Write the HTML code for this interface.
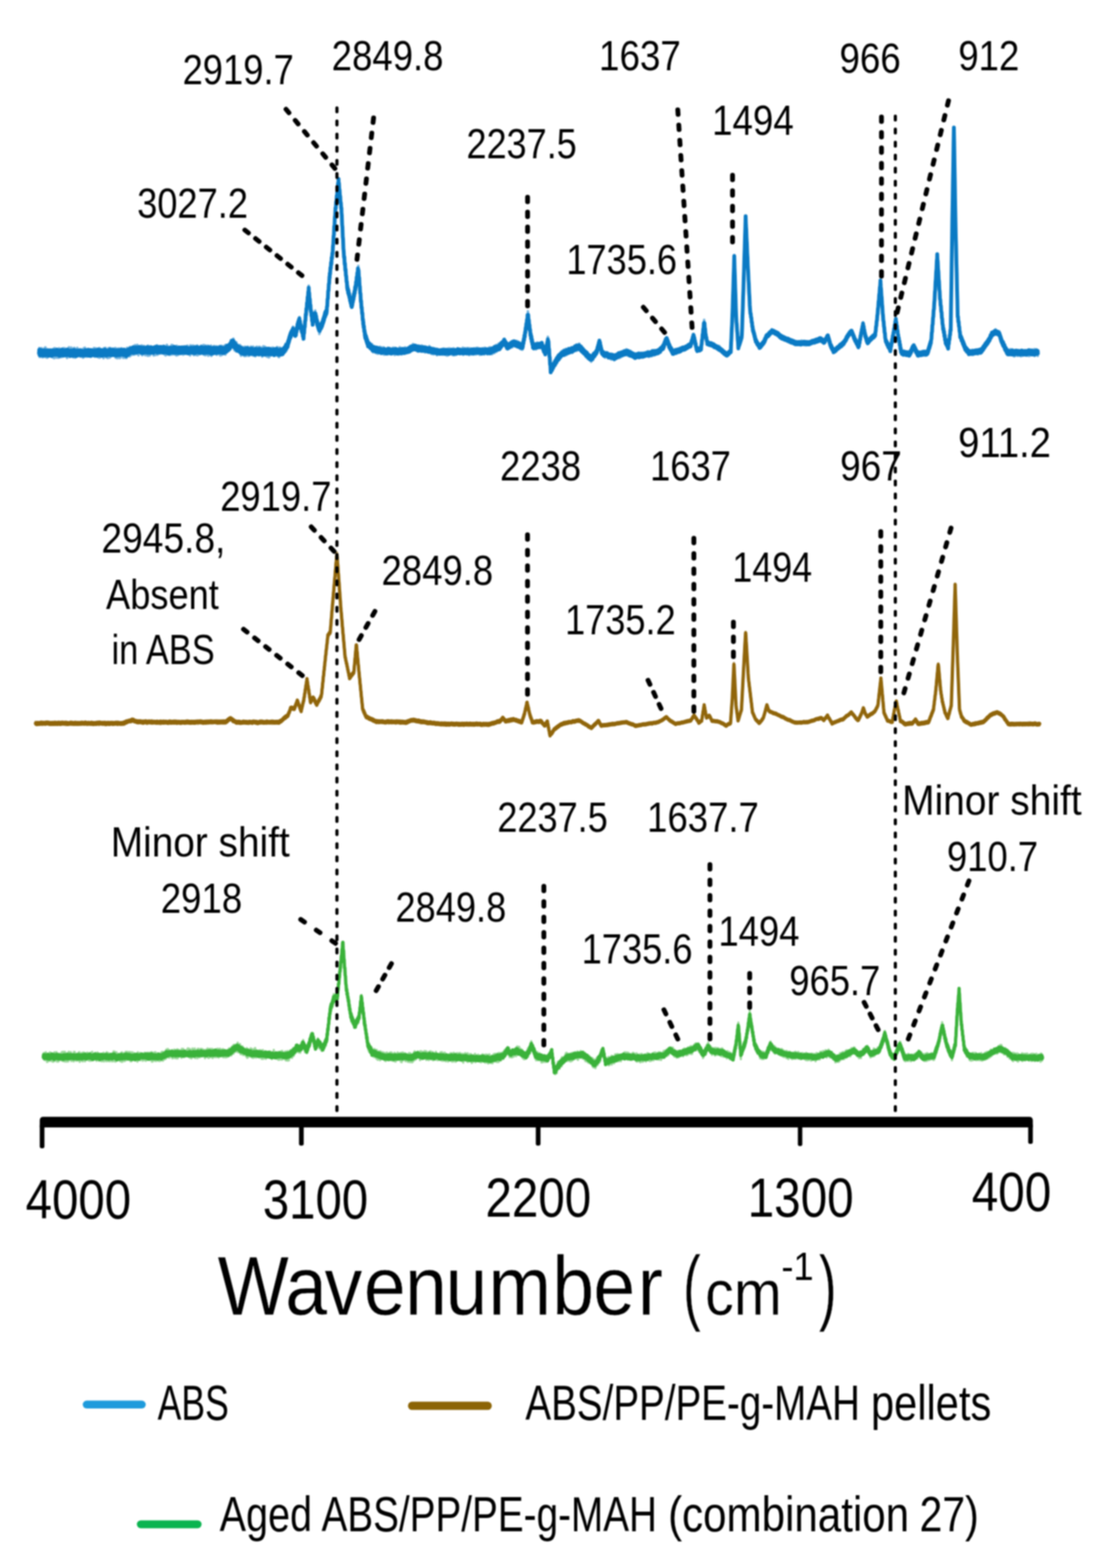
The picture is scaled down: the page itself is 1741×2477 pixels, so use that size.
<!DOCTYPE html>
<html lang="en"><head><meta charset="utf-8"><title>FTIR spectra</title>
<style>html,body{margin:0;padding:0;background:#fff}body{width:1741px;height:2477px;overflow:hidden}svg{display:block;filter:blur(0.8px)}text{white-space:pre}</style>
</head><body>
<svg width="1741" height="2477" viewBox="0 0 1741 2477" font-family="'Liberation Sans', sans-serif" fill="#000">
<rect width="1741" height="2477" fill="#fff"/>
<g fill="none" stroke="#0A7AC4" stroke-linejoin="round">
<path d="M61.5,560.6l.6-10.9.6 14.1.6-10.5.6 9.2.6-10.5.6 11.5.6-13.5.6 10.3.6-5.7.6 9.9.6-12.4.6 11.7.6-9.7.6 7.5.6-11.8.6 10.9.6-12 .6 15.6.6-10.3.6 5.8.6-8.3.6 13.6.6-12.9.6 8.6.6-8.5.6 7.8.6-6.7.6 9.1.6-10.2.6 9.3.6-7.9.6 7.4.6-8.8.6 9.3.6-7 .6 9.9.6-13 .6 12.2.6-9.2.6 11.3.6-15.7.6 11 .6-8 .6 11.1.6-13.5.6 14.3.6-12.5.6 12.5.6-13.7.6 10.8.6-10.4.6 13.5.6-15 .6 12.6.6-11.8.6 8.6.6-6.5.6 11.2.6-11.9.6 8.2.6-9.4.6 12.3.6-13.3.6 11 .6-9.8.6 10.7.6-12 .6 12.6.6-10.2.6 10 .6-7.8.6 5.7.6-9.7.6 14.7.6-14 .6 10.4.6-7.9.6 8.7.6-14 .6 15.2.6-12.8.6 13.1.6-11 .6 9 .6-13.2.6 13.8.6-11.1.6 9.1.6-9.9.6 13.7.6-10.5.6 9.6.6-14.1.6 15.2.6-13.9.6 13.9.6-12.9.6 11.1.6-10.9.6 7.7.6-10.2.6 12.9.6-8.9.6 9 .6-10.3.6 9.7.6-8.8.6 9.7.6-11.4.6 12 .6-10.6.6 7.7.6-6.5.6 7.4.6-9.2.6 12.8.6-14.6.6 13.9.6-14.3.6 11.1.6-11.8.6 13.8.6-9.1.6 5.3.6-5.2.6 9.5.6-10.4.6 7.2.6-9.3.6 10.5.6-7.3.6 6.2.6-9.1.6 8.6.6-7.3.6 10.8.6-11.6.6 9.3.6-9.4.6 7.8.6-7.3.6 9.7.6-8.4.6 6.6.6-10.4.6 13 .6-9.2.6 9.9.6-13.3.6 9.7.6-5.4.6 5.8.6-9.5.6 10.3.6-9.7.6 13 .6-12.2.6 9.5.6-11.9.6 15.3.6-12.8.6 9.2.6-10 .6 11.1.6-10.3.6 10.3.6-10.5.6 8.8.6-7 .6 11.9.6-15.7.6 12 .6-11.8.6 11.5.6-12.2.6 14.5.6-11.3.6 9 .6-6.4.6 10 .6-10 .6 10.1.6-15.4.6 13.6.6-9.4.6 10.7.6-15.5.6 14.4.6-12.3.6 10.3.6-9.2.6 8.1.6-10.3.6 11.3.6-8.5.6 6.8.6-9.4.6 10.6.6-9.6.6 10.2.6-12.1.6 15.2.6-9.9.6 6.2.6-7.8.6 12.5.6-15.2.6 11.5.6-7.9.6 9.8.6-13.7.6 15.2.6-12.3.6 12 .6-13.9.6 11.8.6-13.1.6 12 .6-10.9.6 9.7.6-6.4.6 10.8.6-11.7.6 10.5.6-12.7.6 13.7.6-12.2.6 9 .6-8.2.6 11.8.5-13.8.1 13.4.6-15.8.6 11 .6-9.1.6 8.2.6-6 .6 5.7.6-10.3.6 14.1.6-14.9.6 11.3.6-10.8.6 12.5.6-12.1.6 9.9.6-9.8.6 6.5.3-7.2.3 11.6.6-13.3.6 13.5.6-12.5.6 8.8.6-11.2.6 14.4.6-9.9.6 9.1.6-9.5.6 5.7.6-10.4.6 10.6.6-6.3.6 12.2.6-13.3.6 8.5.6-6.2.6 7.3.6-10.8.6 9.9.6-10.5.6 12.7.6-13.1.6 15.5.6-11.9.6 7.9.6-9.3.6 7.8.6-9.3.6 9.2.6-5.1.6 10.7.6-11.9.6 10 .6-10.5.6 9.3.6-7 .6 10.8.6-15.8.6 15.8.6-11 .6 6.6.6-10.1.6 14.2.6-14 .6 11.8.6-12.5.6 10.1.6-9.3.6 10 .6-8 .6 6.7.6-7 .6 12.1.6-13.1.6 11.2.6-12.3.6 13.6.6-12.6.6 8.9.6-8.7.6 8.8.6-11.9.6 15 .6-11.6.6 8.5.6-9.7.6 11.3.6-12.1.6 9.9.6-6.8.6 6.7.6-6.7.6 8.6.6-8.1.6 5.8.6-8.8.6 10.2.6-11.4.6 12.5.6-12.6.6 10.5.6-8.3.6 12.3.6-9.7.6 10.6.6-11.7.6 10.1.6-15.1.6 15 .6-11.4.6 7.3.6-8.2.6 13.1.6-12.1.6 12 .6-10.6.6 10.7.6-10.6.6 6.8.6-11.8.6 14.9.6-14.9.6 14.7.6-13.9.6 13.7.6-9.7.6 8.7.6-8.2.6 9.8.6-12.6.6 10 .6-6.7.6 10.7.6-15.3.6 12.8.6-11 .6 12.7.6-12.4.6 9.8.6-9.2.6 8.4.6-6.6.6 8.7.6-11.1.6 10.7.6-8.7.6 7.3.6-8.1.6 6.7.6-7.4.6 11.5.6-11.9.6 9.3.6-10.6.6 9.9.6-6.3.6 8.1.6-11.2.6 11.1.6-10.9.6 11.2.6-13.1.6 10.6.6-8.9.6 11 .6-8.8.6 8.6.6-10.6.6 13.7.6-15.9.6 11.9.6-10.4.6 9.1.6-6 .6 8.9.6-13.4.6 11 .6-10.5.6 14.8.6-11.9.6 11.3.6-13.9.6 12.2.6-11.4.6 13.1.6-12.8.6 13.5.6-15.3.6 15.4.6-13.7.6 9.5.6-7.3.6 7.6.6-9.9.6 12.3.6-9.8.6 9.1.6-13 .6 11.1.6-10.1.6 9.1.6-9.9.6 9.6.6-10.8.6 15.2.6-13.3.6 10.3.6-11.8.6 15.8.6-11.2.6 10.3.6-14 .6 13.9.6-12.9.6 11.6.6-12.8.6 15.8.6-13.1.6 11.5.6-12.2.6 8.6.6-7.8.6 7.9.6-10.8.6 16.2.6-11 .6 9.2.6-11 .6 7.7.6-7.4.6 7.9.6-11.1.6 9 .6-6.2.6 8.7.6-7.4.6 8.3.6-12 .6 13.5.6-10.9.6 7.9.6-9.6.6 9.4.6-9.9.6 9.8.6-10.2.6 13.8.6-14.2.6 15.1.6-13.7.6 11 .6-12.6.6 14.3.6-13 .6 10.6.6-9 .6 7.5.6-10 .6 10.4.6-10.2.1 12.6.5-13.9.6 14.5.6-15.4.6 10.6.6-9.4.6 11 .6-10.6.6 8.7.6-10.2.6 9.5.6-8.3.5 6.9.1-10.2.6 8.3.6-9.5.6 10.7.6-14.1.6 11 .6-12.3.6 10.1.6-8.6.6 5.6.5-6.8.1 10.5.6-12.7.6 15.8.6-11.7.6 14.4.6-12.5.6 13 .6-11.4.6 12.4.6-14.1.5 12.8.1-7.8.6 9.8.6-11.1.6 10.1.6-6.9.6 7.9.6-9.3.6 10.3.6-11.6.6 13.6.6-12 .6 15.3.6-14.3.6 12.5.1-12.4.5 12.6.6-12.3.6 12.6.6-11.3.6 11 .6-12.1.6 14.3.6-14.7.6 14.4.6-14.4.6 14.4.6-13.1.6 10.4.6-8.4.6 10.6.6-14.2.6 13.2.6-9 .6 10.5.6-12.7.6 10.2.6-7.9.6 8 .6-12.2.6 11.7.6-9.2.6 11 .6-8.4.6 8 .6-13.2.1 14.2.5-11.3.6 11.2.6-12.4.6 9.5.6-7.2.6 11.3.6-11.6.6 6.7.6-10.2.6 12.8.6-10.3.6 10.3.6-12.3.6 10.2.6-9.6.6 12.8.6-13.8.6 11.6.6-10.2.6 10.2.6-9.3.6 9.3.6-10.4.6 14.3.6-12.2.6 7.9.6-12 .6 14.5.6-14 .6 10.2.6-9.9.6 13.8.6-9.9.6 9 .6-11.5.6 14.1.6-10.7.6 9.6.6-9.3.6 11.3.6-12.6.6 12.8.6-14.8.6 12.5.6-9.8.6 9.5.6-8.6.6 6.2.6-9.9.6 11.1.6-11.4.6 10.3.6-10.3.6 13 .6-10.8.6 7.1.6-7.9.6 10.2.6-8.2.6 6.3.6-6.2.6 8.7.6-13.2.6 11.8.6-6.3.6 9 .6-13.6.6 15.1.6-13.7.6 10 .6-11.5.6 10.3.6-8.8.6 8.7.6-7.3.6 9.4.5-9.2.1 7.4.6-7.9.6 8.9.6-11.6.6 8.7.6-9.4.6 8.3.6-10.6.6 8.5.6-12 .6 12.6.6-9.8.6 7.3.6-12.6.1 9.6.5-8.8.6 6.4.6-12.8.6 8.2.6-11.4.6 8.9.6-9.9.6 6.2.3-8.8.3 3.7.6-8.3.6 5.6.6-6.5.6 4.6.6-7.4.6 7.8.1-11.1.5 8.6.6-2.9.6 8.7.6-6.1.6 6 .6-4.2.5 5.4.1-4.7.6 3.6.6-12.5.6 7 .6-12.9.5 7.7.1-8.1.6 6 .6-12.4.6 8.7.6-9.2.5 3.6.1-7.4.6 12.2.6-5.2.6 10.4.6-6.3.5 10.3.1-5.9.6 8.2.6-4.4.6 8.5.6-5.5.6 11.7.4-6.6.2 7.8.6-15.4.6 4.4.6-15.3.6 2.1.6-14.3.3 5.6.3-11.2.6 5.5.6-16.2.6 1.6.6-9.9.6 1.8.6-14.6.6 2.1.2-10.9.4 11.9.6 .2.6 13.9.6 .1.6 11.8.5-3.6.1 10.9.6-3.7.6 9.8.6-2.3.6 11.4.5-4.2.1 3.8.6-7.5.6 6.3.6-10.1.6 3.4.6-9.7.6 8.5.3-11.6.3 10.1.6-3.8.6 9.4.6-4.3.6 10 .3-5.2.3 9.4.6-9.2.6 11.9.6-4.7.6 9.1.6-6.2.2 10.5.4-11.7.6 9.1.6-11.2.6 7.5.6-11.1.6 9.4.6-9.7.5 4.4.1-6.1.6 5.2.6-8.2.6 3.4.6-9.4.6 4.1.6-9.2.6 7.7.1-7.7.5 5.2.6-7.6.6 5.4.6-9.1.5 7.7.1-9.5.6-.9.6-15.3.6 1.7.6-13.6.6-2 .6-15.3.6 2.6.3-13.3.3 9 .6-16.5.6 6.5.6-15.8.6 6.8.6-15.6.6 3.1.6-11.4.2 6.8.4-16.2.6 2.1.6-19.1.6 .6.6-17.5.6 .3.6-19.5.5 .6.1-8.1.6 4.2.6-15.4.6 1 .6-10.8.6 1.5.6-14.9.6 3.9.5-12.8.1 6.9.6-2.4.6 12.9.6 1.8.6 12.4.6-.9.6 10.9.6 .7.3 10.2.3-2.9.6 17.2.6 7.3.6 18.5.6 1.4.6 18.3.3-2.1.3 10.6.6 .7.6 14.2.6-4.2.6 13.8.6-2.5.6 15.5.6-4.2.6 17 .6-3.2.6 10.7.6-6.4.6 12.1.6-8.4.6 12.8.6-7.6.6 13.6.6-6.6.6 7.8.6-5.2.6 12.6.5-7.3.1 7 .6-9.9.6 6.2.6-13.5.6 6.4.6-9.4.6 4.5.6-11.8.6 3.2.6-8.5.4 5.8.2-7.9.6 0 .6-9.8.6 4.1.6-14.9.6 6.4.6-14.2.5 4.6.1-7.2.6 15.7.6-.6.6 16.7.6-3.5.6 16.6.6-.4.3 11.2.3-3.2.6 12.9.6-2.3.6 14.1.6-4 .6 14.3.5-1.9.1 10.9.6-7.1.6 13.2.6-3.4.6 10.8.3-7.3.3 11.9.6-8 .6 12.2.6-9.3.6 13.2.6-6.8.6 9.3.6-6.8.1 8.6.5-7.8.6 9.2.6-6.5.6 7.2.6-5.5.6 6.1.6-6.2.6 5.8.6-3.9.6 5.7.6-7.4.6 9.9.6-6.4.6 9.4.1-8.4.5 6.9.6-8.4.6 9.5.6-8 .6 8.7.6-8.6.6 8.6.6-8.5.6 9.8.6-10.4.6 7.2.6-4.3.6 8.1.6-8.4.6 4.9.6-4.8.6 6.5.6-9.3.6 9.4.6-8.2.6 10.4.6-7.3.6 6.8.6-10.1.6 9.9.6-8.2.6 7.5.6-9.1.6 11.5.6-7.9.6 6.3.6-7.4.6 8.1.6-7 .6 5 .6-5.7.6 6.5.6-8.9.6 10.6.6-10.6.6 9.6.6-6.8.6 5.5.6-7.9.6 7.8.6-7 .6 9.5.6-7.5.6 7.6.6-7.5.6 5.6.6-9 .6 8 .6-6.4.6 7.3.6-8.9.6 11.6.6-8.9.6 6.8.6-9 .6 9.3.6-6.7.6 7.6.6-8.1.6 6.8.6-5.7.6 7.4.6-10.2.6 10 .6-11.7.6 8.6.6-6.9.6 7.9.6-8.3.6 10.3.6-7.9.6 5.8.6-7.8.6 8.3.6-5.9.6 4.7.6-6.8.6 8.5.6-10.1.6 9.9.6-8.3.5 6.9.1-6.1.6 6.2.6-7.9.6 7.3.6-5.9.6 5.6.6-7.4.6 6.6.6-7.5.6 6.3.6-8.1.6 9.7.6-9 .6 5.5.6-5.3.6 7.3.6-9.5.6 9 .6-10.6.3 8.4.3-6.9.6 6.9.6-5.4.6 4.6.6-4.9.6 4.9.6-6.1.6 8.9.6-8.5.6 8.9.6-7.2.6 5.3.6-6.6.6 9.8.6-8.7.6 5.2.6-3.5.6 5.2.6-7.1.6 6.5.6-4.9.6 7.4.6-10 .6 9.2.6-7.4.6 8.1.6-5.5.6 5 .6-5.4.6 5.2.6-7.8.6 9.7.6-6.4.6 4 .6-6.7.6 7.1.6-5.5.6 5.9.6-5 .6 3.9.6-4.5.6 6.1.6-8.9.5 10.4.1-7.2.6 7.7.6-7.4.6 7.1.6-7.1.6 8.9.6-8.9.6 8.5.6-9.4.6 9.9.6-9.4.6 9.9.6-8.7.6 8.1.6-8.8.6 8.5.6-7.8.6 8.1.6-7 .6 9 .6-9.7.6 8.6.3-5.9.3 6 .6-6.1.6 4.9.6-6.5.6 7.6.6-6.6.6 5.6.6-7.1.6 7.6.6-7.1.6 5.7.6-5.5.6 7.6.6-8.5.6 8.2.6-9.6.6 9.8.6-9.2.6 6.5.6-4.8.6 7.6.6-7 .6 8.1.6-7.5.6 7.6.6-8.1.6 8 .6-10.8.6 8.4.6-8.4.6 7.5.6-7.7.6 8.3.6-6.9.6 5.7.6-6.4.6 7 .6-7 .6 9.7.6-9.2.6 6.1.6-7.4.6 11 .6-10.2.6 7.8.6-7.5.6 9.4.6-9 .6 8.7.6-9.1.6 8 .6-9.2.6 9 .6-7.8.6 6.3.6-5.5.6 5.4.6-6.9.6 6.3.6-4 .6 4.3.6-4.6.6 5.9.6-6.9.6 6.2.6-8.6.6 11.3.6-9.9.6 9.5.6-10 .6 7.6.6-7.9.6 7.7.6-6.8.6 7.4.6-5.5.6 7.3.6-10.2.6 8.5.6-8.4.6 8.6.6-7.6.6 10.1.6-10.9.6 6.8.6-5.4.6 6.9.6-6.3.6 8.1.6-8.5.6 8.2.6-8.8.6 8.4.6-6 .6 6.7.6-10.1.6 7.8.6-6.8.6 8.1.6-7.1.6 7.8.6-10.5.6 7.4.6-7.2.6 8.6.6-8.7.6 7.8.6-6.9.6 6.7.6-5.3.6 8.8.6-10 .6 9.4.6-8.8.6 7.3.6-7.5.6 8.9.6-9.8.6 7.1.6-6.1.6 7.5.6-8.1.6 9.6.6-10.9.6 7.5.6-5.4.6 5.3.6-3.8.6 3.7.6-4.4.6 7.7.6-9.4.6 9.1.6-7.8.6 5.3.6-8.2.6 10.7.6-10.7.6 7.7.6-4.8.6 7.4.6-9.4.6 9.9.6-9.5.6 6.9.6-5.5.6 6.3.6-10.9.6 10.9.6-10.3.6 7.3.6-6.4.6 7.4.6-10.8.6 10.7.6-8.7.6 6.5.6-8.5.6 7.1.6-9.1.6 10.4.6-10.3.6 9 .1-9.2.5 8.6.6-8.9.6 6.4.6-8.5.6 6.5.6-7 .6 6.8.6-8.1.6 7.5.6-8.8.6 8.7.5-9.1.1 4.7.6-6.5.6 9.5.6-4.7.6 6.9.6-6.5.6 10.7.6-9.7.6 8.3.6-6.2.1 7.5.5-7.5.6 6.5.6-5.9.6 5.3.6-6.8.6 5.6.6-7.8.6 7.8.6-5.6.6 5.7.6-9.2.6 9.6.6-9.4.6 8.4.6-8.1.6 4.8.2-5.2.4 6.1.6-5.6.6 6.5.6-5.8.6 4.7.6-4.8.6 5.5.6-7.2.6 8.9.6-6 .6 6.4.6-8.3.6 9.7.6-7.8.6 7.5.6-5.5.6 7.3.6-6.1.6 7 .6-6.7.6 7 .6-7.5.6 7.9.3-8.5.3 4.5.6-9.1.6 2.8.6-8.1.6 2.6.6-9.4.1 6.7.5-13.1.6 4.9.6-12.2.6 3.9.6-11 .6 3.5.6-10.7.6 1.7.3-9.1.3 9.6.6-1.6.6 10.9.6-3.2.6 13.3.6-3.5.6 13.4.6-2.6.6 7.3.6-4.3.6 10.5.6-5.3.6 13.2.6-7.1.3 7.7.3-7.4.6 9.2.6-6.7.6 5.3.6-6.6.6 5.9.6-7.8.6 9.9.6-9.4.6 7.7.6-8.9.6 7.4.6-7.1.6 7.1.6-4.8.6 3.6.6-4.7.6 7.2.6-8 .6 6.6.6-7.6.6 6.6.6-7 .1 8.5.5-8.3.6 10.4.6-7 .6 11.6.6-8.7.6 9.2.6-4.6.6 6 .6-5.8.4 7.9.2-6.8.6 4 .6-8.5.6 1 .6-10.5.6 5.4.6-12.4.5 7.9.1-6 .6 13.8.6 1.8.6 12.7.6 1.1.6 16.6.6-1.7.3 10.5.3-6.3.6 6.3.6-7.3.6 4.1.6-9.4.6 9 .6-11.2.6 5.4.6-8.4.6 7.4.6-9.4.6 6.2.6-5.3.6 6 .5-8.9.1 4.6.6-6.1.6 8.2.6-10.9.6 7.1.6-9.3.6 9.6.6-10.5.6 8.5.6-7.9.6 7.3.6-9.5.6 7.8.6-10 .5 8.4.1-8.9.6 6.4.6-7.5.6 6.4.6-5 .6 6 .6-9.1.6 7.6.6-7.8.6 9.4.6-9.2.6 7.3.6-8.8.6 10 .6-9 .6 5.5.6-6.1.6 5.2.6-6.9.6 7.6.6-6.2.6 6.7.6-8 .6 7.5.6-7.5.6 7.5.6-8.9.6 7.8.6-7 .6 8.2.6-6.4.6 3.4.6-5.4.6 4.7.6-7.6.6 6.8.6-4.7.6 4.5.6-6.4.6 8 .6-10.4.6 10 .6-8.7.6 5.3.6-3.9.6 5.6.6-9.1.3 7.5.3-7.7.6 9.4.6-6.6.6 8.3.6-5.2.6 4.7.6-7 .6 8.5.6-4.2.6 5.2.6-6.4.6 7.4.6-4.1.6 5.8.6-5.4.6 8.6.6-6.5.6 8.3.6-9.3.6 10.5.6-6.2.6 5.3.6-7.2.6 10.5.6-6.3.6 5.7.6-5.8.6 8 .6-5.5.6 4.8.6-6.8.6 10 .1-6.4.5 5 .6-8.5.6 8 .6-8.6.6 7.9.6-8.6.6 3.6.6-4.8.6 5.1.6-6.5.6 3.6.6-5.8.6 3.4.6-7.5.6 6.8.1-8.4.5 7.4.6-8.7.6 5.1.6-8.9.6 4.5.6-8.8.5 2.3.1-5.5.6 7.5.6-3.8.6 8.6.6-4.2.6 8.5.6-2.8.3 6.9.3-4.5.6 6.8.6-5.7.6 6.7.6-6.4.3 6.8.3-4.1.6 6.5.6-6.8.6 8 .6-8.1.6 6.4.6-4.8.6 3.2.6-3.3.6 6.1.6-7.8.6 9.4.6-7.8.6 7.2.6-6.5.6 4.7.6-4.6.6 7.6.6-8.3.6 9.5.6-9.1.6 8.2.6-6.9.6 7.1.6-6.4.6 7.2.6-7.3.6 8.5.1-7.9.5 6.3.6-7.9.6 8.1.6-7.4.6 6.6.6-8.4.6 7.9.6-6.8.6 4.8.6-6.6.6 4.9.6-4.9.6 7.7.6-7.6.6 5.3.6-7.5.6 8.6.6-9 .6 7.4.6-6.8.6 5.8.6-7 .6 6.4.6-7.5.6 5.6.6-6.1.6 8.1.6-6.8.6 3.7.6-4.6.6 6.3.6-8.2.3 9 .3-6.9.6 4.2.6-3.6.6 7.5.6-8.5.6 6.3.6-5.8.6 9.1.6-8.1.6 6.4.6-7.1.6 9.1.6-6 .6 6.7.6-7.2.6 7 .6-6.1.6 5.6.6-5.5.6 6.9.6-6.3.6 8.1.6-6 .5 4.4.1-7.1.6 8.3.6-7.6.6 7.2.6-6.1.6 5.2.6-5.4.6 4.3.6-7.1.6 9 .6-8.7.6 5.9.6-5.4.6 6.5.6-5.9.6 7 .6-5.5.6 4.4.6-6.4.6 7.6.6-7.9.6 5.8.6-6.3.6 7.1.6-6.2.6 5.8.6-5.7.6 3.8.6-4.2.6 4.4.6-5.2.6 6.1.6-7.9.6 8.3.6-8.3.6 9 .6-7.4.6 4.9.6-4.9.6 4 .6-5.3.6 6.5.6-5.3.6 6.4.6-9.7.6 6.4.6-3.2.6 3 .6-5.9.6 8.2.6-6.3.6 3.1.6-5.1.6 5.9.6-4.3.6 3 .6-3.8.6 4.3.6-4.6.6 5.6.5-6 .1 4.6.6-5.1.6 5.9.6-7.5.6 5 .6-6.8.6 5.2.6-6 .6 3.9.6-4.3.6 5.3.6-8.3.6 5.5.6-5.1.1 6.7.5-7.5.6 4.3.6-10.2.6 4.9.6-7.8.6 4.9.6-5.3.6 2.4.3-5.5.3 6.9.6-4.6.6 8.7.6-6.4.6 7.2.6-2.3.6 7.3.6-3.9.5 7.3.1-8.3.6 7.4.6-3.2.6 5.5.6-3.7.6 5.9.6-2.4.6 4.5.6-3.2.1 4.3.5-5.7.6 6.6.6-7.6.6 6.3.6-7.5.6 6.3.6-5.1.6 4.7.6-6 .6 7.4.6-8 .6 7 .6-5 .6 2.8.6-5.5.6 7.2.6-6.9.6 6.6.6-8 .6 7.1.6-6.1.6 4.7.6-4.9.6 4.5.6-5.3.6 3.5.6-3.1.6 3.1.6-4.7.6 6.2.6-7 .6 4.5.6-4.3.6 5.2.6-4.6.6 2.9.5-4.5.1 4.4.6-4.9.6 4.3.6-5.6.6 4.9.6-4.6.6 4.3.6-6.4.6 6.5.6-7.4.5 6 .1-4.4.6 .8.6-6 .6 4.1.6-8.6.6 2.6.6-5.5.6 3.6.4-7.2.2 6.7.6-3.9.6 9 .6-3.2.6 7.9.6-2 .6 5.9.6-2.3.6 7.3.3-1.5.3 4.1.6-6 .6 4.7.6-3.4.6 4.6.6-5.2.6 3.7.6-4.2.6 2.9.6-4.6.6 5.9.2-3.8.4-1.1.6-7.5.6-1.6.6-10.3.3 2.1.3-5.7.6-1.8.6-9.5.6 .2.4-9.4.2 7.6.6-.7.6 10.1.6 0 .5 10.3.1-4.1.6 7.6.6-1.5.6 7.1.6-.6.6 2.9.6-4.5.6 4.4.6-2.8.6 3.2.6-3.4.6 3.3.6-3 .6 4.8.6-5.1.5 5.9.1-4.1.6 4.6.6-3.9.6 3.9.6-4.2.6 6.1.6-5.4.6 6.4.6-4.4.6 3.2.6-3.8.6 3.8.6-2.1.6 3.5.6-4.3.6 4.2.6-2.2.6 3.3.6-4.6.6 5.6.6-5.7.6 6.6.3-5.6.3 5.8.6-4.1.6 4.8.6-2.7.6 3.2.6-3.3.6 6.2.6-3.6.6 3.1.6-2.6.6 4.3.6-4.6.6 5.1.6-2.8.6 4.6.6-5.1.6 5.6.6-3.8.5 4.2.1-3.5.6 4.8.6-5.5.6 3.2.6-5.1.6 4.6.6-5.3.6 4.7.6-5.7.6 3.9.6-4.3.4 3.4.2-9 .6-8.5.6-19 .6-8 .5-15.3.1 2 .6-25.4.6-13.6.6-23.2.6-14.1.5-20.2.1 7.2.6 15.4.6 23.5.6 13.8.6 24.9.5 9.2.1 6.9.6 3.6.6 11.6.6 4.9.6 13 .6 2.8.4 9.9.2-4.4.6 1.9.6-5.7.6 4 .6-7 .6 3.2.6-7.4.6 2.5.6-5.2.5 2.5.1-7.8.6-14.8.6-22.1.6-13 .6-24.8.5-9.2.1-9.3.6-14.4.6-23.3.6-15.9.6-21.9.5-11.4.1-2.1.6 17.3.6 8.1.6 19.1.6 6.1.6 17.9.4 5.8.2 9.1.6 6.6.6 15.3.6 7.3.6 17.9.6 7.7.3 10.2.3-2.4.6 8.3.6-.4.6 7.9.6 .1.6 9.9.6-1.7.5 8.8.1-4.3.6 5.5.6-.3.6 6.8.6-2.4.6 5.7.6-2.3.6 7.9.3-4.2.3 5.5.6-4.1.6 6 .6-4.2.6 5.6.6-3.2.6 5.1.6-2.5.6 5.5.6-2.5.3 4.2.3-5.8.6 3.8.6-3.2.6 4.4.6-6.5.6 3.4.6-6 .6 5.6.6-5.3.6 3.2.6-4.9.6 3.8.1-5.3.5 4.1.6-5.8.6 3.1.6-6.1.6 3.4.6-6.7.5 4 .1-4.6.6 2.3.6-3.8.6 4.8.6-5.8.6 4 .6-4.1.6 3.3.6-5.2.6 4.9.6-6.5.6 4.4.6-4.1.6 2.2.6-5.3.5 5.7.1-4.3.6 4.9.6-4.2.6 4 .6-5.1.6 4.8.6-2.4.6 2.7.6-2.3.6 3.5.6-3.6.6 3.9.6-2.7.6 3.7.1-4.4.5 5.4.6-4.1.6 4.9.6-3.8.6 5.1.6-4 .6 4.4.6-4 .6 4.8.6-4.2.6 5.3.5-3.6.1 5.3.6-6.3.6 6.3.6-4.6.6 5.7.6-4.2.6 4.5.6-4.7.6 4.7.6-4.2.6 4.7.6-3.7.6 3.2.6-2.7.6 4.5.6-4 .6 5 .6-6.1.6 6.4.6-4.5.6 5.5.6-5 .6 4 .6-4.2.6 5.5.6-4.5.6 5.2.6-6.1.6 5.2.6-3.1.6 3.9.6-4.4.6 5.8.6-3.9.6 3.7.6-5.1.6 6.7.3-5.8.3 5.6.6-6.3.6 4.7.6-2.7.6 3.9.6-4.4.6 4.8.6-4.8.6 4 .6-5.2.6 4.2.6-3.6.6 3.5.6-4 .6 5.4.6-6.5.6 6.6.6-4.3.6 3.7.6-4.5.6 4.9.6-5.5.6 6.4.6-6.9.6 5 .6-3 .6 5 .6-4.6.6 4.8.6-4.8.6 3.8.6-3.8.6 2.6.6-3.3.6 4.6.6-5.7.4 4.5.2-3.3.6 3.3.6-3.7.6 2.9.6-4 .6 4.4.6-5.7.6 4.5.6-3.9.6 4.6.6-4.1.6 3.2.6-3.4.6 4.4.6-5.4.6 2.7.6-3.6.6 4.4.6-6 .6 5.8.6-4.7.6 4.7.6-4.4.6 3.6.6-4 .6 4.2.6-4.8.6 4.6.6-6.5.3 6 .3-4.1.6 3.5.6-3 .6 4.4.6-6.1.6 6.4.6-4.8.6 5.9.6-3.6.6 3.9.3-3.5.3 4.3.6-6 .6 3 .6-5.3.6 3 .6-3.6.6 1.9.6-3.7.6 2.9.6-5.8.3 4.3.3-4 .6 5.8.6-2.3.6 8.2.6-1.8.6 5.3.6-2.8.1 5.6.5-4.3.6 7.2.6-4.2.6 7.1.6-4.9.6 6.6.6-2.4.6 4.6.1-4.6.5 4.9.6-5.1.6 3.9.6-5.6.6 4.2.6-4.7.6 4.2.6-4.2.6 1.8.6-3 .6 2.4.6-4.3.6 2.7.6-2.8.6 3.7.6-6.8.6 5.3.6-4.6.6 4.2.6-4.4.6 3.4.6-5.4.6 5.6.6-6.6.6 4.5.6-5 .6 5.1.1-5.9.5 3.4.6-6.4.6 4 .6-4.2.6 2.6.6-6.8.6 4.3.6-4.1.6 1.6.6-5.6.6 3.6.5-4.9.1 3.9.6-4.6.6 4.8.6-5.7.6 2.5.6-5.4.6 4.4.6-5.6.6 3.6.1-3.2.5 5 .6-2.8.6 5.9.6-3.2.6 5.1.6-3.7.6 6.6.6-4.1.3 6.5.3-4.2.6 5.1.6-1.9.6 5.5.6-3.9.6 6 .6-3 .6 5.1.6-3.7.6 7 .6-4.6.2 5.3.4-6.7.6 2.2.6-7.7.6 1.8.6-7.7.6 0 .1-3.1.5 2.3.6-9.7.6 3 .6-8.1.6 1.7.6-9.2.6 8.4.6-1.3.6 6.2.6-1.8.6 10.1.5-4 .1 5.6.6-2.9.6 8.1.6-3.8.6 5.7.6-2.7.4 7.2.2-5.4.6 4.8.6-4.7.6 2.7.6-3.7.6 2.1.6-5.9.6 5.4.6-6 .5 3.5.1-4.3.6 4.7.6-5.9.6 4.7.6-6.6.6 4.8.6-5.4.6 4.4.6-5.3.6 4.9.6-4.7.6 2.3.6-7.7.6-2.7.6-8.8.6-1 .6-10.1.3 2 .3-6.1.6-1.9.6-11.3.6-3.2.6-11.3.6-1.5.6-10.8.6-3.6.5-9.3.1 5.6.6 3.2.6 12.9.6 3.2.6 12.6.6 4.6.6 12.6.3 .1.3 7.3.6 .5.6 10.1.6 1.4.6 9.8.6 1.7.6 11.4.1-4.3.5 6.4.6-3.7.6 4.8.6-4.1.6 8.3.6-5.4.6 5.7.6-3.9.6 6.7.6-4.1.6 6.3.6-2.4.5 4.6.1-5.1.6 3.4.6-9.3.6 .8.6-7.5.6 3.2.6-10 .6 1.4.1-3.6.5 2.4.6-10 .6 3.5.6-10.8.6 3.7.6-10.2.6 1.9.2-4.8.4 7.6.6-1.7.6 10.1.6-1.4.6 9.4.6-2.5.3 8.7.3-5.6.6 9 .6-1.8.6 7.4.6-.1.6 8.1.6-1.2.6 7.4.5-2.8.1 6 .6-6.7.6 6.4.6-5.5.6 5.3.6-5.7.6 6.7.6-7.2.6 5.9.6-3.3.6 4.1.6-5.1.6 6.5.6-5.2.6 4.1.6-5.1.6 5.5.6-5.9.6 5.6.6-5.3.6 5.6.6-5 .3 7.2.3-8.5.6 7.1.6-6.8.6 3.8.6-8.6.6 6.7.6-7.5.6 5.3.6-6.9.6 5 .6-7.4.3 6.2.3-5.2.6 5.8.6-3.9.6 6.5.6-7 .6 8.2.6-5.4.6 7 .6-2.4.6 6.5.6-5 .1 4.3.5-5.1.6 7.5.6-5.6.6 4.6.6-5.6.6 3.8.6-3 .6 2.9.6-4 .6 4.5.6-5.3.6 6 .6-7.5.6 7.7.6-5.7.6 5.1.6-7.4.6 5.8.6-5.3.6 7.6.6-7.8.6 6.5.6-5.9.6 6.4.6-8.3.5 6.1.1-4.8.6 2 .6-6.1.6 5.1.6-9.4.6 3.8.6-5.6.6 1.9.6-5.7.6 2.4.1-4.2.5-1.3.6-14.2.6 1 .6-14.5.6-1.7.6-13.7.6-.9.6-10.5.3-.3.3-10.7.6-2.6.6-15.7.6-5.4.6-15.3.6-3.8.6-16.4.6-3.2.2-7.6.4 9.5.6 5.7.6 14.4.6 2.8.6 15.9.6 5 .6 15 .3-2.4.3 8.7.6 1.1.6 10.1.6 1.9.6 10.9.6-1.2.6 12.2.6 1.4.6 8 .6-.4.6 6 .6-1.5.6 11.4.6-2.5.6 6.4.3-2.8.3 5.6.6-3.2.6 7.2.6-4.5.6 5.4.6-4.6.6 8.7.1-6.5.5 3.4.6-9 .6 1.5.6-10.4.6-.8.6-9 .5 3.4.1-15.2.6-35.1.6-44.2.6-37.5.6-44.1.6-30.5.6-42 .6-31.4.6-41.5.1-2.5.5 26.7.6 40.5.6 31.2.6 43.2.2 5.1.4 22.9.6 20.2.6 29.5.6 20.8.6 30.6.6 18.6.1 10.2.5 .6.6 7.8.6 .9.6 9.1.6 .5.6 11.6.5-3.6.1 7 .6-5.6.6 9.4.6-4 .6 6.5.5-3.8.1 4.6.6-3.5.6 6.2.6-2 .6 4.6.6-3.9.6 9 .6-6.9.6 6.9.1-4.1.5 5.6.6-3.9.6 6.7.6-3.9.6 4.1.6-3.8.6 4.9.6-4.8.6 8.5.5-5.1.1 5 .6-7.7.6 5.3.6-4.7.6 5.9.6-4.5.6 5.7.6-6.8.6 6.9.6-8.1.6 8.2.6-7.6.6 7.3.6-5.5.6 3.6.6-5.5.6 5.6.6-5.3.6 6.1.6-7.2.6 6.8.6-6.6.6 7.1.6-6.6.6 6.9.6-7.5.6 5.7.6-5.6.6 4.9.6-5.1.6 6.5.6-7 .5 5.3.1-4.4.6 5 .6-5.7.6 4.2.6-8.6.6 6.3.6-7.7.6 7.2.6-7.9.6 5 .6-7.7.6 6.7.6-6.4.6 4.3.6-7.7.6 6.8.6-6.5.6 2.5.6-6.3.6 6.2.5-7.7.1 6.2.6-6.5.6 5.3.6-7.6.6 3.2.6-5 .6 1.8.6-6 .6 5.3.1-5.4.5 5.3.6-5.9.6 4.1.6-6.3.6 6.5.6-6.7.6 5.9.6-6.7.6 5.9.6-7.8.1 6.9.5-5.9.6 7.4.6-5.2.6 3 .6-2.5.6 4.1.6-4.9.6 6.6.6-6.1.6 5.3.1-5.4.5 7.7.6-4.6.6 8.7.6-4.4.6 9.3.6-3.1.5 6.1.1-5.6.6 8.5.6-5.4.6 6 .6-3.7.6 4.7.6-3.5.6 7.9.6-4.4.6 7.2.6-5.5.6 8.2.6-7.5.6 9.9.6-6.9.3 8 .3-8.2.6 8 .6-7 .6 6.3.6-6 .6 5.3.6-7.7.6 6.9.6-6.9.6 8.9.6-6.6.6 5.5.6-7.9.6 8.6.6-7 .6 7.6.6-5.8.6 8 .6-9.7.6 7.2.6-5.8.6 7.3.6-9.4.6 8.8.6-6.8.6 5.5.6-6.8.6 8.8.6-9.5.6 6.9.6-4.2.6 6 .6-7 .6 7.7.6-7.3.6 8 .6-10.2.6 7.1.6-4.4.6 6.8.6-7.1.6 4.1.6-5.4.6 5.5.6-4.3.6 6 .6-8 .6 8.9.6-6.3.6 3.5.6-5.3.6 8.1.6-7.1.6 6.3.6-5.8.6 7 .6-10.1.6 10.3.6-8.5.6 4.9.6-6.6.6 8 .6-6.3.6 6.4.6-8 .6 9 .6-7.8.6 6 .6-4.7.6 4 .6-7.4.6 11 .6-7.4.6 5.9.6-9.1.6 9.3.6-9.3.6 7.8.6-6.8.6 9.4.2-6.9" stroke-width="4" stroke-opacity="0.55"/>
<path d="M61.5,559.7l.5-6.9.5 8 .5-8.6.5 7.9.5-6.3.5 7.8.5-8 .5 7.2.5-7.2.5 7.5.5-7.7.5 7.2.5-6.6.5 7.8.5-8.1.5 6.8.5-7.2.5 7.9.5-6.7.5 7 .5-7.8.5 7.3.5-7.2.5 6.6.5-6.6.5 6 .5-5.9.5 7.7.5-8.2.5 8.5.5-8.1.5 8.1.5-8.3.5 8.1.5-6.9.5 6.7.5-7.9.5 7.1.5-6.1.5 7.7.5-7.9.5 6.4.5-6.8.5 6.6.5-7.3.5 7.5.5-7 .5 6.9.5-7.1.5 6.3.5-6.3.5 6.9.5-7.1.5 7 .5-6.8.5 6.6.5-7.6.5 7.9.5-7.3.5 7.4.5-7.3.5 8 .5-7 .5 7 .5-6.8.5 7.7.5-8.8.5 7.3.5-6.5.5 7.2.5-8.4.5 6.5.5-7.3.5 8.4.5-8 .5 7.4.5-6.9.5 8.7.5-7.8.5 7 .5-6.5.5 6.8.5-7.9.5 6.8.5-7.2.5 6.4.5-6.4.5 8.3.5-8.3.5 7.3.5-8 .5 8 .5-6.3.5 6.4.5-6 .5 6.2.5-6.3.5 7.6.5-7.4.5 6.4.5-7.5.5 8.5.5-7.7.5 7.4.5-7.4.5 7.4.5-8 .5 8.4.5-8.8.5 7.6.5-8 .5 7.9.5-7.2.5 8.3.5-8.1.5 8.1.5-7.2.5 7.9.5-8.4.5 7.2.5-7.6.5 7.9.5-7.2.5 6.6.5-6.4.5 6 .5-7 .5 7.2.5-6.2.5 6.8.5-7.6.5 7.6.5-7.9.5 7.6.5-6.9.5 7.2.5-6.8.5 6.4.5-6.6.5 7.3.5-7.2.5 7.1.5-7.3.5 7.3.5-7.9.5 7.5.5-8.1.5 8.2.5-7.9.5 6.2.5-6.4.5 6.7.5-6.7.5 8.1.5-8.6.5 7.3.5-6.9.5 8.9.5-8.3.5 6.6.5-7.2.5 7.9.5-8.1.5 9.4.5-8.8.5 8.6.5-7.7.5 6.9.5-7.8.5 6.4.5-6.4.5 7.2.5-6.6.5 6.7.5-7.4.5 8.1.5-7.6.5 7 .5-7.6.5 8.1.5-7.4.5 7.6.5-6.9.5 7.4.5-8.3.5 7.6.5-9.1.5 9.1.5-8.7.5 8.2.5-7.1.5 7.1.5-8.1.5 7.3.5-5.8.5 7.6.5-9 .5 8.9.5-8.6.5 8.7.5-7.9.5 7.7.5-8.2.5 7 .5-7 .5 7.5.5-8.6.5 7.5.5-7.6.5 8.7.5-7.8.5 6.9.5-5.9.5 7.6.5-8 .5 7.2.5-7.4.5 6.7.5-6.5.5 6.1.5-6.6.5 7.4.5-7.4.5 6.2.5-7.4.5 8.6.5-6.5.5 7.1.5-8.1.5 7.7.5-8.2.5 7.8.5-6.9.5 7.3.5-8.3.5 8.4.5-6.9.5 6.9.5-7.7.5 7.6.5-7.1.5 7.7.5-8.2.5 7.4.5-7.2.5 8.3.5-7.9.5 6.5.5-7.1.5 7.2.5-7 .5 7.6.5-7.9.5 8.1.5-7.1.5 6.8.5-8.1.5 7.4.5-7.9.5 7.5.5-7.5.5 7.9.5-7.7.5 7.2.5-6.3.5 6.6.5-5.7.5 6.5.5-8.6.5 8.3.5-6.6.5 6.9.5-7.2.5 7.4.5-6.6.5 8.1.5-8.5.5 6.8.5-8 .5 8.5.5-8.8.5 5.8.5-6.3.5 7.9.5-7.5.5 6.2.5-7.8.5 7.1.5-7.6.5 7 .5-7.1.5 6.9.5-7.1.5 7.2.5-7.8.5 7.5.5-8.3.5 7.1.5-7.1.5 8.8.5-7.7.5 7.1.5-6.9.5 6.8.5-8.1.5 7.9.5-7.5.5 7.1.5-7.4.5 8.3.5-8.1.5 7.1.5-7.4.5 7.3.5-6.8.5 6.5.5-7.6.5 7.5.5-6.6.5 7.2.5-6.9.5 6.3.5-6.7.5 8.8.5-8.6.5 8.2.5-7.7.5 6.6.5-6.5.5 8 .5-8.8.5 8.4.5-7.1.5 6.7.5-6.9.5 5.5.5-6.3.5 6.7.5-6.3.5 7.1.5-8.2.5 8.8.5-8.9.5 8.1.5-6.6.5 7.7.5-8.2.5 6.9.5-7.5.5 8.1.5-8.2.5 8.8.5-8.5.5 7.3.5-7.5.5 8.4.5-8.1.5 7.5.5-7.1.5 6.5.5-6.2.5 7.6.5-7.9.5 6.5.5-7.5.5 7.1.5-6.4.5 6.1.5-6.7.5 6.1.5-7.2.5 8.6.5-7.2.5 8.1.5-8.2.5 7.4.5-7.9.5 7.9.5-8 .5 8.6.5-7.3.5 7.3.5-7.8.5 7.2.5-8.3.5 8.4.5-6.5.5 6.2.5-7.4.5 7.7.5-7.5.5 8.2.5-8.5.5 8.7.5-9.2.5 8.2.5-8 .5 8 .5-6.6.5 6.6.5-6.8.5 7.6.5-7.7.5 7.1.5-7.1.5 6.9.5-6.7.5 8.5.5-6.8.5 6 .5-6.9.5 8.1.5-8.3.5 6.9.5-8.1.5 7.7.5-7 .5 6.7.5-6.7.5 7.5.5-7.4.5 6.8.5-7.5.5 7.9.5-8 .5 7.4.5-8.4.5 9.4.5-9.2.5 8.9.5-7.3.5 7.1.5-7.7.5 8.4.5-8.1.5 8.1.5-7 .5 6 .5-6.8.5 7.3.5-7.4.5 8.1.5-9 .5 9 .5-8.6.5 7.1.5-7.3.5 7.3.5-6.9.5 8.4.5-9 .5 8.4.5-8.4.5 7.4.5-5.6.5 6.5.5-8.2.5 7.5.5-6.6.5 7.4.5-6.9.5 7.3.5-7.5.5 6.4.5-7.8.5 7.8.5-6 .5 6.6.5-7.4.5 8 .5-7.7.5 8.4.5-8.3.5 8.1.5-7.5.5 6.2.5-6.7.5 7.2.5-7.1.5 5.5.5-6.6.5 7.5.5-6.5.5 7 .5-7 .5 6.1.5-5.9.5 7.2.5-8.4.5 8.7.5-7.6.5 6.6.5-7.8.5 8.7.5-8.9.5 8.3.5-8.5.5 8.3.5-8.4.5 8 .5-7.9.5 7.9.5-7.2.5 7.2.5-6.3.5 7.2.5-7.6.5 6.7.5-7.5.5 8.4.5-7.5.5 7.5.5-9.1.5 8 .5-7.7.5 6.9.5-6.3.5 8.3.5-8.4.5 8.6.5-7.2.5 5.7.5-6 .5 5.8.5-7.2.5 8.8.5-9.2.5 8.2.5-7.4.5 6.9.5-6.9.5 6.9.5-6.5.5 7.6.5-8.3.5 7.3.5-8 .5 7.8.5-7.6.5 9 .5-7.9.5 8.1.5-7.6.5 8.8.5-9 .5 8.4.5-8.4.5 7.7.5-8 .5 8.9.5-8.3.5 7 .5-7.9.5 7.8.5-7.1.5 7.8.5-7.9.5 6.7.5-6.9.5 7.9.5-7.5.5 6.1.5-6.6.5 7.9.5-7.7.5 7.3.5-6.8.5 6.6.5-7 .5 6.7.5-7.3.5 7.9.5-8.8.5 7.4.5-6.8.5 6.7.5-6.5.5 8.2.5-6.6.5 6.9.5-8.2.5 7.8.5-6.8.5 7.3.5-7.1.5 6.4.5-7.2.5 7 .5-7.7.5 5.8.5-6.9.5 7.5.5-8 .5 6.9.5-8.3.5 6.9.5-6.7.5 7.2.5-7.3.5 6.2.5-7.6.5 6.5.5-7.2.5 5.9.5-7.3.5 5.5.5-7.3.5 7.2.5-9.5.5 8.2.5-8.2.5 7.1.5-8 .5 8 .5-6.9.5 8.6.5-7.1.5 8.7.5-7.2.5 8.2.5-6.4.5 7.6.5-6.8.5 7.8.5-6.3.5 7.8.5-7.4.5 7.4.5-7 .5 7.6.5-6.3.5 6.9.5-5.8.5 6.6.5-7.5.5 7.6.5-6.4.5 8.2.5-8.2.5 8.6.5-7.2.5 7.7.5-7.7.5 6.3.5-6 .5 7.7.5-7.6.5 8 .5-7.4.5 7.1.5-7.1.5 7.5.5-8.9.5 7.7.5-7.7.5 6.5.5-6.1.5 6.2.5-6.9.5 7.5.5-6.6.5 7.5.5-6.3.5 6.4.5-7.4.5 8.3.5-8.6.5 7.8.5-7.1.5 6.6.5-6.6.5 7.2.5-8.3.5 7.5.5-5.9.5 7 .5-7.1.5 6.8.5-5.9.5 6.3.5-6.3.5 7.3.5-8.8.5 7.7.5-8 .5 8.7.5-8.3.5 7.5.5-6.4.5 6.5.5-7.6.5 7.6.5-7 .5 7.4.5-7.7.5 7.9.5-8.7.5 8.4.5-6.8.5 5.6.5-5.6.5 6.5.5-6.2.5 6 .5-6 .5 7.3.5-8.3.5 6.6.5-5.9.5 6.2.5-6.6.5 7.6.5-8.5.5 8.9.5-7 .5 6.5.5-8.3.5 7.9.5-8 .5 6.8.5-6.8.5 8.2.5-7.9.5 6.6.5-7.4.5 9.3.5-7.7.5 7.4.5-7.4.5 7 .5-7.9.5 7.9.5-7.5.5 8 .5-7.7.5 6.6.5-5.6.5 6.4.5-7.2.5 7.1.5-7.5.5 8.3.5-6.7.5 7.4.5-9.6.5 7.9.5-7.1.5 6.9.5-6.2.5 5.7.5-7.6.5 7.9.5-6.4.5 6.3.5-6.2.5 7.9.5-7.5.5 6.4.5-5.8.5 7.1.5-7 .5 6.9.5-8.6.5 7.3.5-6.4.5 7.1.5-7.9.5 6.5.5-6.9.5 7.5.5-7.5.5 6 .5-7.1.5 6.1.5-7.2.5 6.1.5-7 .5 4.2.5-6.1.5 5.6.5-7.6.5 5.2.5-5.2.5 4.6.5-5.5.5 4.1.5-8.5.5 4.1.5-6.7.5 3.4.5-7.3.5 3.7.5-6.9.5 4.1.5-7.1.5 5.5.5-7.6.5 4.1.5-6 .5 4.6.5-6.4.5 4.6.5-6.7.5 5.4.5-2.9.5 6.5.5-4.3.5 5.7.5-4.7.5 6.3.5-4.9.5 3.7.5-7.5.5 2.4.5-7.2.5 3 .5-8 .5 3.7.5-7.2.5 3.7.5-6.7.5 3.7.5-6.5.5 8.2.5-4 .5 8.7.5-3.4.5 7.1.5-3.9.5 7.8.5-4.4.5 7 .5-3 .5 8 .5-3.2.5 7.3.5-9.9.5 1 .5-10.6.5 1.1.5-10 .5-.3.5-9.7.5 .7.5-9.8.5 1.4.5-10.4.5 .7.5-9.8.5 .2.5-8.9.5 .4.2-6.8.3 8.2.5-.2.5 10.9.5-1.2.5 9.7.5-.1.5 10.4.5-1.5.5 8.1.5-2.2.5 9.9.5-2.5.5 9.1.5-7.9.5 3.5.5-7.1.5 4.2.5-8.2.5 3.8.5-6.8.5 3.3.5-2.6.5 6.8.5-3 .5 8.6.5-3.3.5 8.3.5-4.5.5 7.4.5-3.3.5 6.6.5-3.8.5 6.7.5-3.4.5 4.5.5-6.7.5 4.1.5-5.5.5 4.3.5-7.3.5 5.5.5-7.2.5 5 .5-7.2.5 3.8.5-7.2.5 4.5.5-7.2.5 3.9.5-7.1.5 2.9.4-6.6.1 6 .5-7.8.5 5.3.5-7.2.5 5 .5-6.6.2 3.9.3-8.8.5-.9.5-11.4.5-.4.5-12.6.5-.1.5-11.2.5-.1.5-10.8.3 2.2.2-7.5.5 1.3.5-10.1.5 1.3.5-9.5.5 2.6.5-10.5.5 1.6.5-8.5.5 .8.5-12.2.5-2.6.5-12.6.5-2.6.5-13.5.5-1.4.5-12.8.5-2.8.5-11.7.5 .7.5-10.4.5 .3.5-9.9.5 .4.5-9.6.5-.2.5-10.2.5 .7.3-7.8.2 7.4.5-1 .5 10.3.5 .5.5 9.7.5 .2.5 10.8.5-.4.5 9 .4-.7.1 7.4.5 4.4.5 14.8.5 3.9.5 15 .5 3.9.5 14.6.5 4.5.5 9.3.5-.7.5 11.6.5-1.1.5 10.5.5-1.1.5 10 .5 .3.5 9.4.5 0 .5 9.6.2-3.2.3 6.3.5-2.7.5 7.6.5-4.3.5 7.4.5-3 .5 6.9.5-2.7.5 7.7.5-3.3.5 7.4.5-3.8.5 8.2.5-4 .3 5.6.2-6.2.5 3.8.5-7.6.5 2.7.5-7.3.5 2.7.5-8.4.5 3.1.5-7.4.5 3.1.5-9.3.5 3.8.2-6.4.3 3.2.5-9.3.5 2.5.5-10 .5 2.7.5-9.3.5 2.1.5-9.5.5 2.7.5 .8.5 11.4.5-.2.5 12.1.5 1.8.5 10.7.5 .3.5 12.6.5-.9.5 10.8.5-.6.5 9.8.5-.9.5 10.9.5-.9.3 7.9.2-3.7.5 8.5.5-1.8.5 8.3.5-1.2.5 8.1.1-4.2.4 7.3.5-4 .5 6.5.5-4.6.5 8 .5-4.4.5 7.3.5-4.6.5 7.4.2-4.6.3 6.6.5-5.5.5 5.4.5-5.1.5 6.3.5-5.4.5 6.1.5-4.6.5 6.1.5-5.5.5 6.2.5-4.5.5 5 .5-4.3.5 6.4.5-6.2.5 6.8.1-5.7.4 5.7.5-6.4.5 5.6.5-5.2.5 5.4.5-4.7.5 5 .5-4.5.5 5.9.5-6.5.5 5.8.5-4.3.5 4.9.5-5.4.5 5.6.5-5.7.5 6.4.5-5.6.5 5.8.5-5.4.5 4.7.5-4.7.5 5.7.5-4.6.5 5.3.5-5.9.5 5.7.5-5.5.5 5.9.5-5.2.5 4.7.5-4.9.5 4.4.5-4.5.5 4.6.5-5.5.5 5.5.5-4.5.5 4.8.5-3.8.5 5.2.5-5.8.5 5.9.5-6.4.5 5.5.5-6 .5 5 .5-4.5.5 5.2.5-6.3.5 5.8.5-4.5.5 5.6.5-5.7.5 6 .5-5.1.5 4.5.5-5.2.5 5.7.5-6 .5 6 .5-6.1.5 4.9.5-4.5.5 4.3.5-4.3.5 5 .5-5.6.5 5.6.5-5 .5 4.7.5-5.8.5 6 .5-5.1.5 6 .5-6.1.5 5.6.5-5 .5 5.6.5-5.7.5 5 .5-5.5.5 5.5.5-5.4.5 5.5.5-5.3.5 5.5.5-6.2.5 6.2.5-5.8.5 5.2.5-5.9.5 5.9.5-6 .5 5.4.5-4.3.5 5.4.5-6.2.5 5.1.5-4.6.5 4.7.5-4.8.5 4.7.5-5.2.1 5.3.4-4.9.5 4.7.5-4.8.5 4.8.5-5.3.5 4.8.5-4.9.5 4.5.5-6.2.5 6.3.5-6.2.5 5 .5-5.4.5 4.2.5-5.7.5 5.8.5-6.3.5 5.6.5-5.5.5 4.5.5-5.1.5 5.4.3-5.6.2 4.6.5-4.5.5 5.5.5-5.3.5 5 .5-6 .5 6.3.5-5.4.5 5.4.5-4.8.5 5 .5-5.2.5 5.4.5-4.6.5 5.8.5-5 .5 4.1.5-5.3.5 6.3.5-6.3.5 5.4.5-5.2.5 6 .5-5.5.5 5.4.5-4.7.5 4.6.5-4.5.5 5.1.5-5 .5 4.4.5-5.2.5 6 .5-5.2.5 5 .5-4.6.5 4.8.5-5.2.5 4.9.5-4.5.5 5.3.5-5.5.5 5.1.5-4.2.5 5 .5-4.9.5 4.7.5-4.4.5 5.4.5-6.2.5 5.2.5-4.9.3 5.5.2-4.5.5 4.2.5-5.2.5 5.7.5-4.9.5 5.5.5-5.5.5 5.7.5-4.9.5 4.6.5-4.6.5 5.5.5-5.8.5 5.3.5-5 .5 5.3.5-4.7.5 4.9.5-4.5.5 4.6.5-4 .5 4.7.5-5.6.5 6 .5-5.8.5 5.3.3-4.7.2 4.3.5-4.5.5 5.2.5-5 .5 5.3.5-4.9.5 5.3.5-5 .5 4.5.5-4.9.5 5 .5-5.7.5 5.9.5-5.6.5 5 .5-5.7.5 5.9.5-5.4.5 5.3.5-4.9.5 5.3.5-5.7.5 6.2.5-6.4.5 5.3.5-4.2.5 3.9.5-5.2.5 5.7.5-5.2.5 5.5.5-5.5.5 5.7.5-5.4.5 5.2.5-4.9.5 5.5.5-5.8.5 5.3.5-5.1.5 4.6.5-5.1.5 4.6.5-4.9.5 4.8.5-4.4.5 4.6.5-5 .5 5.7.5-4.9.5 5.5.5-6 .5 5.3.5-5.3.5 5.3.5-4.9.5 4.6.5-5 .5 5.5.5-5.2.5 4.7.5-5.1.5 5.1.5-6.4.5 6.3.5-6 .5 6.2.5-5.6.5 5 .5-5.3.5 6.4.5-6.1.5 4.9.5-4.5.5 5 .5-5.1.5 5.1.5-5.2.5 4.8.5-4.3.5 5 .5-5.4.5 4.6.5-4.8.5 4.5.5-4.3.5 5.3.5-5.6.5 5.2.5-4.7.5 5.1.5-5.1.5 4.8.5-5.3.5 5.4.5-5.5.5 5.8.5-4.9.5 5.1.5-5.2.5 4.1.5-4.3.5 4.8.5-4.9.5 4.6.5-4.6.5 4.1.5-5.3.5 6.3.5-5.8.5 5.4.5-5.5.5 6.1.5-6.2.5 6 .5-4.9.5 4.7.5-5.3.5 4.4.5-4.5.5 4.6.5-5 .5 4.9.5-4.4.5 4.4.5-4.8.5 5.7.5-5.6.5 4.8.5-4.4.5 4.6.5-5.2.5 5.5.5-5.5.5 5.7.5-5.8.5 6.4.5-5.7.5 5.9.5-5.5.5 4.6.5-5.5.5 5.8.5-5 .5 4.4.5-5.1.5 5.6.5-5.4.5 4.4.5-4.7.5 4.5.5-4.6.5 5.1.5-5.5.5 5.4.5-4.9.5 6 .5-6.2.5 4.8.5-5 .5 5.5.5-5.4.5 5 .5-4.8.5 6.2.5-6.5.5 5.9.5-6.4.5 5.7.5-6.1.5 4.9.5-5.4.5 5.6.5-4.7.5 4.2.5-5.6.5 4.9.5-4.8.5 4.9.5-6.5.5 5.1.5-5.9.5 6.1.5-5.5.5 5.2.5-5.4.5 5 .5-5.2.5 4.8.5-5.8.5 4.8.5-4.8.5 4.3.5-5 .5 5.7.4-5.3.1 4.9.5-6.8.5 4.9.5-6.6.5 5.7.5-6.4.5 4.9.5-5.9.5 4.3.5-5 .5 4.4.5-5.4.5 3.7.5-5 .4 4.9.1-6.6.5 6 .5-4.4.5 6.1.5-4.2.5 6.1.5-5 .5 6.9.5-4.2.5 5.5.5-4.4.5 5.9.5-4.9.5 4.1.5-5.9.5 5.2.5-5.9.5 5.8.5-5.8.5 4.5.5-5 .5 4.4.5-5.4.5 5 .5-5.7.5 4.4.5-4.9.5 4.7.5-5.9.5 5.2.5-5 .2 4.8.3-5.4.5 5.5.5-5.3.5 5.5.5-5 .5 6.6.5-5.9.5 5.5.5-4.4.5 4.9.5-4.8.5 5.8.5-5.7.5 5.9.5-4.8.5 5.1.5-6 .5 6.2.5-4.9.5 5.7.5-5.6.5 5.9.5-5.4.5 6 .5-5.8.5 5.3.5-3.8.5 4.3.1-4.2.4 2.3.5-7.8.5 2.8.5-7.3.5 2 .5-7.6.5 2.6.5-7.6.5 .8.5-7.7.5 2.2.5-8.8.5 2.3.5-8.6.5 1.8.5-9.6.5 2.2.5-2.3.5 9.3.5-1.1.5 8.8.5-1.2.5 8.8.5-1.4.5 9 .5-2.3.5 7.7.5-3.6.5 8.2.5-3.2.5 7.3.5-2.6.5 8 .4-3.5.1 4.3.5-4.5.5 4.8.5-5.8.5 5.6.5-4.9.5 4.5.5-5 .5 4.7.5-5.1.5 5.2.5-5.2.5 5.1.5-5.8.5 5.7.5-5.6.5 4.6.5-4.5.5 4.3.5-4.9.5 5.1.5-4.5.5 4.6.5-5.8.5 5.1.5-4.9.5 4.6.5-5.7.5 6.8.5-3.5.5 5.8.5-3.3.5 5.9.5-3.7.5 6.2.5-3.6.5 5.4.5-3.2.5 5.8.2-4.3.3 2.6.5-7.9.5 2.5.5-7.7.5 3.1.5-7.4.5 2.1.5-7.2.5 2.4.5 1.2.5 11 .5 .8.5 11.8.5 1.3.5 11.5.5 .5.5 11.8.5-5.9.5 4 .5-5.6.5 4.2.5-6.2.5 3.7.5-5 .5 3.9.5-6.6.5 4.1.5-5.3.5 4.1.5-5.7.5 4.4.5-6.4.5 4.4.5-5.9.1 4.6.4-5.9.5 4.9.5-6.8.5 4.4.5-5.2.5 3.9.5-5.8.5 5.5.5-6.4.5 4 .5-5.2.5 4.2.5-5.2.5 3.9.5-4.8.5 4.2.5-5.2.5 3.6.5-4.2.5 4 .5-4.6.5 3.9.5-4.7.5 5.4.5-6.1.5 5.3.5-5.8.5 5.4.5-5.8.5 4.9.5-5 .5 4.1.5-4.9.5 5.3.5-5.4.5 5.4.5-5.2.5 4.7.5-5.3.5 4.9.5-6.1.5 4.8.5-4.2.5 4.5.5-5.2.5 5.1.5-5.5.5 5.3.5-5.2.5 3.8.5-4.9.5 5.4.5-5.2.5 3.9.5-4.1.5 4.3.5-5.3.5 3.9.5-5 .5 5.2.5-5.3.5 4.2.5-5.6.5 5.3.5-5.5.5 5.5.5-4.7.5 4.8.5-5.1.5 4.5.5-5.2.5 5.7.5-6.1.5 5.4.5-4.3.5 4.9.5-4.1.5 5.9.5-4.9.5 6.2.5-5.1.5 6.1.5-5.1.5 6 .5-4.6.5 5.2.5-4.4.5 5.8.5-4.6.5 4.9.5-3.8.5 4.9.5-3.9.5 5.3.5-4.7.5 5.8.5-5.4.5 6 .5-4 .5 4.7.5-3.6.5 5.4.5-5 .5 5.1.5-4.3.5 5.8.5-4.9.5 6 .5-4.9.5 5.1.5-3 .5 3.1.5-5.2.5 3.9.5-5.3.5 4.6.5-5.6.5 3.7.5-5.8.5 4.4.5-5 .5 4.4.5-5.3.5 3.4.5-4.7.5 3.7.5-5.1.5 3.4.5-4.9.5 2.5.5-6.8.5 2.6.5-6.1.5 2.5.5-6.5.5 2.5.5-5.8.5 5.9.5-2.8.5 7.3.5-2.2.5 6.4.5-2.4.5 7.3.5-3.3.5 5.1.5-3.7.5 4.4.5-3.3.5 4.8.5-4.5.5 5.3.5-4.5.5 4.3.5-4.1.5 4.1.5-4 .5 4 .5-4.5.5 4.2.5-3.6.5 4.5.5-3.5.5 4.2.5-3.9.5 5.2.5-4.9.5 5.1.5-4.6.5 3.7.5-3.9.5 5 .5-4.4.5 3.9.5-3.4.5 4.2.5-4.8.5 4.4.5-4.4.5 5.5.5-4.6.5 5.3.5-5.2.5 5.6.1-4.6.4 3.9.5-4 .5 3.7.5-5.2.5 4.8.5-4.6.5 4.3.5-4.5.5 3.9.5-5.4.5 4.1.5-4.1.5 4.3.5-5.9.5 5.5.5-5.4.5 4.7.5-5.1.5 4.8.5-4.6.5 3.9.5-4.7.5 4.7.5-5.2.5 5.2.5-5 .5 4.4.5-5 .5 4.1.5-4.3.5 4 .5-4.9.5 4.8.5-4.1.5 4.5.5-5.8.5 5.3.5-5.1.5 3.8.5-3.7.5 3.9.5-4.6.5 5.3.5-4.3.5 5.3.5-5.1.5 4.8.5-3.3.5 4.7.5-4.9.5 5.7.5-4.7.5 4.6.5-4.9.5 5.2.5-4.5.5 4.3.5-3.3.5 4.6.5-4.9.5 4.8.5-3.3.5 4.7.5-4.1.5 4.8.5-5 .5 5.1.5-4.5.5 3.6.5-3.8.5 3.5.5-4.7.5 4 .5-4.5.5 4.6.5-4.6.5 5.1.5-5.2.5 5.5.5-5.6.5 5.2.5-5.2.5 4.8.5-4.5.5 4.3.5-4.9.5 4.7.5-4.6.5 4.2.5-3.9.5 4.2.5-4.2.5 4.2.5-4.5.5 4.1.5-4.2.5 3.5.5-3.8.5 4 .5-4.7.5 4 .5-4.4.5 4.4.5-4.3.5 4.2.5-4.4.5 4.3.5-4.5.5 4.8.5-4.7.5 4.1.5-4.3.5 4.8.5-5.1.5 3.4.5-3.7.5 3.9.5-4.7.5 5.1.5-5.5.5 4.6.5-3.9.5 3.9.5-4.8.5 4.6.5-4.9.5 4.5.5-4 .5 4.5.5-4.9.5 4.3.5-3.8.5 3.7.5-4.9.5 4.7.5-4.5.5 4.2.5-5 .5 4.3.5-4.8.5 4 .5-4.9.5 4.2.5-4.5.5 4.3.5-5.6.5 3.5.5-4.6.5 3.7.5-4.2.5 3 .5-4.3.5 4.1.5-5.6.5 4.7.5-6.2.5 3.5.5-6 .5 2.6.5-4.9.5 3.3.5-6.4.5 2.8.5-4.6.5 2.7.5-3.3.5 5.3.5-2.6.5 5.2.5-2.8.5 5.4.5-2.4.5 5.7.5-3.5.5 5.2.5-2.6.5 4.5.5-2.5.5 4.4.5-3.4.5 5.2.5-2.8.5 4.9.5-3.6.5 5.4.5-4 .5 3.9.5-4.5.5 4.1.5-4.6.5 3.9.5-4 .5 3.4.5-4.2.5 4.4.5-4.7.5 3.5.5-3.6.5 3.5.5-3.7.5 3.6.5-4.2.5 3.8.5-3.7.5 3.6.5-3.6.5 3.3.5-4.1.5 3.9.5-4.2.5 3.5.5-4.1.5 3 .5-3.8.5 3.2.5-3.9.5 3.9.5-3.8.5 3.1.5-2.9.5 2.9.5-3.6.5 3.7.5-4.2.5 3.7.5-4.1.5 3.3.5-4 .5 3.4.5-3.4.5 3.1.5-3.6.5 2.5.5-4.1.5 3 .5-3.3.5 2.9.5-3.1.5 3.4.5-3.7.5 3.2.5-5.1.5 1.9.5-5.1.5 1.4.5-4.2.5 1.4.5-5 .5 1.7.5-5 .2 2.9.3-2.2.5 5.2.5-1.7.5 6.3.5-1.4.5 5.5.5-1.2.5 5.3.5-.1.5 4.8.5-1.2.5 3.4.5-3.5.5 2.8.5-3.2.5 3.2.5-3.8.5 3 .5-2.7.5 3.4.5-3.8.5 2.7.5-3.1.5 2.9.5-7.3.5-1.2.5-7 .5-.7.5-8.1.5-1 .5-7.4.5-1.3.5-8 .5-.7.5 .8.5 7.8.5 .9.5 7.5.5 1.5.5 5.2.5-.5.5 5.4.5-.5.5 5.7.5-3.4.5 3.6.5-3.2.5 3.7.5-2.9.5 3.5.5-3.3.5 3.5.5-2.8.5 2.8.5-3.2.5 3.8.5-3.4.5 3.7.5-3.5.5 3.5.5-2.4.5 3.1.5-3.4.5 3.8.5-2.9.5 3.9.5-3 .5 3.1.5-2.7.5 3.1.5-2.3.5 3.2.5-2.8.5 3.2.5-2.7.5 3.5.5-2.7.5 3.4.5-3.1.5 3.7.5-2.8.5 3.8.5-3.1.5 3 .5-2.6.5 3.5.5-2.4.5 3.1.5-2.4.5 3.4.5-3 .5 4.1.5-2.7.5 3.1.5-2.1.5 3.3.5-2.8.5 3.9.5-2.9.5 3.3.5-2.8.5 3.7.5-2.6.5 3.4.5-2.8.5 2.7.5-3.2.5 2.9.5-3.8.5 2.7.5-3.3.5 2.5.5-3.7.5 2.4.5-3.2.5 2.3.5-3.1.5 2.6.5-13.7.5-8.2.5-14.2.5-7.3.5-14.3.5-12.2.5-18.7.5-12.5.5-19.1.5-12.6.5-19.3.5 19 .5 12.5.5 18.4.5 12.7.5 18.9.5 12.8.5 10 .5 3.9.5 9.7.5 4.4.5 9.6.5 4.6.5 9.5.5-4.9.5 1.4.5-4.5.5 1.7.5-4.9.5 2 .5-5.1.5 1.8.5-4.7.5 1.2.5-5.1.5-11.8.5-18.2.5-12.2.5-18.1.5-11.7.5-18.5.5-12.9.5-19.7.5-13.4.5-18.8.5-13.3.5-19.2.5 14.3.5 7.1.5 14.6.5 7.5.5 14.6.5 7.5.5 14.7.5 6.4.5 13.4.5 6.8.5 13.7.5 6.9.5 12.9.5 6.5.5 6.9.5 0 .5 6.3.5 .2.5 7.2.5-.1.5 7.1.5-.1.4 6.2.1-2.9.5 5 .5-1.2.5 4.6.5-1.2.5 5.4.5-1.2.5 5.3.5-1.3.5 5 .5-2.5.5 4.1.5-2 .5 4.2.5-2.2.5 3.6.5-2.2.5 3.5.5-2.3.5 4 .5-2.2.5 4.2.5-3.6.5 3 .5-3.7.5 2.3.5-3.7.5 2.7.5-3.9.5 2.3.5-3.5.5 2.8.5-4 .5 2.5.5-3.9.5 2.6.5-4 .5 2.3.5-4.9.5 2.4.5-4.3.5 1.8.5-4.4.5 2.1.5-3.6.5 2.9.5-3 .5 2.5.5-3.4.5 2.7.5-4.2.5 2.7.5-3.7.5 2.7.5-3.9.5 2.7.5-3.3.5 2.5.5-3.4.5 2.5.5-3.8.5 2.7.5-2.3.5 3.5.5-2.8.5 3 .5-2.7.5 3 .5-2.8.5 3.4.5-2.4.5 3.4.5-3.4.5 3.2.5-2.6.5 3.5.5-3 .5 3.4.5-2.9.5 4 .5-3.4.5 3.8.5-2.5.5 3.6.5-2.3.5 3.5.5-3.2.5 4.1.5-3.1.5 3.8.5-3.1.5 3.7.5-2.8.5 3.2.5-3.5.5 3.4.5-3 .5 3.7.5-3.1.5 3.6.5-3.2.5 3.8.5-2.9.5 2.8.5-2.8.5 3.7.5-3.2.5 3.1.5-2.6.5 3.5.5-3.6.5 3.4.5-3 .5 3.3.5-2.5.5 3.6.5-3.4.5 3.5.5-2.8.5 3.1.5-2.6.5 3.9.5-3.9.5 3.7.5-2.7.5 3.2.5-3.4.5 3.9.5-3.7.5 3.9.5-3.1.5 4 .5-3.1.5 3.5.5-3.1.5 3.2.5-2.9.5 3.1.5-3.6.5 3.5.5-3 .5 3.2.5-3.6.5 3.5.5-3.6.5 3.2.5-3 .5 3.4.5-3.2.5 3 .5-3.3.5 4.1.5-3.8.5 3.4.5-3.1.5 2.5.5-2.9.5 3 .5-3.4.5 2.9.5-3.3.5 3.3.5-2.6.5 3 .5-3.5.5 3.7.5-3.8.5 3.6.5-3.3.5 3.3.5-3.4.5 3.7.5-3.6.5 3.8.5-3.6.5 3.5.5-3.1.5 2.9.5-3.3.2 3.5.3-3.6.5 3.1.5-3.2.5 2.6.5-3 .5 2.9.5-3.7.5 3 .5-3.4.5 3.3.5-3.6.5 2.6.5-2.6.5 2.5.5-2.7.5 2.7.5-3.6.5 3.8.5-3.5.5 2.8.5-3.6.5 3.6.5-3.3.5 3 .5-3.2.5 2.7.5-3.7.5 3.5.5-3.5.5 2.9.5-4.1.5 3.6.5-3.6.5 3.2.5-3.8.5 4.1.5-3.4.5 3.8.5-2.8.5 3.2.5-2.7.5 3.8.5-3.1.5 3.4.5-2.8.5 4.3.5-2.7.5 1.9.5-3.9.5 2.4.5-3.9.5 1.8.5-3.2.5 2.2.5-3.9.5 2.6.5-4.5.5 2.7.5-3.7.5 5.2.5-2 .5 5 .5-1.6.5 4.9.5-1.4.5 4.9.5-1.1.5 4.2.5-2.6.5 4.7.5-2.4.5 4.3.5-2.2.5 3.9.5-2.1.5 4.2.3-2.6.2 3.7.5-3.5.5 3 .5-3.4.5 2.5.5-3.7.5 3.2.5-3.6.5 2.6.5-4 .5 2.7.5-3.7.5 2.7.5-3.3.5 3 .5-3.7.5 2.3.5-3.1.5 2.7.5-3.7.5 2.5.5-3.4.5 3.1.5-4.2.5 3.5.5-3.7.5 2.2.5-3.2.5 2.6.5-4.1.5 3 .5-3.4.5 2.8.5-4.2.5 2.6.5-3.5.5 1.5.5-3.4.5 2.2.5-3.9.5 2.2.5-4.5.5 2.2.5-4 .5 2.5.5-4.1.5 2 .5-3.5.5 2.3.5-3.6.5 2.2.5-3.7.5 2.8.5-3.5.5 2.4.5-3.9.5 2.3.5-2.3.5 4 .5-1.8.5 4.2.5-1.7.5 3.9.5-1.4.5 4.5.5-2.1.5 4.5.5-1.9.5 4.4.5-2.7.5 4 .5-2.2.5 4.5.5-2.5.5 3.9.5-2.3.5 4.6.5-2.2.5 4.3.5-2 .5 .6.5-5.6.5 .6.5-6.3.5 .9.5-6.2.5 .7.5-5.5.5 .6.5-5.6.5 .4.5-5.2.5 .4.5-5.1.5 5.4.5-.9.5 6.5.5-1 .5 5.6.5-.5.5 5.4.5-1.8.5 4.7.5-1.8.5 5.4.5-1.9.5 4.8.5-2 .5 3.3.5-3.6.5 2.7.5-4.2.5 2.6.5-3.5.5 2.4.5-3.6.5 2.2.5-3.2.5 2.7.5-4.1.5 3.1.5-3.6.5 2.1.5-3.3.5 2.9.5-3.1.5 2.7.5-3.7.5 2.2.5-3.4.5 2.6.5-3.4.2 2.4.3-5.4.5-1.5.5-7.3.5-1.2.5-7.4.5-1.3.5-7.5.5-2.7.5-8.3.5-2.2.5-9.2.5-1.8.5-9.1.5-2.2.5-9 .5-2.2.5-8.8.5 9.9.5 4.1.5 9.6.5 3.8.5 10.2.5 4 .5 10 .5 3.5.5 8.3.5 1.2.5 8 .5 1.6.5 8 .5 .7.5 7.9.5 1.8.5 4.2.5-2 .5 4.1.5-2.3.5 4.8.5-2.8.5 4.5.5-2.5.5 4.9.5-2.9.5 4.3.5-1.8.5 3.9.5-2.5.5 5.2.1-3.8.4 1.4.5-6.1.5 .7.5-5.4.5 .7.5-6.1.5 .8.5-6.4.5 .8.5-6 .5 .3.5-6.2.5 .9.5-6.6.5 1 .5-7 .5 .9.3-4.9.2 4.8.5-.1.5 6.7.5-.6.5 7.2.5 .1.5 6.6.5 .2.5 6.1.5-1.1.5 6.1.5-1.1.5 6.4.5-1 .5 6.9.5-1.2.5 6.5.5-1.2.5 3.2.5-3.5.5 4.4.5-3.5.5 3.9.5-3.8.5 4.8.5-3.8.5 3.5.5-4.2.5 4.1.5-4.2.5 3.9.5-3.1.5 3.8.5-4.3.5 4.8.5-4 .5 4 .5-4.1.5 3.8.5-3.2.5 4.1.5-4.5.5 4.6.5-4.7.5 3.4.5-4.9.5 3 .5-4.8.5 2.8.5-4.4.5 2.3.5-5.1.5 3.1.5-5.2.5 3.5.5-4.3.5 2.4.1-3.6.4 4.7.5-2.6.5 4.5.5-2.7.5 4.4.5-2.5.5 5.3.5-2.9.5 4 .5-2.9.5 5 .5-2.7.5 4.8.5-4.2.5 3.2.5-3.7.5 3.9.5-4.5.5 4.8.5-4.4.5 3.7.5-3.1.5 3.8.5-3.9.5 3.6.5-4.7.5 3.9.5-3.9.5 3.8.5-3.4.5 3.4.5-3.9.5 3.7.5-4.2.5 4.3.5-3.7.5 3.4.5-3.4.5 3.4.5-3.9.5 4.5.5-4.7.5 3.6.4-3.6.1 3.2.5-5.2.5 2.6.5-5.9.5 2.1.5-5.2.5 2.6.5-6.2.5 2.8.5-6.1.5 2.5.5-5.5.5-1.8.5-9.5.5-1.8.5-10.2.5-1.6.5-9.9.5-2.1.5-10.4.5-1.5.5-10 .5-4.8.5-11.7.5-4.3.5-12.1.5-4.9.5-11.2.5-4.3.5-12.8.5-3.8.2-7 .3 8.2.5 3.5.5 12 .5 3.8.5 11.8.5 3.9.5 12 .5 3.6.5 12.3.5 .5.5 9.2.5 .9.5 9.2.5 .5.5 9.4.5 1 .5 8.7.5 1.3.5 6.9.5-1.4.5 6.2.5-1.5.5 7.6.5-1.8.5 7.4.5-1.4.5 7.1.5-3.5.5 5.2.5-3.2.5 4.8.5-2.9.5 5.3.5-3.3.5 5.9.5-8.2.5 .7.5-7.3.5 .7.5-7.2.5-.3.5-7.5.5 .3.5-38.4.5-29.6.5-37.8.5-30.2.5-38.2.5-26 .5-33.5.5-26.4.5-34.7.5-25.6.5 25.8.5 34 .5 26.2.5 34.3.5 25.8.5 25.2.5 17 .5 25.5.5 17.2.5 25.3.5 17.3.5 25.2.5-.2.5 8.2.5-.5.5 7.7.5 .5.5 7.8.5 .4.5 8.6.5-2.9.5 4.4.5-2.5.5 5.9.5-3.4.5 5 .5-2.4.5 5.5.5-3.3.5 5.7.5-3 .5 5.3.5-2.8.5 5.2.5-2.5.5 5.5.5-3.9.5 4.7.5-3.5.5 5.1.5-4.1.5 5.1.5-3.5.5 3.8.5-3.1.5 5.2.5-3.8.3 5.1.2-4.5.5 4 .5-3.8.5 4 .5-3.9.5 3.6.5-4.2.5 3.8.5-4.2.5 3.8.5-3 .5 3.8.5-4.2.5 3.4.5-3.3.5 3.4.5-4.2.5 4.3.5-4.7.5 4.4.5-4.4.5 4.3.5-4.4.5 4.1.5-4.2.5 4.1.5-3.6.5 4.1.5-4.1.5 3.5.5-4.7.5 4.1.5-4.4.5 4.3.5-4.5.5 4.6.5-4.3.5 4.6.5-4.7.5 3.6.5-5 .5 3.6.5-4.7.5 3.3.5-4.3.5 3.3.5-5.3.5 3.2.5-3.9.5 2.9.5-5 .5 3.1.5-4.5.5 3.1.5-4.4.5 3.1.5-4.3.5 3.4.5-4.8.5 3.6.5-5 .5 2.9.5-4.7.5 3.5.5-4.6.5 3.1.5-5.1.5 2 .5-5.1.5 4.1.5-5.1.5 2.9.5-5.9.5 4.4.5-4.8.5 4.3.5-4.7.5 3.7.5-4.1.5 3.7.5-4.6.5 3.9.5-4.8.5 4.2.5-4 .5 4.3.5-3.9.5 4.4.5-4.1.5 4 .5-3.4.5 3.8.5-3.3.5 4.5.5-3.3.5 3.8.5-3 .5 4.7.5-1.9.5 5.4.5-2.5.5 6 .5-2.9.5 5.5.5-2.7.5 4.6.5-3.3.5 5.6.5-4.1.5 6.1.5-3.1.5 4.6.5-3.2.5 6.2.5-3.1.5 5.1.5-4.1.5 5 .5-2.6.5 5.3.5-4.5.5 6.2.3-4.4.2 4.8.5-4.2.5 4.7.5-5.2.5 5.4.5-5.2.5 4.6.5-4.3.5 4.8.5-4.5.5 3.9.5-5 .5 5.9.5-6.1.5 5.8.5-5.7.5 6.1.5-5.9.5 5.7.5-5.7.5 5.4.5-4.9.5 5.2.5-5.6.5 4.7.5-5 .5 4.6.5-5 .5 5.1.5-4.3.5 4.1.5-4.1.5 5.3.5-5.4.5 4.7.5-4 .5 4.4.5-4 .5 4.1.5-4.4.5 5 .5-5.9.5 5.3.5-5.7.5 5 .5-5 .5 5.3.5-5.3.5 5.2.5-4.6.5 5.7.5-5 .5 4.7.5-4.5.5 4.6.5-5.4.5 5.4.5-4.6.5 4.6.5-4.9.5 5.1.5-5.1.5 4.7.5-5.7.5 5.2.5-5.7.5 5.4.5-5.7.5 5.5.5-5.4.5 5.4.5-3.9.5 4.5.5-4.4.5 4.8.5-5.5.5 5.8.5-6.1.5 5.9.5-5.3.5 4.9.5-4.8.5 4.8.5-4.5.5 5.2.5-5.6.5 5.3.5-5.7.5 5 .5-5.1.5 4.6.5-4.1.5 4.4.5-5.1.5 5.2.5-4.6.2 5.7" stroke-width="6"/>
</g>
<g fill="none" stroke="#90650A" stroke-linejoin="round">
<path d="M55.8,1145.4l.7-5.3.7 3.5.7-1.8.7 3.4.7-4.6.7 4.6.7-3.6.7 3.3.7-3.9.7 3.9.7-3.3.7 2.7.7-3.4.7 4.1.7-5 .7 5.5.7-4.5.7 3.7.7-3.1.7 2.2.7-2 .7 2.5.7-3.2.7 2.9.7-4.2.7 4.8.7-3.9.7 3.3.7-1.9.7 2.5.7-2.6.7 3.1.7-5 .7 4.9.7-3.5.7 3.9.7-5.2.7 4.9.7-5.2.7 5.2.7-4.6.7 4 .7-4.7.7 5.4.7-4 .7 3.7.7-4.6.7 3.9.7-3.6.7 3.8.7-4.3.7 4.5.7-4.5.7 4 .7-4.1.7 5.2.7-4.1.7 3.5.7-4.6.7 4.9.7-3.9.7 3.1.7-2.8.7 3.5.7-3.3.7 3.8.7-3.8.7 4 .7-4.1.7 4.1.7-5 .7 4.2.7-3.5.7 3.8.7-4.3.7 3.4.7-2.5.7 3.1.7-4.8.7 4.8.7-3 .7 3.5.7-4.7.7 4.8.7-3.7.7 3.6.7-3.5.7 3 .7-3.6.7 2.6.7-3.9.7 3.5.7-2.8.7 4.6.7-3.7.7 2.6.7-3.8.7 4.4.7-3.8.7 3.3.7-2.7.7 2.8.7-3.4.7 3.1.7-3.9.7 3.4.7-3.4.7 3.5.7-2.3.7 4 .7-3.6.7 2.4.7-3.4.7 3.9.7-2.6.7 3.7.7-4.2.7 1.9.7-2.3.7 3.8.7-4.6.7 3.4.7-2.5.7 2.5.7-2.4.7 3.9.7-4.9.7 5 .7-5 .7 4.9.7-4.7.7 4 .7-3 .7 3.7.7-3.8.7 2.6.7-2.9.7 4.3.7-3.7.7 3.2.7-3.7.7 3.7.7-3 .7 3.9.7-4.2.7 3.3.7-3.8.7 2.5.7-2.9.7 3 .7-2.1.7 2 .7-2 .7 2.1.7-2.9.7 4.1.7-4.6.7 5.6.7-5.7.7 4 .7-3.1.7 3.1.7-3.6.7 4.1.7-4.4.7 4.9.7-3.6.7 3.1.7-3.8.7 2.9.7-1.8.7 2.6.7-2.8.7 3.6.7-3.7.7 2.3.7-2.2.7 2.3.7-2.7.7 3.1.7-3.6.7 3.2.7-3.4.7 3.3.7-3.8.7 5.4.7-5 .7 3.9.7-3.5.7 3.7.7-2.8.7 2.8.7-3.6.7 3.2.7-2.4.7 3.4.7-3.8.7 3.2.6-4.6.1 4.9.7-3.9.7 4 .7-4.8.7 2 .7-3.3.7 2.9.7-3 .7 3.7.7-5 .7 2.9.7-2.8.2 3.2.5-3.5.7 2.9.7-3.6.7 3 .7-2.6.7 2.8.7-4.4.7 3.2.6-3.3.1 3.5.7-3 .7 3.9.7-3.1.7 4.4.7-3.5.7 2.8.7-2 .7 2.4.7-3.2.6 4.7.1-4.7.7 4.9.7-3.1.7 3.2.7-4.5.7 4.4.7-3.8.7 3.2.7-3.5.7 4.4.7-3.6.7 3.2.7-3.4.7 4.4.7-5 .7 5.2.7-5.1.7 3.8.7-2.7.7 3 .7-3.1.7 3.2.7-3.7.7 4.8.7-4.7.7 4.4.7-3.3.7 2.5.7-4.3.7 3.7.7-2.9.7 2.6.7-1.9.7 3.4.7-5.2.1 4.7.6-3.1.7 2.7.7-2.7.7 3.3.7-4.3.7 3.8.7-3.5.7 2.8.7-2.9.7 4.8.7-5.1.7 3.4.7-2.8.7 4.3.7-3.4.7 3.8.7-4.4.7 4.2.7-3.8.7 4.4.7-5.2.7 4.1.7-3 .7 2.7.7-2.8.7 2.8.7-4.6.7 3.7.7-2.8.7 3.4.7-3.3.7 3.9.7-4.7.7 4.8.7-4.1.7 4.5.7-4 .7 3.9.7-4.4.7 4.3.7-5 .7 4.1.7-3.5.7 3.5.7-3.9.7 4.7.7-4.8.7 3.1.7-2.6.7 3.9.7-4.8.7 4.6.7-4.3.7 3.2.7-3.7.7 4.8.7-4.1.7 4.8.7-4.9.7 3.3.7-3.3.7 4.7.7-3.4.7 3.4.7-4.4.7 3.1.7-3.4.7 3.5.7-3 .7 3.6.7-3.1.7 3.4.7-3.5.7 3 .7-3.8.7 3.7.7-1.7.7 2.4.7-4.3.7 4.3.7-4.4.7 4.1.7-4 .7 3.7.7-2.6.7 3.1.7-2.7.7 1.7.7-3.5.7 3.6.7-3.6.7 4.5.7-4 .7 3.9.7-4.4.7 5 .7-3.8.7 2.5.7-2.7.7 3.3.7-3 .7 2.2.7-2.9.7 4.8.7-4.3.7 3.3.7-3.6.7 3.1.7-4.4.7 4.1.7-3.7.7 3.6.7-3.5.7 4.6.7-3.6.7 3.6.7-3.9.7 3.7.7-4.2.7 4.6.7-3.8.7 4 .7-3.6.7 2.9.7-3.6.7 3.2.7-4.4.7 5 .7-4.3.7 3.6.7-2.5.7 2.9.7-3.1.7 2.6.7-4.1.7 3.7.7-3.6.7 4.1.7-3.1.7 3.2.7-2.4.7 2.5.7-2.9.7 2.9.7-3.3.7 3.8.7-5.4.7 4.5.7-3.7.7 4.6.7-4.3.7 2.5.7-2.2.7 2.7.7-3.5.7 3.8.7-3 .7 4 .7-3.5.7 3.7.7-4.6.7 3.8.7-4 .7 4.1.7-4.2.7 5.1.7-4.4.2 4 .5-5.3.7 4.3.7-5.1.7 4.2.7-5.6.7 4.3.7-5.6.7 3.7.7-4 .7 3.6.6-4 .1 3.1.7-2.2.7 4.5.7-3.7.7 3.8.7-3.7.7 4.1.7-3.6.7 4 .7-1.5.7 2.8.7-2.4.7 4.4.7-4.8.4 5.1.3-3.8.7 3.4.7-3 .7 3.5.7-4.1.7 3.2.7-3.7.7 3.2.7-2.7.7 3.9.7-3.5.7 2.4.7-2.4.7 2.6.7-3.1.7 3.1.7-2.6.7 2.9.7-2.8.7 3.2.7-3.4.7 3.3.7-3.8.7 3.2.7-2 .7 3.5.7-4 .7 4 .7-3.4.7 2.7.7-4.4.7 3.9.7-3.5.7 4.2.7-3.5.7 4.1.7-4.4.7 3.3.7-3.8.7 3.4.7-3.9.7 4.4.7-3.8.7 3.8.7-4.3.7 5.3.7-5 .7 4.2.7-3.4.7 3.5.7-2.7.7 1.6.7-3.9.7 3.8.7-3.9.7 4.8.7-4.8.7 3.6.7-2.3.7 3.9.7-3.4.7 2.1.7-2.7.7 2.6.7-2 .7 3.2.7-3.2.7 3.7.7-5 .7 3.2.7-3.4.7 3.7.7-3 .7 3.8.7-3.2.7 3.1.7-2.8.7 2.1.7-3.7.7 5.2.7-4.3.7 4.1.7-4.9.7 3.7.7-3.1.7 3 .7-2.3.7 1.9.7-2.4.7 2.2.7-2.3.7 2.8.7-3.6.7 4.6.7-4.8.7 4.8.1-3.8.6 4 .7-4.2.7 1.6.7-4 .7 3.8.7-3.7.7 2 .7-3.5.7 2.5.7-3.8.5 2.7.2-4 .7 4 .7-4.7.7 3.2.7-3.5.7 3 .7-5.3.7 3.4.7-3.6.7 3.7.7-6 .7 1.1.7-4.3.7 1.3.7-4 .7 1.1.5-5.2.2 4 .7-4.1.7 4.4.7-3.9.7 2.5.7-2.9.7 4.8.7-4.6.4 4.5.3-3.6.7 .3.7-3.9.7 1.1.7-5.7.7 1.2.7-5.8.2 4.8.5-4.1.7 6.1.7-1.3.7 4.4.7-1.6.7 6.6.7-2 .7 6 .7-2.8.7 .5.7-6.1.7 .8.7-7 .7 1 .5-5.4.2 2 .7-7.7.7-.9.7-8.4.7-1.8.7-7.9.7-.9.7-8 .1 3.6.6 .4.7 8 .7 .3.7 9.2.7 .7.7 8.1.7 1.4.7 7.5.7-4.1.7 1.2.7-4.3.7 1.5.7-4.2.7 2.4.1-3.2.6 3.7.7-1.5.7 5.8.7-2.4.7 4.6.7-2.3.7 5.9.7-3.2.1 3.8.6-3.5.7 2.5.7-5 .7 .6.7-4.6.7 2.3.7-4.1.7 1.3.7-4 .7 2.1.5-4.3.2 1.2.7-9.9.7-2.4.7-9.8.7-4 .7-9.7.7-4.6.3-5.9.4-.1.7-8.9.7-3.7.7-10.8.7-1.9.7-10.2.7-2.3.7-11.3.2 1.6.5-3.3.7 2.9.7-6.1.7 3 .7-4.5.4 4.1.3-7.8.7-4.3.7-12.3.7-5.3.7-10.8.7-6.1.7-11.2.2 .9.5-8.8.7-4.4.7-11.5.7-4.1.7-12.4.7-5 .7-11.4.7-5.6.5-8.6.2 6 .7 6 .7 13.2.7 6.4.7 14.4.7 6.9.7 13.1.7 6.2.7 13 .4 2.9.3 6.2.7 4.4.7 12.3.7 3.8.7 12 .7 3.8.7 11.3.7 5.8.7 10.7.6 3.9.1 2.8.7 .7.7 6.4.7-.5.7 7.5.7-1.3.7 7 .7 .3.7 6.1.7 .3.7 7.1.3-1.5.4 1.8.7-4.2.7 3 .7-5.3.7 3.3.7-3.9.7 3.1.7-5.3.7 1.8.6-4.3.1 2.8.7-11.9.7-3.1.7-12 .7-2.9.7-12 .4 .1.3-.2.7 9.6.7 3.7.7 10.6.7 4.6.7 12.2.5 .5.2 6.5.7 3.9.7 9.8.7 3.3.7 10.5.7 3.8.7 10.8.7 3.6.5 6.9.2-2.3.7 6.2.7-3.2.7 6.2.7-1.8.7 5.4.7-1.8.7 3.7.4-2.7.3 4.8.7-4 .7 4.5.7-3.1.7 3.2.7-2.4.7 2.4.7-2 .7 2.3.7-2.2.7 3.5.7-2.7.7 3.7.7-2.7.7 3 .7-3.1.7 3.7.7-3.8.7 4 .7-2.3.7 3.8.7-2.8.7 4.5.7-4.2.4 4 .3-3.4.7 3.2.7-4.2.7 4.6.7-4.4.7 3.3.7-3.2.7 2.8.7-2.4.7 2 .7-2.9.7 4.8.7-4.6.7 4 .7-3.1.7 2.8.7-3 .7 3.3.7-3 .7 2.4.7-3.2.7 4.7.7-4.8.7 4.4.7-2.7.7 2.1.7-3.6.7 4.9.7-4.4.7 3.6.7-4.2.7 3.2.7-3.2.7 3.6.7-3.8.7 4 .7-3.5.7 4.1.7-3.6.7 3.4.7-4.3.7 4.5.7-3.8.7 3.4.7-4.4.7 4.6.7-4 .7 4.5.7-3.5.7 2.9.7-4 .7 3.6.7-4.1.7 5 .7-3.9.7 3.5.7-4 .7 4.3.7-3.4.7 3.6.7-3.6.7 2.5.7-3.1.7 3.9.7-3.4.7 3.2.6-4.1.1 4.9.7-4.3.7 4 .7-4.4.7 3 .7-3.9.7 4 .7-4.9.7 4.3.7-4.5.7 3.2.7-2.6.6 2.5.1-2.6.7 3.4.7-4 .7 3.5.6-4.3.1 3.4.7-3.5.7 3.7.7-2.2.7 2.7.7-3.4.7 4.4.7-3.9.7 3 .7-1.5.7 1.8.7-2.1.7 3.8.7-2.8.7 2.4.7-2.9.7 4.2.7-4.9.2 5 .5-4.4.7 3.8.7-3.3.7 3.3.7-3 .7 2.6.7-3.8.7 4.3.7-3.7.7 4 .7-3 .7 3.2.7-3.5.7 3.2.7-3.2.7 4.9.7-3.7.7 2.6.7-3.4.7 4.4.7-3 .7 3 .7-3.1.7 3.6.7-4.4.7 3.6.7-2.8.7 2.7.7-3 .7 3.2.7-2.4.7 2.4.7-3.3.7 4.9.7-5 .7 4.3.7-4.1.7 3.3.4-2.1.3 3.5.7-3 .7 1.9.7-3.2.7 3.3.7-2.2.7 2.7.7-3.8.7 3.3.7-3.2.7 3.8.7-3.1.7 3.5.7-2.6.7 3.6.7-3.8.7 3.4.7-4.5.7 4.1.7-4 .7 3.4.7-2 .7 2.9.7-2.4.7 3 .7-4 .7 4 .7-3.5.7 2.2.7-3.3.7 3.6.7-2.5.7 2.5.7-2.8.7 3.3.7-2.9.7 1.9.7-2.2.7 3.6.7-3.5.7 2.4.7-3.1.7 3.8.7-4.1.7 4.2.7-4.3.7 3.5.7-3.6.7 3.3.7-1.9.7 1.9.7-3.3.7 3.9.7-4.1.7 5.1.7-5 .7 4.4.7-3.3.7 4.2.7-4.7.7 3.2.7-3.1.7 2.7.7-1.6.7 2.7.7-4.1.7 4.5.7-4.5.7 3.1.7-3.2.7 4.9.7-4.6.7 3.5.7-2.9.7 2.2.7-2.7.7 4.3.7-3.5.7 3.3.7-4.7.7 4 .7-3.7.7 3.4.7-2.4.7 3 .7-4.3.7 4.1.7-3 .7 3.3.7-4.2.7 4 .7-3.4.7 2.7.7-2.1.7 2.4.7-2.7.7 3.1.7-3.3.7 4.5.7-3.7.7 3.8.7-4.6.7 3.5.7-2.7.7 3.6.7-4.6.7 2.9.7-3.1.7 3.6.7-3.2.7 3.8.7-3.6.7 2.5.7-3.3.7 4.2.7-3.2.1 3.4.6-4.4.7 3.1.7-3.3.7 3.8.7-4.1.7 3.5.7-3.5.7 2.8.7-3.2.7 2.6.7-3.4.7 2.4.7-2.3.7 2.4.7-3.3.7 3.1.7-4 .7 3.4.7-3.3.7 3.1.7-2.8.7 2.1.7-3.7.7 4.7.7-5.6.7 2.7.7-2.8.7 1.4.7-2.9.7 2.3.7-2.9.1 2.1.6-3.1.7 5.3.7-2.6.7 2.4.7-2.3.7 4.6.7-2.8.7 2.4.7-2.4.7 2.5.7-2.5.7 2.5.7-3.2.7 3.9.7-3.9.7 2.4.7-3.3.7 3.8.7-4.6.7 4.5.7-3.9.7 3.1.7-3.5.7 2.7.6-3.8.1 3.3.7-2.8.7 2.6.7-1.5.7 3.5.7-4.4.7 4.3.7-2.3.7 3.5.7-3.7.7 3.5.7-3.3.7 3 .7-1.9.7 3.5.7-4 .7 4.7.7-3.7.6 4 .1-5 .7 2 .7-5.9.7 1 .7-3.9.7 .9.6-4.9.1 2.1.7-6.9.7 .8.7-6.1.7-.1.7-5.9.5 .4.2-2.9.7 6.9.7-.1.7 6.6.7-1.4.7 7.1.5-2.4.2 5 .7-1.9.7 6.1.7-1.6.7 5.1.7-.1.5 4.1.2-1.9.7 2.5.7-3.3.7 3.8.7-3.4.7 2.6.7-3.3.7 2.2.7-2.5.7 3.6.7-4.2.7 3.4.7-2.6.7 1.8.7-2.1.7 3.9.7-3.9.7 3 .7-4.2.7 2.9.5-1.9.2 2.7.7-1.8.7 3.5.7-2.4.7 3.8.7-2 .7 3.8.7-2 .4 3.2.3-3.6.7 2.2.7-4.7.7 3.5.7-5 .7 1.2.4-2.7.3 5.3.7-.2.7 7.6.7 .2.7 7.3.7-.7.4 6.1.3-3.9.7 1.3.7-2.7.7 .7.7-3.8.7 3 .7-5.1.7 3 .7-3.9.7 .4.3-2.3.4 1.6.7-2.8.7 3.2.7-4.7.7 2.7.7-3 .7 2.9.7-3.8.7 2.5.7-2.7.7 2.8.7-4.9.7 3.4.7-3.9.7 1.7.7-2.5.3 1.9.4-2.2.7 2.1.7-2.8.7 3.3.7-3 .7 2.9.7-3 .7 2.7.7-4.1.7 3.2.7-2.9.7 2.6.7-3.7.7 3.1.7-2.2.7 2.8.7-3.2.7 1.7.7-2.3.7 2 .7-2.3.7 2.2.7-2.1.7 2.6.7-3.7.7 3.1.7-2.7.7 2.9.7-4.1.7 4.2.7-3 .7 1.9.7-2.2.7 1.9.7-3 .7 2.9.7-2.9.7 3.2.7-4 .7 3.7.2-3.4.5 3 .7-2 .7 2.5.7-2.6.7 3.1.7-2.1.7 3 .7-1.8.7 3.5.7-2.4.7 2.7.7-1.2.7 2.3.7-2.4.7 3.2.7-1.8.7 2.4.7-2 .7 2.3.7-1.7.7 3.3.7-2 .7 2.1.7-2.2.7 3.3.7-1.2.7 2.2.7-2.5.1 3.7.6-4.2.7 2 .7-3.4.7 1.8.7-2.2.7 1 .7-2.7.7 2.2.1-3 .6 2.6.7-4.2.7 2.7.7-3.5.7 1.8.7-4.4.7 2.9.7-2.9.7 3.7.7-1.5.7 4 .7-.8.7 3.9.7-2.1.7 3.1.7-2.9.7 2.3.7-2.2.7 2.1.7-2.3.7 1 .7-1.3.7 2.1.7-3.5.7 2.8.7-3 .7 2.9.7-3.2.7 3.5.7-3.6.7 2.8.7-1.8.7 2.6.7-2.8.7 2.4.7-3.4.7 2.4.7-1.6.7 1.9.7-3.2.7 3.4.7-3.9.7 2.7.7-2.3.7 2.9.7-3.1.7 2.3.7-2.4.7 2.6.7-2.8.7 2.2.7-2.7.7 2.6.7-2.6.7 2.6.7-2.4.7 2.3.7-3.2.7 2.9.7-3.5.7 3.1.7-2.7.7 2.5.7-2.9.7 2.3.7-2.1.7 2.8.7-2.2.7 1.6.7-1.8.7 2.2.4-3.3.3 3.4.7-3 .7 3.5.7-2.9.7 2.6.7-1.9.7 3.2.7-2.8.7 2.4.7-2.3.7 2.6.7-1.9.7 3 .7-2.5.7 2.3.7-1.5.7 2.4.7-1.1.7 2.6.7-3.2.4 2.6.3-2.5.7 2 .7-2.1.7 2.2.7-1.5.7 1.7.7-2.3.7 2.6.7-2.3.7 1.4.7-1.4.7 1.1.7-1.8.7 2.5.7-3.3.7 2.2.7-1.9.7 2.1.7-2.4.7 2.6.7-3.6.7 2.2.7-1.5.7 1.8.7-2.8.7 2.5.7-2.5.7 1.9.7-1.6.7 2.4.7-2.3.7 1.3.7-2.2.7 1.6.7-1.9.7 1.5.7-1.4.7 1.6.7-2.3.7 2.5.7-2.6.7 2.4.7-2.3.7 2.5.7-2.7.7 2.3.7-1.7.7 1.4.7-2.1.7 2.6.7-2.9.7 1.7.3-1.8.4 1.7.7-2.3.7 1.4.7-1.6.7 1.3.7-2.7.7 1.6.7-2.9.7 1.8.7-2.3.7 1.4.7-2.5.7 1 .7-1.7.7 1.7.7-2.5.7 1.4.7-3.1.3 2 .4-1.7.7 2.6.7-.5.7 2.3.7-1.8.7 3.3.7-2 .5 2.9.2-1.7.7 2.4.7-1.8.7 2.6.7-1.7.7 3.1.7-1.7.7 1.9.7-.7.7 2.1.7-1.4.7 2.6.7-1.6.7 2.3.7-2.5.7 2.2.7-2.4.7 1.3.7-2 .7 2 .7-2.2.7 2.5.7-2.4.7 1.5.7-2.4.7 2.2.7-2.4.7 1.4.7-2.1.7 2.2.7-2.2.7 1.9.7-1.8.7 1.7.7-2.3.7 2.5.7-2 .7 1.3.7-2.4.7 2.5.7-1.8.7 1.1.7-2.3.7 2.4.7-2.3.7 2.2.7-3.2.7 1.5.1-1.5.6 1.2.7-3.3.7 1.6.7-3.2.7 1.3.7-2.9.7 .9.6-3.1.1 1.3.7-.7.7 3.6.7-1.8.7 3.6.7-1.1.7 2.9.7-.9.7 3.6.7-1.1.7 2.4.5-1 .2 1.5.7-2.7.7 1.6.7-1.5.7 .8.7-2.3.6 2 .1-3.1.7-1.8.7-7 .7-1.8.7-5.9.7-3.2.4-3.9.3 3.1.7 2.4.7 5.2.7 1.5.7 7.1.5-.1.2 2 .7-2.4.7 .9.7-1.9.7 1.3.7-2.3.7 1.9.7-1.2.7 3.6.7-1.3.7 4.2.7-1.1.7 2.8.1-2 .6 2.9.7-1.7.7 2.1.7-2.8.7 2.9.7-2.2.7 1.8.7-1.4.7 1.4.7-1.1.7 2.4.7-2.5.7 1.6.7-.7.7 1.2.7-2.1.7 2.5.1-2.1.6 2.3.7-1.1.7 2.5.7-1.6.7 2.2.7-1.7.7 2 .7-1.7.7 3.2.7-1.8.7 1.8.7-1.6.7 2.3.7-1.7.7 2.8.5-1.8.2 2.2.7-2.9.7 1.2.7-2 .7 1.7.7-2.2.7 1.7.7-2.7.7 1.6.7-2 .7-8.1.7-11.2.7-7.8.7-12.2.7-12.7.7-16.5.7-13.2.5-13.2.2 6.4.7 11.9.7 16.3.7 11.4.7 16.7.3 4.1.4 5 .7 2.8.7 7.7.7 2.8.7 7.1.7-4.1.7-.5.7-4.1.7-.6.7-3.6.7 .1.7-5 .5 .6.2-6.2.7-11.2.7-14.4.7-11.6.7-15 .7-11.4.7-14.9.7-10.2.7-15.1.7-10.3.1-3.8.6 12.4.7 9.4.7 13.8.7 9.8.7 13.9.7 10 .2 5 .5 2.1.7 7.3.7 4.2.7 8 .7 4 .7 7.3.7 4.8.7 7.2.7 4.4.4 5 .3-1.1.7 3.2.7-.4.7 3.7.7-1.3.7 4.1.7-.3.7 2.7.7-1 .7 2.9.7-1.5.7 2.7.7-1 .7 2.7.7-.7.7 2 .7-3.2.7 1.5.7-3 .7 1.5.7-2.6.7 .3.7-2.5.7 .8.7-3.1.1 2.1.6-3.9.7-.8.7-3.8.7-1.1.7-3.9.7-.9.7-4.7.7 .4.1-3.5.6 4 .7-.6.7 4 .7 .8.5 2.9.2-2.3.7 2.6.7-1.2.7 1.7.7-1.4.7 2.1.7-1.8.7 2.9.7-1.4.7 1.7.7-1.8.7 2.6.7-2.1.7 3.1.7-2.5.7 2.4.7-2 .7 3 .7-1.8.7 2.5.7-2.1.7 2.7.3-2 .4 2.3.7-2.2.7 2.6.7-2.3.7 3 .7-1.2.7 2.6.7-1.9.7 1.9.7-1 .7 1.6.7-1.6.7 2.4.7-1.8.7 2 .7-1.9.7 2.1.7-1 .7 1.7.7-1.4.7 2.3.7-1.3.7 1.4.7-.8.7 2.1.7-1.2.7 1.4.7-.8.7 1.7.7-1.5.7 2.7.7-2.1.7 2.3.7-1.2.7 2 .7-1.6.7 2.1.4-2.3.3 2.3.7-2 .7 2 .7-1.9.7 2 .7-2 .7 2.1.7-1.7.7 1.7.7-2.2.7 1.5.7-2 .7 2 .7-2.3.7 2 .7-1.6.7 2.3.7-2.1.7 1.7.7-2 .7 2.8.7-2.8.7 2.2.7-1.9.7 1.6.7-2.4.7 2 .7-1.9.7 1.8.7-1.6.7 1.9.4-2.2.3 2.3.7-2.9.7 2 .7-1.4.7 .6.7-1.9.7 2.2.7-1.7.7 .8.7-1.9.7 1.8.7-2.4.7 2 .7-2.3.7 1.7.7-2.2.7 1.4.7-1.8.7 1.1.7-1.2.7 1.5.7-3 .7 1.8.7-2.1.7 2 .7-1.7.7 .8.7-1.7.3 1.4.4-1.2.7 2.4.7-1.2.7 2.7.7-2 .7 3 .4-1.9.3 1.7.7-3.2.7 1.9.7-2.8.7 1.4.7-3.4.7 .8.7-2.9.7 1.7.7-1 .7 3.3.7-.2.7 2.9.7-1 .7 3.2.7-1.2.7 3.2.7-1.1.7 3.7.2-1.3.5 1.5.7-2 .7 1.5.7-2.2.7 1.4.7-2 .7 1.6.7-1.9.7 1.2.7-2.1.7 2.3.7-2.6.7 1.6.7-2.5.7 2 .7-2.7.7 1.9.7-2.2.7 1.6.7-2 .7 1.1.7-2.3.7 2.3.7-2.8.7 2.1.1-1.8.6 1.3.7-3.3.7 2.1.7-2.5.7 1.2.7-3 .7 2.4.7-3 .7 2 .7-2.2.7 .8.7-1.5.7 1 .7-2.6.7 .9.7-2.4.7 1.7.7-2.9.5 2.3.2-2.7.7 3.5.7-1.4.7 2.9.7-1.7.7 3.5.7-1.4.7 2.9.7-1.3.7 2.5.7-1.6.7 3 .7-1.6.7 3.4.7-1.5.7 3 .1-1.2.6 .1.7-3.2.7 1.1.7-4.2.7 .6.7-3.5.7 .5.4-3.3.3 1.9.7-4.3.7 .2.7-4 .6-.2.1-.9.7 3.2.7-.2.7 4.3.7-.2.1 2.7.6-1.2.7 3.1.7-1 .7 3.7.5-1.5.2 1.8.7-2.8.7 1.6.7-2.4.7 1.7.7-1.8.7 1.4.7-2.8.7 1.6.7-2 .7 1.8.7-3 .7 1.9.7-2.7.7 1.4.7-2.2.7 .8.4-2.4.3 2 .7-3.5.7 .3.7-3.2.7 .2.7-3.2.7 1.3.5-4 .2 .4.7-8 .7-4.8.7-8.6.7-3.8.7-8.9.7-4.1.3-4.1.4 6.4.7 5.4.7 10.3.7 5.1.7 10.2.7 5.2.7 10.2.2 0 .5 3.9.7-1.2.7 4.7.7-.8.7 3.3.7 .4.7 3.2.7-.6.1 2.5.6-2 .7 3 .7-2.4.7 1.6.7-1.4.7 2.6.7-1.8.7 2.2.7-2 .7 2.7.7-2.7.7-.9.7-7 .7-.9.7-5.9.6-.8.1-4 .7-.4.7-5.3.7-.8.7-5.8.2 2.7.5-1.4.7 7 .7 .5.7 6 .3-.8.4 3.2.7 1 .7 6.5.7 .2.7 4.9.4 .5.3 2 .7-2.1.7 3.8.7-3.4.7 4.4.7-3.4.7 4.3.7-3.1.7 3.8.7-2.5.7 4.1.3-3.2.4 3.3.7-3.2.7 3.5.7-4.3.7 2.9.7-3.2.7 3.6.7-2.6.7 3 .7-4.4.7 3.5.7-2.8.7 2.5.7-2.1.7 2.7.6-3.1.1 3.1.7-4.3.7 1.9.7-3.9.7 2.5.7-3.7.7 1.7.7-3.3.5 3.1.2-3.5.7 5.2.7-2.1.7 4 .7-2.3.7 4 .6-1.4.1 2.7.7-4 .7 3.5.7-3.7.7 2.8.7-2.4.7 2.8.7-3.5.7 2.8.7-3.5.7 2.6.7-2.4.7 2.4.7-2.7.7 2.8.7-3.6.7 3.7.7-3 .7 2.4.7-2.6.7 3.3.7-4 .7 3.9.7-3.9.7 1 .7-5.3.7 2.8.7-6.2.7 1.5.7-4.6.7 1 .7-3.9.7 1.3.7-6 .7 1.9.7-8.6.7-2.9.7-8.6.7-3.4.7-7.7.3 .9.4-9.1.7-4.4.7-10.8.7-3.6.7-11.6.6-3.4.1-1.5.7 11.4.7 4.1.7 12.2.7 4.9.7 10.1.1-1.6.6 6.3.7 .8.7 8.9.7 0 .1 4.4.6-1.3.7 7.1.7-.3.7 5.7.7-1.3.7 6.3.1-1.8.6 3.8.7-2.1.7 5.1.7-.8.7 3.8.7-1.7.4 4 .3-3.5.7 .3.7-5.7.7-.8.7-4.9.7 .9.7-6 .7 0 .2-2.4.5-12.6.7-24.9.7-19.2.7-23.7.6-15.8.1-5.5.7-18.9.7-25.4.7-19.7.7-25.9.7 25.4.7 19.4.7 24.8.7 19.5.7 25.3.1 .5.6 18.6.7 13.1.7 20.6.7 14.6.6 18.4.1-2.5.7 5.3.7 .6.7 5.8.7-1.3.2 3.1.5-2.3.7 3.7.7-1.3.7 3.3.7-.5.7 4 .5-3.3.2 3.2.7-2.2.7 2.6.7-1.9.7 3.2.7-2.2.7 3.4.7-4 .7 3.8.7-1.9.7 2.8.7-1.4.7 2.6.7-2.4.7 4.1.7-3.3.1 2.7.6-2.5.7 2.5.7-2 .7 1.7.7-3.5.7 2.9.7-3.4.7 3.9.7-4.6.7 4.1.7-3.1.7 2.9.7-2.9.7 2.3.7-3.5.7 3.5.7-3.9.7 3 .7-3.1.7 2.7.7-2.4.7 2.8.7-4.1.7 3.1.7-2.4.7 2.9.7-3.1.7 2.3.7-3.3.7 2.4.7-5.1.7 2.6.7-4.4.7 3.9.7-4.2.7 1.3.7-3.4.7 2.8.7-3.4.7 1.2.7-2.8.7 2.8.7-4.5.4 3.4.3-3.8.7 2.6.7-3.5.7 3.3.7-3.8.7 3.6.7-4 .7 3.8.7-4.7.7 3.9.7-4.4.7 3.2.7-3 .7 2.1.7-2.7.7 3 .7-3 .7 2.8.7-1.6.7 3.1.7-3.7.7 4 .7-1.7.7 3.3.7-3.5.7 4.1.7-2.3.7 3.2.7-2.5.7 3.9.7-2.9.7 4.6.7-2.4.7 5.2.7-1.9.7 4.8.7-2 .7 3.9.7-2.9.7 5.5.6-3.1.1 3.8.7-3.5.7 3.6.7-3.2.7 3.6.7-4.2.7 3.3.7-3.3.7 4.1.7-2.9.7 2.1.7-3.3.7 2.8.7-2.7.7 3 .7-2.4.7 2 .7-2.1.7 2.5.7-3.2.7 3.9.7-3.7.7 2.7.7-2.5.7 3.7.7-3.5.7 3 .7-2.8.7 2.3.7-3.1.7 3.6.7-3.6.7 2.6.7-2.5.7 2.3.7-2.5.7 3.7.7-3 .7 3 .7-3 .7 2.5.7-3 .7 3.6.7-3.2.7 3.3.7-4.4.7 3.2.7-3.2.7 3.1.7-3.1.7 3.1.7-3.1.7 4.3.7-3.9.7 3.4.7-3.7.7 3.5.7-2.9.7 3.3.7-4.1.7 3.8.7-3.5.7 3.6.7-2.6.7 3.2.7-3.1.7 3.3.7-3.9.7 2.9.7-2.6.7 3.5.7-3.6.1 2.2" stroke-width="3.5" stroke-opacity="0.5"/>
<path d="M55.8,1144.4l.5-2.4.5 2.2.5-2.3.5 2.6.5-2.7.5 2.7.5-3 .5 2.7.5-2.8.5 2.6.5-2.3.5 2.6.5-2.6.5 2.1.5-2.2.5 2.4.5-3.1.5 2.8.5-2.3.5 2.4.5-2.6.5 2.2.5-2.2.5 2.4.5-2.2.5 2.2.5-2.3.5 2.5.5-2.6.5 2.7.5-2.4.5 2.6.5-3.1.5 2.6.5-2.8.5 2.4.5-1.9.5 2 .5-2.5.5 2.9.5-2.8.5 2.7.5-2.2.5 2.7.5-2.2.5 2.1.5-1.9.5 2.2.5-2.7.5 2.5.5-2.5.5 2.2.5-2.2.5 2.7.5-2.6.5 2.1.5-2.1.5 2.6.5-2.5.5 2.4.5-2.8.5 2.2.5-1.9.5 2.4.5-2.9.5 2.6.5-1.9.5 2.2.5-2.3.5 2.6.5-3 .5 2.7.5-2.6.5 2.1.5-2.3.5 2.7.5-2.5.5 2.3.5-2.3.5 2.8.5-2.7.5 1.8.5-2.3.5 2.6.5-2.4.5 2.4.5-2.7.5 2.6.5-2.2.5 2.1.5-2 .5 2 .5-2.3.5 2.4.5-2.3.5 2.3.5-2.6.5 2.8.5-2.2.5 2.4.5-2.6.5 3.1.5-2.9.5 2.4.5-2.2.5 2.2.5-2.3.5 2.3.5-2.3.5 2 .5-2.6.5 2.4.5-2.5.5 2.8.5-2.4.5 2.1.5-2.4.5 2.7.5-2.3.5 2.1.5-1.7.5 2.3.5-2.8.5 2.3.5-2.4.5 2.8.5-2.4.5 2.4.5-2.3.5 2 .5-2.1.5 2.5.5-2.7.5 2.6.5-2.5.5 2.5.5-2.3.5 2.2.5-2.3.5 2.3.5-2.6.5 2.6.5-2.7.5 2.5.5-2.4.5 2.6.5-2.6.5 2.4.5-2.5.5 2.5.5-2.2.5 2.1.5-2.4.5 2.3.5-2.5.5 2.8.5-2.6.5 2.4.5-3 .5 2.9.5-2.2.5 2.3.5-1.9.5 2 .5-2.5.5 2.6.5-2.4.5 2.5.5-2.6.5 2.4.5-2.2.5 2.3.5-2.3.5 2.6.5-2.7.5 2.4.5-2.8.5 2.7.5-2.1.5 2.4.5-2.5.5 2.4.5-2.3.5 2.8.5-2.8.5 2.4.5-2.4.5 2.5.5-2.4.5 2.3.5-2.8.5 2.5.5-2.2.5 2.5.5-3 .5 2.4.5-2.7.5 2.4.5-1.9.5 2.4.5-2.5.5 2.4.5-3 .5 2.8.5-2.3.5 2.2.5-2 .5 2.4.5-2.4.5 2.7.5-2.6.5 2.5.5-2.5.5 2.7.5-2.4.5 2.3.5-2.8.5 2.6.5-2.6.5 2.8.5-2.4.5 2.5.5-2.1.5 2.6.5-2.6.5 2.3.5-2.8.5 2.6.5-2.7.5 2.7.5-2.5.5 2.1.5-2.3.5 2.9.5-2.5.5 2.5.5-3 .5 2.2.5-2.4.5 2.8.5-2.4.5 2.2.5-2.3.5 2.1.5-2.2.5 3 .5-2.8.5 2.7.5-2.5.5 2.2.5-2.5.5 2.6.5-2.9.5 2.6.5-2.5.5 2.6.5-2.4.5 2.7.5-3 .5 2.5.5-2.3.5 2.6.5-2.8.5 2.7.5-2.3.5 2.2.5-2 .5 2.5.5-2.5.5 2.5.5-2.5.5 2.4.5-2.7.5 2.5.5-2.3.5 2.1.5-2.3.5 2.4.2-2.1.3 2.1.5-3.3.5 2.3.5-2.2.5 2.4.5-3.1.5 2.4.5-2.6.5 2.4.5-3.1.5 2.6.5-2.8.5 2.3.5-2.3.5 2 .5-2.5.2 2.2.3-2.5.5 2.3.5-2.5.5 2.3.5-2.3.5 2 .5-2.4.5 2.7.5-2.9.5 1.8.5-2.5.5 2.6.2-3.1.3 2.8.5-2.3.5 2.3.5-2.4.5 2.9.5-1.8.5 2.7.5-2.2.5 2.3.5-2.3.5 2.7.5-2.4.5 2.2.5-1.9.2 2.7.3-2.3.5 2.2.5-2.1.5 2.6.5-2.8.5 2.8.5-2.5.5 2.2.5-2.4.5 2.5.5-2.6.5 2.5.5-2.4.5 2.7.5-2.6.5 2.7.5-2.2.5 2.5.5-2.7.5 3 .5-3 .5 2.9.5-3 .5 2.3.5-2.3.5 2.3.5-2.5.5 2.5.5-2.9.5 2.6.5-2.2.5 3 .5-2.7.5 2.5.5-2.2.5 2 .5-2.5.5 2.3.5-2.2.5 2.4.5-2.6.5 2.7.5-2.5.5 2.5.5-2.6.5 2.7.5-2.5.5 2.7.2-2.7.3 2.5.5-2.6.5 2.9.5-2.4.5 2.1.5-2.1.5 2 .5-2.3.5 2.4.5-2 .5 2.2.5-2.4.5 2.3.5-2.4.5 2.5.5-2.6.5 2.9.5-3 .5 2.5.5-2.1.5 2.1.5-2 .5 2.3.5-2.4.5 2.3.5-2.8.5 2.8.5-2.7.5 2.7.5-2.6.5 2.2.5-1.9.5 2.4.5-2.7.5 2.7.5-2.7.5 2.9.5-2.9.5 2.7.5-2 .5 2 .5-2.7.5 2.4.5-2.2.5 2.2.5-2.4.5 2.6.5-1.9.5 2.1.5-2 .5 2.4.5-2.9.5 2.2.5-2.7.5 2.1.5-2.2.5 2.7.5-2.6.5 2.5.5-2.5.5 3.2.5-2.6.5 2 .5-2.2.5 2.5.5-2.5.5 2.4.5-2.7.5 2.7.5-2.1.5 2.3.5-2.9.5 2.4.5-1.8.5 2.2.5-2.2.5 2 .5-2.3.5 2.9.5-2.6.5 1.8.5-1.8.5 2 .5-2.2.5 2.4.5-2.4.5 2.4.5-2.1.5 2.5.5-2.3.5 1.9.5-2.3.5 2.8.5-2.5.5 2.1.5-2.5.5 2 .5-2.2.5 2.4.5-2.4.5 2.2.5-1.8.5 2.4.5-2.6.5 2.7.5-2.6.5 2.1.5-2.3.5 2.5.5-3 .5 2.4.5-2.4.5 2.7.5-2.8.5 2.9.5-2.6.5 2.7.5-2.3.5 2.6.5-2.8.5 2.9.5-2.4.5 2.1.5-2.5.5 2.8.5-2.8.5 2.5.5-2.5.5 1.9.5-1.9.5 2.6.5-2.7.5 2.7.5-2.6.5 2.7.5-2.3.5 2.3.5-2.9.5 2.7.5-2.9.5 2.5.5-2.6.5 2.2.5-1.8.5 1.9.5-2.4.5 2.3.5-2.2.5 2.4.5-2 .5 1.9.5-2.4.5 2.4.5-2.4.5 2.3.5-2.1.5 2.7.5-2.5.5 2.3.5-2.3.5 2.3.5-2.1.5 2.9.5-2.7.5 2.3.5-2.6.5 2.4.5-2.4.5 2.5.5-2.7.5 2.7.5-2.8.5 2.8.5-2.6.5 2.2.5-2.2.5 2.4.5-2.5.5 2.5.5-2.1.5 1.9.5-2.2.5 2 .5-2.3.5 2.3.5-2.6.5 2.8.5-2.4.5 2.6.5-2.4.5 2.2.5-2.2.5 2.3.5-2.4.5 2.3.5-2.3.5 1.9.5-1.9.5 2 .5-2.3.5 2.2.5-2.1.5 2.4.5-2.2.5 2.4.5-2.1.5 2.4.5-2.5.5 2.7.5-2.4.5 1.9.5-2.6.5 2.8.5-2.8.5 3 .5-2.6.5 2.1.5-2.1.5 2.3.5-2.8.5 2.5.5-2.4.5 2.5.5-2.6.5 2.3.5-2.3.5 2.9.5-2.8.5 2.7.5-2.8.5 2.7.5-2.4.5 2.2.5-2.7.2 2.4.3-2.4.5 2.1.5-2.9.5 2.1.5-3.2.5 1.8.5-2.7.5 2.1.2-2.3.3 2.3.5-3.1.5 2.1.5-2.5.5 2.2.5-2.9.5 2.2.1-2.3.4 2.2.5-1.7.5 2.3.5-1.8.5 2.7.5-1.3.5 3 .2-2 .3 2.2.5-2.3.5 3 .5-2.5.5 2.4.5-1.7.5 2.5.5-2 .5 2.6.5-2.3.5 2.9.5-2.2.2 2.5.3-2.6.5 2.4.5-2.5.5 1.9.5-2.1.5 2.6.5-2.6.5 2.3.5-2.2.5 2.9.5-2.8.5 2.8.5-2 .5 2.2.5-2.4.5 2 .5-2.2.5 2.3.5-2.7.5 2.5.5-2.8.5 2.2.5-2.3.5 2.8.5-2.4.5 2.2.5-2.3.5 2.6.5-2.1.5 2.2.5-2.6.5 2.6.5-2.1.5 2.1.5-2.3.5 2.3.5-2.1.5 2 .5-2.1.5 2.1.5-2.7.5 2.5.5-2.4.5 2.2.5-1.8.5 2 .5-2.1.5 2.4.5-2.6.5 2.6.5-2.6.5 2.1.5-2.7.5 2.4.5-1.8.5 2 .5-2.3.5 2.4.5-2.1.5 2 .5-2.1.5 2.8.5-2.4.5 2.4.5-2.2.5 2.2.5-2.2.5 2.8.5-2.6.5 2.1.5-2.5.5 2.2.5-2.4.5 2.2.5-2.6.5 2.6.5-2.3.5 2 .5-2.1.5 2.2.5-2.4.5 2.7.5-2.1.5 2.1.5-2.2.5 2.4.5-2.4.5 2.5.5-2.3.5 2 .5-2.2.5 2 .5-2 .5 2.3.5-3 .5 2.4.5-2.2.5 2.4.5-2.2.5 2.4.5-2.1.5 2 .5-2.1.5 2.4.5-2.4.5 2.1.5-2.2.5 2.2.5-2.4.5 2.4.5-2.5.5 2.3.5-2.2.5 2.2.5-2.4.5 2.4.5-2.1.5 2.7.5-2.7.5 2.6.5-2.2.5 2.3.5-2.3.5 2.2.5-2.7.5 2.7.5-2.6.5 2.6.5-2.6.5 2.5.5-2.2.5 2.4.5-2.4.5 2.4.1-2.4.4 1.8.5-2.7.5 2 .5-2.5.5 2.2.5-2.9.5 2.2.5-2.6.5 1.9.5-2.5.5 1.5.5-3 .5 1.9.5-2.8.5 2 .5-3 .5 1.7.5-2.4.5 2.3.5-3.3.5 2.6.5-3.2.5 2.2.5-2.8.5 2.1.5-2.7.5 2.1.5-2.6.5 .9.5-3.9.5 1.1.5-3.1.5 1 .5-3.5.5 .5.5-3.7.5 1.4.2-2.8.3 2.1.5-2.3.5 2.5.5-2.3.5 2.5.5-2 .5 2.4.5-2.4.5 2.7.5-2.5.5 2.7.2-2.2.3 1.4.5-3.9.5 1.4.5-3.7.5 .7.5-3.2.5 1.1.5-3.8.5 1.3.4-3.7.1 2.6.5-1.5.5 3.9.5-1.1.5 3.5.5-.5.5 3.2.5-1 .5 3.9.5-.9.5 3.7.5-.8.5 3 .5-4.2.5 0 .5-4.3.5 0 .5-4.4.5 .2.5-4.1.5 .2.5-5.6.5-.7.5-5.4.5-.9.5-5.8.5-1 .5-5.3.5-.7.5-5.5.5-.6.2-4 .3 4.1.5 1 .5 5.9.5 .8.5 5.1.5 .8.5 6 .5 .8.5 5.5.5 1.3.5 5.4.2-.8.3 2.2.5-3.5.5 1.5.5-3.8.5 1.5.5-2.9.5 1.2.5-2.8.5 1.2.5-.8.5 3.3.5-1.6.5 3.8.5-1.6.5 3.7.5-1.5.5 3.5.5-1.5.5 3.4.5-1.9.1 2.9.4-3.6.5 1.4.5-3.3.5 1.5.5-2.7.5 1.1.5-3.1.5 1.8.5-3.4.5 1.1.5-2.8.5 1.2.5-3.7.5 1.3.5-3.3.5-2.1.5-6.9.5-2.5.5-7.2.5-2.5.5-7.5.5-1.8.5-7.2.5-2.2.2-4.2.3-1 .5-6.5.5-2.7.5-7.1.5-2.2.5-6.9.5-2.1.5-6.4.5-2.4.5-6.7.5-2.8.2-4 .3 1.7.5-2.6.5 1 .5-2.6.5 1.5.5-2.9.5 1.6.4-2.6.1 .9.5-7.6.5-4.1.5-8.4.5-3.3.5-8.7.5-3.5.5-8.1.5-4 .5-7.8.1 1.3.4-7.5.5-3.4.5-8.3.5-3.4.5-8.3.5-3.3.5-8.4.5-3.3.5-8.7.5-2.9.5-8.1.5-3.4.5 4.4.5 9.8.5 4.1.5 10.1.5 4.1.5 9.5.5 4.3.5 9.7.5 4.8.5 9.2.5 4.5.5 9.7.2 .3.3 5.5.5 3.3.5 8 .5 3.8.5 8.4.5 3.1.5 8.1.5 3.2.5 8.2.5 3.5.5 7.7.5 3.6.5 8.1.2 .3.3 4.1.5-.1.5 4.9.5 .2.5 4.4.5-.3.5 4.9.5 .1.5 4.7.5 .3.5 4.3.5 .3.5 4.9.5-.1.5 4.6.1-1.8.4 1.4.5-3 .5 1.6.5-3.1.5 1.5.5-3 .5 1.7.5-2.9.5 1.8.5-3.2.5 1.7.5-3 .5 1.8.2-2.4.3-1.1.5-7.8.5-3.4.5-7.7.5-3.7.5-7.3.5-3.5.5-7.8.2-.1.3 .9.5 8 .5 2.5.5 7.9.5 3 .5 7.9.5 2.6.5 8 .5 2.7.5 7.4.5 2.7.5 7.3.5 2.8.5 7.4.5 2.7.5 7.4.5 2.8.5 7 .5 2.9.5 7.1.1-1 .4 2.7.5-.6.5 3.4.5-1.4.5 3.8.5-1.5.5 3.5.5-1.1.5 3.4.5-1 .5 3.1.1-2.2.4 2.5.5-1.8.5 2.3.5-2.4.5 2.8.5-1.8.5 2.4.5-1.8.5 2.7.5-2.4.5 3 .5-2.2.5 2.5.5-2.1.5 2.6.5-2.1.5 2.3.5-2.4.5 2.8.5-2 .5 2.8.5-2.5.5 3 .5-1.9.5 2.4.5-2.1.5 2.4.5-1.7.5 2.2.5-2.3.5 2.7.5-2.4.5 2.7.4-2.3.1 2.3.5-2.6.5 2.5.5-2.4.5 2.3.5-1.8.5 2 .5-2.3.5 2.7.5-2.5.5 2.1.5-2 .5 2 .5-1.9.5 1.7.5-1.9.5 2.2.5-2.4.5 2.2.5-2.1.5 2.5.5-2.2.5 2.3.5-2.2.5 2.5.5-2 .5 2.1.5-2.3.5 2 .5-2.2.5 2.3.5-2.4.5 1.9.5-2.1.5 2.1.5-2.5.5 2.5.5-2.4.5 2.4.5-2.2.5 2.3.5-2 .5 2 .5-2.2.5 2.6.5-2.6.5 2.6.5-2.7.5 2.8.5-2 .5 1.5.5-1.9.5 2.1.5-2.3.5 2.2.5-1.7.5 1.9.5-2 .5 1.9.5-2.1.5 2.7.5-2.8.5 2.2.5-2.2.5 2 .5-2.2.5 2 .5-1.9.5 2.1.5-2.1.5 2.4.5-2 .5 2.4.5-2.3.5 2.5.5-2.4.5 2.6.5-3 .5 2.3.5-2 .5 1.7.5-2.1.5 2.7.5-2.3.5 2.3.5-2.3.5 2.3.5-2.1.5 2.3.5-1.9.5 2.3.5-2.2.5 2.2.3-2.1.2 1.8.5-2.6.5 2.5.5-2.8.5 1.8.5-2.5.5 2.4.5-2.6.5 2.1.5-2.2.5 1.9.5-2.4.5 1.8.5-2.2.5 1.9.5-2.5.5 2.1.2-2.3.3 2 .5-1.9.5 1.8.5-1.9.5 2.1.5-2.5.5 2.5.5-1.9.5 1.9.5-2.3.5 2.8.5-2.3.5 2.6.5-2.5.5 2.7.5-2.4.5 2.7.5-2.2.5 2.2.5-2.2.5 2.4.5-2.3.5 2.4.5-2.8.5 2.7.5-1.9.5 2.2.5-2.1.5 2.2.5-2 .2 2.4.3-2.4.5 2.6.5-2.1.5 2.4.5-2.6.5 2.3.5-2.3.5 2.5.5-2.3.5 2.4.5-1.9.5 1.8.5-2.2.5 2.6.5-2 .5 2.2.5-2 .5 2.5.5-2.4.5 2.6.5-2.4.5 2.5.5-2.3.5 2.1.5-2.1.5 2.5.5-2.5.5 2.3.5-2.5.5 2.2.5-2.2.5 2.3.5-1.8.5 2.1.5-1.8.5 2.2.5-2.3.5 2.6.5-2.5.5 2.2.5-2.3.5 2.5.5-2.5.5 2.8.5-2.1.5 2.2.5-1.9.5 2.1.5-2.1.5 1.9.5-2.2.5 2.5.5-2.3.5 2.1.5-2 .5 2 .5-2 .5 2.6.5-2.1.5 2 .5-1.8.5 2.1.5-2.3.5 2.5.5-2.8.5 2.5.5-2.5.5 2.6.5-2.3.5 2.4.5-2.4.5 2.3.5-2.8.5 2.1.5-1.7.5 2.3.5-2.4.5 2.8.5-2.8.5 3.1.5-2.3.5 2.3.5-2.8.5 2.3.5-2.5.5 2.5.5-2.1.5 2.3.5-2.7.5 2.6.5-2.3.5 2.5.5-2.7.5 1.9.5-1.7.5 1.9.5-2.5.5 2.6.5-2.3.5 2.7.5-2.4.5 2.3.5-2.6.5 2.6.5-2.3.5 2.6.5-2.6.5 2.5.5-2.6.5 2.3.5-2.3.5 2.1.5-2.4.5 2.5.5-2.2.5 2.2.5-1.9.5 2.2.5-2.3.5 2.8.5-2.7.5 2.5.5-2.5.5 2.5.5-2.2.5 2.1.5-2 .5 2.1.5-2.6.5 2.2.5-1.9.5 2 .5-2.4.5 2.6.5-2.6.5 2.6.5-2.8.5 2.7.5-2.5.5 2.2.5-2.1.5 2.1.5-2.2.5 2.4.5-2.8.5 2.5.5-2.1.5 2.1.5-2 .5 2.3.5-2 .5 1.7.5-1.8.5 1.9.5-2.5.5 2.3.5-2.2.5 2.7.5-2.4.5 2 .5-1.9.5 2.1.5-1.9.5 1.9.5-2.1.5 2.1.5-2.1.5 2.6.5-2.7.5 2.2.5-1.9.5 1.9.5-2.3.5 2.2.5-2.7.5 2.5.5-2.4.5 2.4.5-1.7.5 2.1.5-2.5.5 2.3.5-2.2.5 2.1.5-2.1.5 2.4.5-2.2.5 1.9.5-2.2.5 3 .5-2.5.5 2.4.5-2.4.5 1.9.5-1.8.5 1.8.5-2.3.5 2.1.5-1.9.5 2.1.5-2.1.5 2.2.5-2 .5 2 .5-2 .5 1.9.5-2.3.5 2.8.5-2.4.5 2.4.5-2.4.5 2.4.5-2.2.5 2.5.5-2.9.4 2.6.1-2.4.5 2 .5-2.2.5 1.9.5-2.5.5 2.3.5-2.4.5 1.8.5-2.1.5 2 .5-2.6.5 2.3.5-2.1.5 2.2.5-2.7.5 2.5.5-2.6.5 2 .5-2.4.5 2.2.5-2.1.5 1.7.5-2.3.5 1.9.5-2.6.5 2 .5-2.4.5 1.9.5-2.2.5 2.5.5-2.8.5 2.2.5-2 .5 2.3.1-2.7.4 2.3.5-2.9.5 2.1.5-2.7.5 1.3.5-2.6.5 1.8.5-3.1.5 1.9.5-3.2.1 1.9.4-1.6.5 3.3.5-1.9.5 2.4.5-1.2.5 2.6.5-1.3.5 2.6.2-1.6.3 2.1.5-2.7.5 2.6.5-2.6.5 2.4.5-2.7.5 2.2.5-2.5.5 2.2.5-2.5.5 2.5.5-2.7.5 2.6.5-2.3.5 1.5.5-2.3.5 2.5.5-2.7.5 2.3.5-2.1.5 1.7.5-2.1.5 2.3.5-2.3.5 2.3.5-2.8.4 2.2.1-1.8.5 2.2.5-1.7.5 2.3.5-2 .5 2.2.5-2 .5 2.5.5-2.4.5 2.5.5-2.2.5 2.4.5-1.5.5 1.9.5-1.9.5 2.6.5-2.7.5 3 .5-2.1.5 2.2.5-1.8.5 2.2.5-2 .5 2.6.5-2.4.5 2.2.5-3.6.5 .6.5-3.5.5 .4.5-3.3.5 .3.5-3.7.5 .7.2-2.6.3 .6.5-4.1.5-.1.5-4.5.5 .1.5-4.3.5-.4.5-4.4.3 1 .2-1.5.5 4.8.5-.3.5 4 .5-.2.5 4.9.5 .1.5 4 .5 .2.5 3.7.5-.5.5 3.7.5-.8.5 3.3.5-.6.5 3.7.5-.4.2 2.8.3-2.2.5 2 .5-1.8.5 2.3.5-2.4.5 1.9.5-2.1.5 2.3.5-2.5.5 2.3.5-2.3.5 1.9.5-2.5.5 2.2.5-2.4.5 2.2.5-2 .5 2.1.5-2 .5 2.3.5-2.4.5 2.2.5-2.4.5 1.7.5-2.1.5 2 .5-2.1.5 2.4.2-2.1.3 2.6.5-1.5.5 3.1.5-1.4.5 2.4.5-1.2.5 2.2.5-1.3.5 2.4.5-1.7.5 2.9.2-1.6.3 1.8.5-3.2.5 1.5.5-3 .5 1.6.5-2.9.5 1.1.5-2.7.4 1.4.1-1.8.5 4.7.5 .4.5 5.1.5 .4.5 4.5.5 1 .5 4.3.5 .9.1 2.2.4-2.7.5 1.4.5-2.5.5 1.5.5-2.4.5 1.4.5-2.8.5 1.5.5-3 .5 1.2.5-2.7.5 1 .5-2.7.5 1.3.5-2.2.5 1.5.5-2.2.5 1.9.5-2.4.5 1.5.5-2.5.5 1.6.5-2.4.5 1.5.5-2.3.5 1.7.5-2.6.5 1.6.5-2.1.5 1.3.5-2 .5 1.5.5-2.2.5 1.7.5-2.6.5 1.7.2-1.8.3 2.2.5-2.2.5 1.7.5-2 .5 1.4.5-2.1.5 1.5.5-2.3.5 2.2.5-1.7.5 1.7.5-2.5.5 2 .5-1.9.5 2 .5-1.8.5 1.5.5-2.3.5 1.8.5-1.8.5 2 .5-2.4.5 1.6.5-1.9.5 1.7.5-1.4.5 1.5.5-1.7.5 1.7.5-1.9.5 2.1.5-2.2.5 1.7.5-2 .5 1.4.5-2.2.5 2 .5-2.1.5 2.1.5-1.7.5 1.5.5-1.7.5 1.8.5-1.9.5 1.7.5-2.5.5 1.9.5-2 .5 1.8.5-1.9.5 1.6.5-1.8.5 1.6.5-1.9.5 2.4.5-2.3.1 2.2.4-2 .5 1.9.5-1.5.5 2.2.5-1.6.5 2 .5-1.3.5 1.9.5-1.4.5 2.5.5-1.5.5 2.1.5-1.5.5 2.1.5-1.3.5 1.5.5-1.3.5 2 .5-1.5.5 2.4.5-1.9.5 2.2.5-1.5.5 2 .5-1.2.5 1.9.5-1.6.5 2.4.5-1.1.5 2.1.5-1.6.5 2.1.5-1.5.5 2.1.5-1.4.5 1.8.5-1.8.5 2.5.5-1.3.1 1.5.4-2.1.5 .9.5-2 .5 1.4.5-2.3.5 1.1.5-2.3.5 1.2.5-2.4.5 1.4.5-2.3.2 1.7.3-2.1.5 1.3.5-2.1.5 1.2.5-2.3.5 1.2.5-1.9.5 .8.5-2 .5 1.2.5-2.3.2 1.2.3-1 .5 2.6.5-.8.5 2.8.5-.8.5 2.6.5-.9.5 2.5.4-1 .1 1.9.5-2.2.5 1.7.5-1.7.5 1.6.5-1.8.5 1.6.5-1.6.5 1.4.5-1.4.5 1.8.5-2 .5 1.8.5-1.6.5 1.6.5-1.8.5 1.6.5-1.7.5 1.7.5-1.7.5 1.7.5-1.9.5 1.3.5-1.6.5 1.7.5-1.9.5 1.2.5-1.6.5 1.7.5-1.6.5 1.6.5-1.8.5 1.4.5-1.5.5 1.7.5-2.1.5 2 .5-1.9.5 1.5.5-1.3.5 1.5.5-1.4.5 1.6.5-2 .5 1.4.5-1.6.5 1.4.5-1.7.5 1.4.5-1.5.5 1.2.5-1.7.5 1.4.5-1.2.5 1.6.5-1.8.5 1.5.5-1.7.5 1.4.5-1.6.5 1.5.5-1.6.5 1.5.5-1.7.5 1.4.5-1.6.5 1.5.5-1.6.5 1.3.5-1.5.5 1.4.5-1.4.5 1.4.5-1.3.5 1.1.5-1.6.5 1.4.5-1.3.5 1.2.5-1.6.5 1.6.2-1.6.3 2 .5-1.6.5 2.2.5-1.6.5 1.9.5-1.2.5 1.9.5-1.7.5 1.8.5-1.5.5 1.9.5-1.5.5 1.9.5-1.1.5 1.4.5-1.4.5 1.8.5-1.3.5 1.3.5-1.5.5 1.8.5-1.1.5 1.6.5-1.2.5 1.9.5-1.4.5 2.1.5-1.5.2 1.9.3-1.5.5 1 .5-1.4.5 1.6.5-1.7.5 1.5.5-1.8.5 1.5.5-1.5.5 1.1.5-1.4.5 1.6.5-1.5.5 1 .5-1.6.5 1.4.5-1.2.5 1.3.5-1.6.5 1 .5-1.2.5 1.1.5-1.7.5 1.3.5-1.3.5 1.5.5-1.6.5 1.6.5-1.5.5 1.6.5-1.5.5 1.4.5-1.8.5 1.6.5-1.8.5 1.5.5-1.5.5 1.2.5-1.6.5 1.4.5-1.6.5 1.4.5-1.8.5 1.7.5-1.7.5 1.2.5-1.4.5 1.3.5-1.2.5 1.5.5-1.5.5 1.5.5-1.6.5 1.7.5-1.7.5 1 .5-1.4.5 1.2.5-1.5.5 1.5.5-1.4.5 1.1.5-1 .5 1.3.5-1.8.5 1.2.5-1.7.5 1.4.5-1.4.5 1.2.5-1.5.5 1 .5-1 .5 1 .5-2 .5 1 .5-1.4.5 1.1.5-1.3.5 1 .5-1.6.5 1 .5-1.4.5 .9.5-1.6.5 1.1.2-1.7.3 1.4.5-1.8.5 1 .5-1.8.5 .9.5-1.8.5 1.1.5-1.8.5 1 .5-1.8.5 1.1.5-1.4.1 1.1.4-.9.5 2.1.5-1 .5 1.7.5-.6.5 1.7.5-.6.5 1.5.5-1 .5 2.1.2-1 .3 1.4.5-1 .5 1.8.5-1.3.5 1.9.5-1.4.5 1.8.5-1 .5 1.6.5-1.2.5 1.9.5-1 .5 1.6.5-1.1.5 1.6.5-1.1.5 1.7.5-1.1.5 1.9.5-1.7.5 1.2.5-1.6.5 1.3.5-1.4.5 1.2.5-1.4.5 1.2.5-1 .5 1 .5-1.4.5 1.3.5-1.4.5 1.3.5-1.4.5 1 .5-1.4.5 1.1.5-1.3.5 1 .5-1.4.5 1.6.5-1.4.5 1.1.5-1.5.5 1.3.5-1.4.5 .9.5-1.4.5 1 .5-1.2.5 1.2.5-1.5.5 1.1.5-1.5.5 1.4.5-1.6.5 1.3.5-1.5.5 1.2.5-1.5.5 1.3.5-1.4.5 1.2.5-1.3.5 .9.5-1.5.4 1.6.1-1.9.5 .6.5-1.9.5 .6.5-1.8.5 .5.5-2.4.5 .9.5-2.1.5 .4.5-1.9.3 .8.2-1.1.5 2.1.5-.4.5 2.1.5-.5.5 1.6.5-.5.5 2.3.5-.5.5 2.1.5-1 .5 2.2.5-.4.5 2.3.5-.2.4 1.6.1-1.5.5 .8.5-1.4.5 1 .5-2.2.5 .9.5-1.4.5 1 .5-1.7.2 1.3.3-3.2.5-1.8.5-4.3.5-1.9.5-4.5.5-1.6.5-4.3.5-2 .2-2.3.3 2.9.5 1.4.5 4.3.5 1.1.5 4 .5 1.6.5 3.8.3 .4.2 1.4.5-1.6.5 1 .5-1.7.5 1 .5-1.8.5 1.1.5-1.9.5 .7.2-1.3.3 2 .5-.8.5 2.4.5-.5.5 2.4.5-.1.5 2 .5-.4.5 2.6.5-1.4.5 1.6.5-1.6.5 1.6.5-1.3.5 1.3.5-1.3.5 1.4.5-1.2.5 1.6.5-1.5.5 1.6.5-1.4.5 1.1.5-1.1.5 1.3.5-1.4.5 1.3.5-1 .5 1.9.5-1.3.5 1.4.5-1.3.4 1.3.1-1.2.5 1.5.5-1.1.5 1.7.5-1.1.5 1.6.5-1 .5 1.8.5-1.4.5 1.5.5-.9.5 1.3.5-1 .5 1.6.5-.8.5 1.7.5-1.2.5 1.8.5-.7.5 1.6.5-1.2.5 1.7.3-1.6.2 1.2.5-1.9.5 1 .5-1.6.5 .9.5-1.9.5 1.3.5-1.7.5 1.3.5-1.3.5 1.2.5-1.7.5 .9.3-1.2.2-1.4.5-8.5.5-5.9.5-8.5.5-5.5.5-8 .1-.2.4-9.5.5-9.1.5-12 .5-9.5.5-11.8.2-2.9.3 4.1.5 11.4.5 8.8.5 11.5.5 8.8.5 11.5.5 8.5.5 5.2.5 2.1.5 5.1.5 2.3.5 5 .5 2.5.2 2.7.3-2.1.5 .2.5-3 .5-.6.5-2.8.5-.6.5-2.6.5-.6.5-2.9.5-.1.5-2.8.1 .8.4-8.7.5-8.1.5-10.7.5-8.3.5-10.8.5-8.2.5-10.6.5-8 .5-10.7.5-7.6.5-10.5.5-7.4.5-10.3.2-2.3.3 3.5.5 10 .5 6.9.5 9.7.5 7.3.5 9.4.5 7.2.5 9.9.5 6.8.5 5.4.5 2.8.5 5.7.5 2.7.5 5.5.5 2.7.5 5.5.5 3.1.5 5.3.5 2.7.5 5.7.5 2.9.5 5.5.5-.1.5 2.3.5-.1.5 2.6.5-.2.5 2.5.5-.1.5 2.5.5-.2.5 2.1.2-1 .3 1.6.5-1 .5 2 .5-1.1.5 2.1.5-.8.5 1.8.5-.9.5 1.8.5-.6.5 2 .3-1.1.2 .8.5-1.8.5 .8.5-2.1.5 .7.5-1.6.5 .5.5-1.8.5 .5.5-2.2.5 .8.5-1.9.5 .1.2-1.3.3 .1.5-3 .5-.2.5-3.1.5-.5.5-3.1.5-.5.5-3.3.5-.5.5-3.4.5-.3.3-2.2.2 1.7.5 .2.5 3 .5 0 .5 2.5.5 .2.5 2.7.5-.9.5 1.5.5-1 .5 1.8.5-1 .5 1.1.5-1.1.5 1.6.5-1.1.5 1.7.5-1.1.5 1.3.5-1.1.5 2 .5-1.4.5 1.4.5-1 .5 1.2.5-1 .5 1.6.5-1.6.5 1.8.5-1.3.5 1.8.5-1.2.5 1.5.5-.7.5 1.4.5-1 .5 1.5.2-1.5.3 1.5.5-1 .5 1.5.5-1 .5 1.7.5-1.2.5 1.8.5-1.2.5 1.6.5-1 .5 1.5.5-1.6.5 1.7.5-1.1.5 1.5.5-1.3.5 1.8.5-1.1.5 1.8.5-1.1.5 1.8.5-1.1.5 1.7.5-1.4.5 1.8.5-.9.5 1.3.5-.8.5 1.6.5-1.3.5 1.3.5-1.2.5 1.6.5-1.3.5 1.6.5-1.5.5 1.9.5-1.3.5 1.8.5-1.1.5 1.8.5-1.5.5 1.6.5-1 .5 1.8.5-1.3.5 1.3.5-.7.5 1.3.5-1 .5 1.5.5-1.4.2 1.6.3-1.2.5 1.3.5-1.5.5 1.4.5-1.5.5 1.8.5-1.6.5 1.5.5-1.5.5 1.3.5-1.2.5 1.1.5-1.4.5 1.4.5-1.3.5 1.3.5-1.3.5 1.3.5-1 .5 1.3.5-1.6.5 1.4.5-1.3.5 1.1.5-1.5.5 1.1.5-1.5.5 1.5.5-1.5.5 1.5.5-1.6.5 1.5.5-1 .5 1.3.5-1.4.5 1.2.5-1.5.5 1.6.5-1.4.5 1.5.5-1.7.5 1.2.5-1.4.4 1.3.1-1.4.5 1.2.5-1.8.5 1.4.5-1.5.5 1.1.5-1.4.5 .9.5-1.5.5 1.5.5-1.7.5 1.5.5-1.7.5 1.3.5-1.2.5 .9.5-1.5.5 1.3.5-1.9.5 1.4.5-1.6.5 .9.5-1.6.5 1.1.5-1.5.5 1.3.5-1.4.5 1.2.5-1.2.5 1.2.5-1.5.5 1.3.5-1.6.5 1.4.5-1.8.5 1.2.5-1.5.5 1.1.5-1.4.4 1.1.1-1.2.5 1.9.5-1.4.5 2.1.5-1.1.5 1.6.5-.9.5 1.9.5-1 .2 1.7.3-2 .5 .9.5-1.9.5 .5.5-1.6.5 .9.5-2.2.5 .6.5-1.6.5 .5.5-2 .5 .6.1-1.4.4 2.1.5-.1.5 2.2.5-.4.5 2 .5-.6.5 2 .5-.1.5 2 .5-.4.5 2.3.5-.8.5 2.5.5-.4.3 1.9.2-1.7.5 1.2.5-1.4.5 .8.5-1.5.5 1.2.5-1.6.5 1 .5-1.7.5 1.4.5-1.2.5 1 .5-1.6.5 .9.5-1.4.5 1 .5-1.6.5 1.2.5-1.5.5 1.1.5-1.4.5 1.3.5-1.5.5 .8.5-1.7.5 1.3.5-1.4.5 1 .5-1.7.5 1.3.5-1.1.5 1.2.5-1.5.5 .9.5-1.2.2 1.4.3-1.7.5 .9.5-1.8.5 .9.5-1.9.5 .7.5-1.6.5 .8.5-2 .5 1.1.5-2 .5 1.2.5-1.4.5 .7.5-1.7.5 1 .5-1.5.5 1.2.5-2.2.5 .8.5-1.6.5 1 .5-1.7.5 .8.5-2.1.5 1.1.2-1.6.3 2 .5-.8.5 1.8.5-.6.5 2 .5-.9.5 1.9.5-.8.5 1.9.5-.3.5 1.9.5-.6.5 2 .5-.4.5 1.8.5-.4.5 1.5.5-.9.5 1.8.5-1 .5 1.9.5-.6.5 .2.5-2.7.5 .3.5-2.5.5 .7.5-2.5.5 .3.5-2.5.5 .4.5-2.5.2 1.1.3-2.2.5 .2.5-3.1.5-.3.5-2.7.5 .2.2-2.1.3 1.9.5 0 .5 2.8.5 .5.5 2.6.5 .2.2 1.9.3-.9.5 2.2.5-.4.5 1.9.5-.5.5 2.1.4-.6.1 1.3.5-1.5.5 .8.5-1.6.5 .7.5-1.7.5 1.1.5-1.8.5 .9.5-1.7.5 .8.5-1.7.5 1.4.5-1.7.5 1 .5-1.6.5 1.3.5-1.8.5 .9.5-1.8.5 .8.5-1.5.5 .9.5-2 .2 1.2.3-1.8.5 .5.5-2 .5 .3.5-2.4.5 .4.5-2.1.5 .2.5-2.6.5 .2.2-1.7.3-1.5.5-5.7.5-3.6.5-5.6.5-3 .5-5.7.5-3.3.5-5.6.5-3.3.4-4.9.1 2.3.5 4.1.5 7 .5 4.1.5 7.1.5 4 .5 7.2.5 4.2.5 7 .5 4.2.2 3.9.3-.9.5 2.9.5-.4.5 2.5.5-.3.5 2.8.5-.7.5 2.7.5-.3.5 2.7.5 .1.2 1.4.3-1.2.5 1.7.5-1.5.5 1.6.5-1.5.5 1.7.5-.8.5 1.4.5-1.2.5 1.7.5-1.4.5 1.8.5-1.4.5 1.3.5-1.5.3 1.7.2-2.5.5-1.3.5-4.3.5-1.1.5-4.2.5-1.3.5-4.1.2 .1.3-2.4.5-.8.5-3.9.5-.6.5-3.8.5-.6.3-3 .2 2.7.5 .5.5 4.2.5 1 .5 3.7.5 1.1.2 2.3.3-.5.5 4.4.5 .4.5 4.1.5 .5.5 4.3.5 .5.3 3.4.2-2 .5 2.2.5-1.7.5 2.2.5-1.6.5 2.2.5-1.5.5 2.2.5-1.5.5 2.2.5-1.4.5 2.7.5-1.9.5 2.1.5-1.6.4 2.6.1-2.3.5 1.7.5-2 .5 2.1.5-2.1.5 2 .5-2.2.5 1.9.5-1.8.5 1.9.5-2.4.5 1.9.5-1.9.5 1.9.5-2.5.5 1.9.5-1.8.5 2.4.5-2 .5 1.9.5-2.1.5 2 .2-2 .3 2 .5-2.9.5 1.6.5-2.2.5 1.3.5-2.1.5 1 .5-2.4.5 1.8.5-2.6.5 1.1.2-2.5.3 2.7.5-1.3.5 3 .5-1.4.5 2.9.5-1.6.5 3.4.5-1.3.5 2.2.5-1.8.5 1.8.5-1.9.5 2 .5-2.3.5 1.7.5-1.8.5 1.8.5-2.4.5 2.4.5-2.4.5 2.1.5-1.7.5 1.3.5-1.8.5 2.1.5-2.3.5 2.1.5-2.1.5 1.6.5-2 .5 2.2.5-2.4.5 1.8.5-2.2.5 2.1.5-2.4.5 2.1.5-1.9.5 1.9.5-2.3.5 2 .2-1.8.3 1.2.5-3.1.5 .7.5-3.6.5 .8.5-3.6.5 .9.5-3.1.5 .7.5-3.7.5 .9.5-3.2.5 .8.5-3.6.5 1 .4-2.9.1 1.3.5-5.9.5-2.5.5-5.8.5-2.2.5-6.1.5-1.8.5-6.2.2 .3.3-5.4.5-3.8.5-6.9.5-3.8.5-7.5.5-3.2.5-7.6.5-3.4.5 3.3.5 7.5.5 3.7.5 7.8.5 3.2.5 7.8.5 3.8.2 4.1.3 .1.5 5.3.5 1.6.5 4.7.5 1.3.5 5.5.5-.5.5 4.4.5 0 .5 4.1.5 .3.5 4 .5-.1.5 4.4.2-1.1.3 2.2.5-1 .5 2.9.5-.5.5 2.8.5-1 .5 3 .5-.9.5 2.8.2-1.5.3 1.2.5-4.3.5 0 .5-3.7.5 .3.5-3.9.5-.2.5-3.5.5 0 .5-3.6.5-.1.1-2 .4-10.5.5-17.3.5-13.1.5-17.6.5-12.7.5-17.5.3-7 .2-8.3.5-14.3.5-17.9.5-14 .5-18.2.5-13.6.2-8.7.3 11.4.5 14.1.5 18 .5 13.7.5 17.8.5 14 .5 18 .3 7.6.2 7.2.5 10.4.5 14.4.5 10.8.5 14.3.5 10.4.5 14.4.1 .2.4 3.5.5-.2.5 4 .5-.5.5 3.5.5-.1.2 3.1.3-1.9.5 2.7.5-1.2.5 2.7.5-1 .5 2.6.5-1.5.5 3.3.5-1.4.2 2.1.3-1.4.5 2.1.5-1.4.5 2.2.5-2.1.5 2.5.5-1.7.5 2.3.5-1.8.5 2 .5-1.5.5 1.9.5-1.5.5 2.2.5-1.6.5 2.5.5-1.9.5 2.2.5-1.3.5 1.8.5-1.3.5 2 .5-1.9.5 1.6.5-1.8.5 1.4.5-2 .5 1.9.5-2 .5 1.9.5-1.8.5 1.9.5-2.3.5 1.9.5-2.3.5 2.2.5-2.4.5 2 .5-2.1.5 1.5.5-1.6.5 1.3.5-1.6.5 2.1.5-2.3.5 1.9.5-2.2.5 1.9.5-2 .5 1.7.5-2.1.5 2.1.5-2.4.5 2.2.5-2.2.5 1.4.5-1.6.5 1.6.5-2.1.5 2.1.5-2.1.5 1.3.5-2.4.5 1.6.5-2.5.5 1.8.5-2.3.5 1 .5-2.1.5 1.3.5-2.7.5 1.5.5-2.8.5 1.5.5-2.2.5 1.7.5-2.3.5 1.4.5-2.8.5 1.6.5-2.3.5 1.2.4-2.3.1 1.6.5-2 .5 2.2.5-2.2.5 1.7.5-2.5.5 1.7.5-2.2.5 1.5.5-2.3.5 1.7.5-1.8.5 1.9.5-1.9.5 1.8.5-2.4.5 2 .5-2.4.5 1.6.5-1.9.5 1.6.5-2.1.2 2 .3-1.7.5 2.3.5-1.6.5 2.2.5-1.6.5 2 .5-1.9.5 2.3.5-1.9.5 2.5.5-1.8.5 2.5.5-1.6.5 2.1.5-1.1.5 1.9.5-1 .5 2 .5-.9.5 2.1.5-1.5.5 3.1.5-1.2.5 3.2.5-1.7.5 2.8.5-1.3.5 2.3.5-.9.5 2.9.5-1.6.5 2.6.5-1.1.5 2.8.5-.8.1 1.8.4-2.3.5 2.3.5-1.7.5 2.2.5-1.9.5 1.7.5-2 .5 2.3.5-2.1.5 1.9.5-2.3.5 2.1.5-2 .5 2 .5-1.8.5 2.2.5-2.3.5 2.2.5-1.9.5 2.1.5-2.2.5 2 .5-2 .5 1.9.5-1.7.5 1.8.5-2.2.5 1.7.5-1.6.5 1.8.5-1.9.5 1.6.5-1.8.5 2.2.5-2 .5 2.1.5-2.3.5 1.9.5-2 .5 2.3.5-1.9.5 1.6.5-1.7.5 2.2.5-2 .5 2 .5-2.4.5 1.8.5-1.6.5 2.1.5-2.2.5 1.7.5-1.8.5 2.3.5-2.3.5 2.3.5-2.1.5 1.7.5-1.9.5 2.1.5-1.7.5 1.8.5-2 .5 1.9.5-2 .5 2.3.5-2.1.5 1.6.5-2.1.5 2.4.5-2.2.5 2 .5-1.9.5 2 .5-1.8.5 1.9.5-2.1.5 2.2.5-2.3.5 2.4.5-2.4.5 2.1.5-2.4.5 2.2.5-2.2.5 2.2.5-2.1.5 2.5.5-2 .5 2.1.5-1.8.5 2.1.5-2.1.5 1.6.5-1.6.5 1.8.5-2.3.5 2.2.5-2.2.5 2.1" stroke-width="5.2"/>
</g>
<g fill="none" stroke="#3AB23A" stroke-linejoin="round">
<path d="M68.3,1673.1l.6-9.3.6 9.7.6-10.2.6 11.4.6-8.3.6 5.3.6-9.5.6 11 .6-7.4.6 11.9.6-12.9.6 12.1.6-11.9.6 10.6.6-8.9.6 9.2.6-13.5.6 12.3.6-11.9.6 12.6.6-8.5.6 9.4.6-12.2.6 9.9.6-6.4.6 9.7.6-12.4.6 11.5.6-14 .6 13.6.6-13.7.6 12.1.6-11.7.6 12 .6-12.6.6 14.9.6-10.7.6 5.9.6-7 .6 11.8.6-12.8.6 10.6.6-9.8.6 9.6.6-9.6.6 9 .6-10.3.6 11.4.6-13.2.6 13.7.6-13.8.6 14.5.6-14.9.6 14.1.6-9.7.6 10.9.6-15.1.6 15.2.6-13.1.6 12.1.6-9.8.6 10.9.6-13 .6 9.5.6-6.5.6 9.8.6-15.3.6 10.5.6-9.8.6 11.5.6-7.9.6 6.9.6-10.6.6 14.2.6-9.8.6 8.4.6-8.3.6 9 .6-10.5.6 11.7.6-15.2.6 13.1.6-12.9.6 12 .6-6.8.6 8.7.6-8.2.6 6 .6-8.2.6 10.4.6-9 .6 5.8.6-9.8.6 11.4.6-12 .6 15.4.6-12.3.6 9.4.6-10.1.6 11.1.6-12.1.6 11.3.6-11.6.6 13.6.6-13.1.6 10.2.6-11.2.6 10.1.6-8 .6 11.9.6-12.9.6 10.8.6-8.3.6 7.1.6-10.2.6 8.2.6-8.4.6 11.8.6-8.4.6 9 .6-11 .6 11.2.6-10.3.6 10.6.6-13.1.6 8.8.6-5.5.6 9.3.6-13.8.6 11.4.6-8.7.6 10.7.6-10 .6 8.5.6-8.7.6 8.4.6-10 .6 10 .6-8.7.6 11.4.6-9 .6 7.8.6-12 .6 10.3.6-7.7.6 10.5.6-10.6.6 7.4.6-7.9.6 11 .6-9 .6 6.8.6-8.3.6 11.5.6-12 .6 11.6.6-10.4.6 7.6.6-10.3.6 13.6.6-12.2.6 8.4.6-6.5.6 8.6.6-8.9.6 10.4.6-14.2.6 10.1.6-7.2.6 10.9.6-12.9.6 13 .6-10.9.6 7.5.6-7.1.6 10.9.6-10.6.6 8.1.6-9.2.6 9.1.6-9.4.6 12.1.6-11.1.6 5.4.6-10 .6 15.2.6-15.3.6 12.9.6-12.1.6 15.4.6-11.1.6 10.3.6-14.1.6 13.6.6-11.4.6 9.3.6-8.2.6 7.8.6-6.8.6 8.5.6-9.9.6 11.1.6-9.5.6 9.9.6-13.5.6 14.2.6-15 .6 15.1.6-13 .6 8 .6-8.8.6 10 .6-7.5.6 10.2.6-11.8.6 9.7.6-12.7.6 13.5.6-10.4.6 7.9.6-11.1.6 12.2.6-11.7.6 11.3.6-8.3.6 9 .6-12.2.6 10.4.6-9.9.6 14.4.6-14.4.6 14.2.6-9.2.6 8.4.6-13.3.6 9.9.6-6.5.6 7.7.6-9.6.6 9.8.6-9.9.6 11.9.6-9.6.6 5.3.6-5.5.6 6.2.6-5.8.6 10.9.6-14.9.6 10.1.6-8.4.6 9.2.6-8 .6 8.6.6-10.5.6 11.7.6-10.1.6 8.1.6-7.5.6 7.2.6-8.7.6 11.8.6-11.2.6 7.4.6-6.5.6 7.7.6-10.2.6 12.4.6-11.2.6 11.7.6-12.5.6 10.7.6-9.1.6 9.6.6-11.5.6 11 .6-11 .6 11.4.6-8.6.6 8.9.6-11.7.6 9 .6-7.5.6 9.7.6-12.3.6 15.2.6-12.2.6 12.1.6-14 .6 10.6.6-9 .6 8.1.6-10.1.6 13.2.6-13.8.6 14.1.6-12.9.6 12.8.6-12.3.6 8.8.6-8.7.6 8.1.6-5.7.6 9.8.6-9.4.6 5.4.6-6 .6 10.1.6-10.4.6 5.8.6-9.4.1 10.2.5-10.4.6 12.8.6-13.5.6 14.5.6-13.6.6 12 .6-9.9.6 9.3.6-12.2.6 11.6.6-9.7.6 9.3.6-14.5.6 10.1.6-7.4.6 9.5.5-13.2.1 10.8.6-7.2.6 7.4.6-9.6.6 12.6.6-11.1.6 9.1.6-9.2.6 9.3.6-9.3.6 7.4.6-8.4.6 13.2.6-12.4.6 11.6.6-10 .6 9.7.6-12.8.6 13.2.6-11.8.6 10.5.6-11.3.6 13.1.6-10.7.6 6.3.6-9.9.6 14.5.6-12.8.6 10.2.6-10.9.6 10.1.6-7.4.6 7.4.6-9.2.6 9.9.6-7.9.6 9.7.6-14.3.6 11.8.6-10.1.6 10.8.6-12.2.6 12.9.6-9.4.6 7.6.6-6.3.6 7.5.6-9.8.6 8.1.6-7.9.6 8.6.6-10.8.6 9.9.6-11.5.6 13.1.6-11.1.6 10.9.6-12.1.6 14.2.6-12.5.6 10.9.6-11.2.6 13.7.6-12.2.6 11 .6-14.5.6 12.7.6-8.8.6 7 .6-9.8.6 12.6.6-13.7.6 15.2.6-11 .6 7.4.6-7 .6 7.2.6-9.6.6 13.4.6-15 .6 11.3.6-11.4.6 11.5.6-8.8.6 10.9.6-9.5.6 5.9.6-10 .6 11.1.6-8.6.6 9.7.6-11.6.6 8.5.6-6.3.6 9.2.6-9.9.6 8.9.6-9.2.6 13.2.6-12.4.6 9.8.6-8.7.6 7.2.6-10.3.6 9.3.6-10.4.6 14.8.6-10.4.6 10.7.6-12.1.6 11.1.6-13.6.6 10.6.6-10.1.6 12.5.6-12.7.6 10.5.6-10.6.6 14.5.6-13.7.6 11.5.6-8.7.6 8.1.6-9.7.6 11.1.6-12.5.6 11.9.6-8.9.6 9.5.6-12.1.6 9.4.6-10.9.6 13.2.6-9.4.6 10.5.6-10.9.6 7.2.6-10.5.6 12 .6-11.1.6 11.6.6-10.9.6 9.1.6-7.3.6 6.2.6-8.9.6 13 .6-12.1.6 11.9.6-10.9.6 8.4.6-8.6.6 11.6.6-10 .6 8 .6-9 .6 10.4.6-11.3.6 8.9.6-8.8.6 10 .6-12.2.3 11.1.3-11.6.6 9.7.6-7.5.6 6.7.6-6.5.6 9.1.6-13.6.6 9.3.6-7.5.6 7.6.6-11.7.6 13 .6-14.1.5 12.1.1-8.6.6 7.7.6-8.7.6 8.3.6-11.2.6 9.1.6-7.9.6 10.2.6-9.8.1 9.3.5-14 .6 15.3.6-11.9.6 10.8.6-10.9.6 12 .6-13 .6 14.5.3-9.9.3 11.5.6-12.2.6 11.3.6-11.8.6 9.2.6-8.6.6 13.3.6-10.9.6 11 .6-10.1.6 8.6.6-8.7.6 8.2.6-7.5.6 11.5.6-10.7.6 10.8.1-13.1.5 15.4.6-10.4.6 9.8.6-12.8.6 8.5.6-7 .6 8.1.6-6.5.6 8.1.6-12.9.6 12.1.6-11.6.6 13.7.6-9.6.6 10.3.6-12.9.6 13.2.6-14 .6 12.9.6-10.9.6 11.1.6-14.7.6 15 .6-11.8.6 11.9.6-11.4.6 8.2.6-5.6.6 5.9.6-6.3.6 6.6.6-8.7.6 11.6.6-11.7.6 10.6.6-11 .6 10.6.6-8.7.6 11.9.6-11.2.6 8.4.6-11.2.6 14.1.6-11.1.6 9 .6-10.1.6 11 .6-9.6.6 6.1.6-5.9.1 10.5.5-10.1.6 8.3.6-8.6.6 7.1.6-6.8.6 8 .6-8.2.6 5.7.6-5.5.6 6.6.6-8.4.6 8 .6-4.9.6 7.7.6-9.6.6 11.1.6-9.1.6 7.4.6-9.3.6 6.8.6-10.4.6 11.7.6-6.3.6 7.9.6-8.6.6 9 .6-10 .6 7.6.6-6 .6 9.1.6-10.3.6 10.9.6-11.7.6 12.5.6-12 .6 8 .6-7.5.6 10.8.6-12.7.6 10.6.6-7 .6 9.4.6-13.9.6 13.5.6-8.1.6 4.6.6-5.4.6 6.3.6-6 .6 5.3.6-9.1.6 13.6.6-10.6.6 11.2.6-12.8.6 12.1.6-14.3.6 15.3.6-9.9.5 6.6.1-10 .6 12.8.6-10.9.6 6.5.6-11.4.6 9.5.6-7.8.6 8.2.6-10.8.6 12.8.6-11.1.6 8.9.6-13.4.1 13 .5-12.8.6 11.8.6-12.3.6 7.8.6-8.8.6 9.4.6-12.3.6 7.8.6-7.5.3 9 .3-11.3.6 12.2.6-10.1.6 9.5.6-7.7.6 9.3.6-8.1.6 7.3.6-10.8.4 12.1.2-8.7.6 5 .6-11.1.6 11.2.6-13.4.6 12.3.6-12.7.6 10.5.3-13.5.3 10.6.6-7 .6 8.1.6-5.6.6 13.1.6-8.8.6 9.5.6-6.9.6 6.6.5-7.5.1 9 .6-7.7.6 3.7.6-10.4.6 9.4.6-9.4.6 4.1.6-12.5.3 9.5.3-9.6.6 7.6.6-12.8.6 10.1.6-14 .6 9.3.6-9.8.2 5.8.4-4.4.6 11.7.6-7.2.6 7.8.6-7.2.6 13 .6-7.7.6 11.9.6-5 .6 6.9.6-11.1.6 10.7.6-12.5.6 10.4.6-14.2.5 10 .1-9.3.6 11 .6-6.6.6 10.4.6-11.2.6 12.7.6-9.3.6 9.3.6-8.9.6 11.9.6-7.9.6 7.6.4-7.9.2 7.2.6-9.5.6 9.8.6-11.8.6 8.7.6-12.4.6 7.2.6-9.1.6 10.2.6-12.8.6 6.8.3-7.7.3 3.6.6-11.4.6 5.4.6-17.9.6 7.6.6-19.1.6 7.9.6-17.8.6 6.8.4-13.2.2 11 .6-15.7.6 12 .6-14.2.6 9.3.6-12.6.6 10.2.6-16.4.6 8.9.6-12.8.6 10.4.6-6.1.6 8.5.6-10 .6 8.5.6-10.9.6 8.1.6-9 .6 9.4.2-8.3.4 4.6.6-16.3.6 6.2.6-16 .6 .7.6-12.3.6 2.4.6-13.1.6-.1.6-15.1.6 6.7.6-19.4.6 8.8.6-20.1.5 6.6.1-6.3.6 14.9.6-.9.6 17.5.6-2.5.6 17.3.6-3.3.6 18.3.6-.8.3 15.7.3-11.5.6 14.3.6-3.4.6 13.8.6-4.7.6 9.3.6-4.4.6 13.9.6-4.6.6 9.1.6-2 .6 13.2.6-7.6.6 13.6.6-12.5.6 15.2.6-8.2.6 7.1.6-4.2.6 8.4.6-7 .6 8 .6-6.2.5 8.8.1-6.5.6 6.3.6-11.2.6 9.7.6-9 .6 4.8.6-8.1.6 8.5.6-12.7.6 11.3.6-14.9.4 9 .2-7.8.6 4.1.6-17.7.6 6.2.6-16.4.6 6.8.5-13.3.1 7.6.6-.4.6 12.9.6-7.7.6 18.9.6-6.8.6 15.5.6-7.8.3 15.9.3-9.8.6 14 .6-5.2.6 12.1.6-2.5.6 13 .6-9.3.6 16.6.6-5.5.5 11.7.1-8.8.6 12.4.6-10.2.6 13.2.6-9.2.6 8 .6-7.8.6 10.6.6-10 .6 14.4.6-12.7.4 13.4.2-8 .6 8 .6-10.2.6 10 .6-8 .6 9.8.6-12.9.6 10.3.6-8.7.6 10.4.6-8.8.6 12.3.6-13.9.6 13.4.6-8.5.6 10.8.6-10.4.6 7.6.6-10.7.6 10.6.6-7.4.6 10.9.6-14.1.6 11.5.6-7.7.6 7.9.6-6.2.6 6.6.4-10.8.2 9.8.6-6.1.6 6.6.6-5.6.6 7.5.6-11.2.6 12.6.6-11.9.6 12.3.6-9 .6 5.9.6-10.6.6 10 .6-6.1.6 8.5.6-8.3.6 8.8.6-7.6.6 5.6.6-10.8.6 10.5.6-10.1.6 10 .6-10.5.6 13.1.6-11.4.6 8.7.6-5.5.6 8.6.6-9.6.6 6.5.6-9.7.6 13.6.6-9.5.6 9.7.6-12.1.6 9.4.6-7 .6 7 .6-11.6.6 11.3.6-6.8.6 6 .6-5.8.6 7.1.6-11 .6 9.7.6-6 .6 10.5.6-14.6.6 14.9.6-11.2.6 7.3.6-11.4.6 12.1.6-10.7.6 9.7.6-6.2.6 6.3.6-10 .6 12.7.6-11.4.6 9.7.6-9.6.6 9.7.6-9.4.6 11.9.6-10 .6 8.6.6-12.5.6 13.9.6-10 .6 10.6.6-14.2.6 9.8.6-6.9.6 7.2.6-5.7.1 10.1.5-12.1.6 11.1.6-10.3.6 5 .6-9.7.6 12.7.6-14.2.6 12.8.6-11.2.6 11.3.6-9 .6 7.4.6-9.8.6 7.3.6-8.7.1 9.4.5-8.7.6 9 .6-7.6.6 8.1.6-9.4.6 13 .5-14.3.1 13.9.6-13.1.6 10.4.6-10.9.6 11.2.6-6.4.6 7.5.6-11.3.6 10.2.6-9.6.6 9.2.6-11.2.6 11.8.6-9.3.6 9.8.6-12.1.6 14 .6-12.2.6 9.9.6-9.9.6 8.2.6-7 .6 11.2.6-12.9.6 8.8.6-9.5.6 11.3.6-11.7.6 11.9.6-7.5.6 8.7.6-11.8.6 11.4.6-11.3.6 12.9.6-10.4.6 7.9.6-8.8.6 9.3.6-8.5.6 9.6.6-12.6.6 12.6.6-8.1.6 6.7.6-7.5.6 9.6.6-8.3.6 5.9.6-6.8.6 7.6.6-6.2.6 7.4.6-12.1.6 11.9.6-11.3.6 12.5.6-13.3.6 13.5.6-11.8.5 10.6.1-8.6.6 9.9.6-10.9.6 9.3.6-11.4.6 11 .6-7.1.6 10 .6-11.9.6 8.3.6-5.3.6 6.7.6-6.4.6 9 .6-10 .6 6.9.6-8.2.6 9.1.6-9.7.6 9.9.6-11.5.6 10.5.6-7.4.6 10.4.6-12.9.6 8.8.6-6.9.6 10.9.6-13.8.6 10.1.6-4.7.6 6.8.6-9.3.6 11.3.6-13.3.6 10.6.6-8.6.6 9.5.6-12 .6 10.2.6-7.7.6 6.7.6-7.9.6 8 .6-9.6.6 12.3.6-10.3.6 8.4.6-5.9.6 8.2.6-11.5.6 12 .6-8.8.6 11.1.6-13.4.6 10.4.6-8.7.6 7.1.6-10.7.6 9.9.6-8 .6 10.5.6-9.5.6 10.5.6-13.1.6 13.9.6-12.9.6 9.7.6-5.7.6 7.4.6-8.2.6 7 .6-10 .6 10.2.6-9.7.6 13.8.6-10.2.6 9.6.6-11.3.6 7.6.6-6.8.6 5.3.6-7.3.6 9.2.6-10.6.6 13.3.6-9.1.6 7.3.6-8.6.6 7.4.6-6.8.6 7 .6-9.3.6 10 .6-7.2.6 6.7.6-7.8.6 9.7.6-8.5.6 9.3.6-9.6.6 9.2.6-11.5.6 8.3.6-9.1.6 10.3.6-9 .6 10.7.6-10.9.6 10.1.6-7 .6 9.1.6-13 .6 11.6.6-10.1.6 9.3.6-10.4.6 13.1.6-9.2.6 10 .6-14 .6 11.4.6-11.8.6 12.3.6-8 .6 9.3.4-10.1.2 10.1.6-11.3.6 8.1.6-7.9.6 11.6.6-11.9.6 9.6.6-12.2.6 11.1.6-9.4.6 9.7.6-12.1.6 9.9.6-6 .6 9 .6-11.5.6 8.7.6-10.7.6 13.9.6-12.4.6 12.2.6-14.4.6 12.8.6-10 .6 5.7.6-8.3.6 12 .6-10.5.6 8.7.6-10.5.6 8.5.6-9.6.6 10.9.1-9.6.5 6.4.6-8.7.6 8.3.6-10.9.6 8.4.6-8.6.5 7 .1-7.7.6 8.8.6-8.7.6 4.9.6-7.8.5 7.6.1-8.2.6 8.6.6-5 .6 8.9.6-11.3.6 14.6.6-11.1.4 9.8.2-6.9.6 6.1.6-7.9.6 10.5.6-10.2.6 10 .6-12.2.6 9.2.6-8.5.6 10.5.6-10.4.6 8 .6-10.2.6 8 .6-7 .6 10.9.6-14.3.6 11.9.6-13.2.2 9.5.4-8.6.6 12.4.6-9.5.6 8.5.6-11.6.6 11.7.6-9.6.6 9.9.6-8.5.6 10 .6-7.9.6 9.6.6-10.6.6 12.9.6-10.6.6 11.4.6-10 .6 11.4.6-9.6.6 9.1.6-9.9.6 9.8.6-6.7.3 5.9.3-9.4.6 7.7.6-10.7.6 9.8.6-13.1.6 13.1.6-13.6.6 9.1.3-6.9.3 6.9.6-12.6.6 11.8.6-11.9.6 4.9.6-12.2.3 13 .3-10.5.6 12 .6-8 .6 9.4.6-9.5.6 12.5.6-7.2.6 7.9.6-6.6.6 14.1.6-8 .6 6.7.1-4.6.5 9.1.6-10.8.6 9.1.6-11.7.6 12.7.6-9 .6 9.7.6-8.3.6 6.4.6-9.4.6 9 .6-5.2.6 7.9.6-8.6.6 11.6.6-9.9.6 9.1.6-10.5.6 10.7.6-11.2.6 10.1.6-9.5.6 7.2.6-7.7.6 10.9.6-10.1.6 7.7.6-7.6.6 7.1.6-6.2.2 9 .4-10.9.6 9.6.6-9.9.6 5.4.6-5.5.6 5.5.6-8 .6 7.8.6-10 .6 8.8.6-12.6.6 10 .6-7.3.6 15.3.6-5.2.6 13 .6-2 .6 13.3.5-7.2.1 7.6.6-10.3.6 11.9.6-11.9.6 9.5.6-8.2.6 9.2.6-11.8.6 6.3.6-12.7.6 9.6.6-8.4.6 8.5.6-9.1.5 10.3.1-11.8.6 6.1.6-7.7.6 6.2.6-8.7.6 12.2.6-14.5.6 8.9.6-8.7.6 9 .6-9 .6 7.8.6-7.9.6 5.8.6-8.8.6 7.4.6-10.7.6 9.2.6-10.1.3 9.9.3-5.5.6 8.5.6-11.2.6 11.4.6-11.2.6 10.3.6-8 .6 8.3.6-10.8.6 12.4.6-9.6.6 4.5.6-8.5.6 12.7.6-11.9.6 10.4.6-11.5.6 9.4.6-9.1.6 10 .6-7.9.6 6.3.6-9.8.6 9.4.6-8.5.6 8.5.6-8 .6 9.7.6-12 .6 13.2.6-11.9.6 7.9.6-7.6.6 6.4.6-6.5.6 8.5.6-10.9.6 8.8.6-7 .6 5.8.6-5.8.6 8.2.1-8.3.5 10.6.6-11.3.6 9.8.6-7.6.6 7.4.6-7.9.6 12.7.6-9.4.6 10.5.6-9 .6 7.4.6-6.2.6 6.8.6-8.3.6 11.4.6-11 .6 9.1.6-8.7.6 10.9.6-8.2.6 9.2.6-9.1.6 8 .6-7 .6 10.3.6-10.7.6 13.4.6-9.4.6 10.7.6-12.8.6 12.6.6-12.4.5 10.6.1-9.2.6 12.3.6-10.6.6 7.5.6-12.9.6 9.7.6-11.1.6 12.3.6-12.4.6 6.9.6-6.9.6 8.9.3-10.9.3 7.5.6-9.3.6 10.3.6-12 .6 4.3.6-10.9.6 9.2.6-9.1.6 9.5.4-11.5.2 6.9.6-6.6.6 12.8.6-4.3.6 12.8.6-7.5.6 12.4.4-8.5.2 7.4.6-7.1.6 8 .6-10.4.6 9.3.6-9.1.6 8 .6-10.2.6 13.2.6-13 .6 12.4.6-9.1.6 5.6.6-6.5.6 5.8.6-10.2.6 13.7.6-13.7.6 11.4.6-8 .6 6.4.6-7 .6 9 .6-10.6.6 6.8.6-10.6.6 9.8.6-9.7.6 10.5.6-9.4.6 8 .6-9.7.6 10.8.6-7.8.6 8.7.6-10.6.6 8.4.6-6.6.6 7.9.6-7.8.6 8.5.6-10.2.6 6.3.6-7.1.6 6.1.6-6.7.6 8.3.1-9.1.5 7.6.6-7.2.6 8.2.6-10.3.6 10.1.6-10 .6 10.4.6-6.9.6 5.9.6-9.3.6 11.1.6-8.4.6 8.9.6-11 .6 10 .6-7.8.6 7.9.6-6.2.6 7.3.6-9.4.6 9.4.6-8.6.6 8.8.6-10.1.6 8.6.6-10.1.6 9.9.6-9 .6 9.5.6-9 .6 9.5.6-5.8.6 7.3.6-11 .6 12.5.6-12.9.6 13.2.6-9.1.6 6.6.6-6.6.6 8.6.6-10.3.6 10.4.6-11.4.6 12.8.6-12.4.4 12 .2-11 .6 7.1.6-9.1.6 8.7.6-4.8.6 8.7.6-9.7.6 8.6.6-7.5.6 5.4.6-8.7.6 7.5.6-7.1.6 11.2.6-9.9.6 8.4.6-11.5.6 10.6.6-10.9.6 11.2.6-7.8.6 5.2.6-7.5.6 11.4.6-9.7.6 8.1.6-7.8.6 9 .6-10.5.6 8.7.6-9.7.6 7.7.6-8.3.6 11.3.6-12.2.6 9.3.6-6.6.6 6 .6-9 .6 10.4.6-7.9.6 8.4.6-9.7.6 8.6.6-7.5.6 9 .6-11.6.6 9.1.6-5.9.6 8.6.6-11.8.6 10.6.6-8.9.6 10.6.6-10.9.6 6.9.6-5.7.6 6 .6-9 .6 8.6.6-10.3.6 11 .6-10 .6 9.1.6-10.6.6 9.3.6-9.9.6 8 .6-9.2.5 10.1.1-9 .6 8.3.6-9.6.6 9.2.6-8.8.6 6 .6-9 .6 8.6.4-8.7.2 6.6.6-5.6.6 7.9.6-9 .6 7.1.6-4.1.6 6.3.5-9.2.1 10.7.6-8.2.6 8.6.6-8.2.6 11.5.6-10.7.6 7.5.6-5.6.6 8.4.6-6.3.6 8.3.4-9 .2 6.7.6-8.5.6 9.4.6-9.1.6 10.1.6-10.4.6 7.8.6-6 .6 6.7.6-8.5.6 8.2.6-8.2.6 5.4.6-4.3.6 4.5.6-5.2.6 8.2.6-11.2.6 7.5.6-8.7.6 9.7.6-7.4.6 7.7.6-8.8.6 9.6.6-9.2.6 6 .6-6.7.6 9.2.6-12 .6 10.4.6-7.4.6 6.4.6-9.6.6 7.6.6-8.9.6 12 .6-12.3.6 11.4.6-10.6.3 11.5.3-10 .6 6.5.6-6.3.6 4.9.6-9.1.6 7.6.6-8.2.6 8.7.6-10.6.6 11 .6-11.2.6 10.6.6-8.2.6 4.7.6-6.9.6 7.3.6-7.8.6 12.5.6-10.5.6 12.7.6-10.3.6 9.5.6-7 .6 10.8.6-10.5.6 10.4.6-6.5.6 9.6.6-6.7.2 9.6.4-8.7.6 6.6.6-10 .6 6.6.6-8.5.6 7.9.6-11.3.3 12 .3-11.4.6 9.8.6-13.4.6 7.8.6-9.5.6 10.6.6-13.3.1 11.8.5-8.6.6 7.9.6-6.8.6 8.7.6-7.5.6 11 .6-9.5.6 10.4.6-7 .6 9.3.6-11 .6 8.7.6-8.2.6 8.6.6-8.8.6 9.2.6-7.3.6 10 .6-12.4.6 11.3.6-8.7.6 6 .6-8 .6 10.8.6-10.8.6 8.1.6-7.9.6 9.9.6-7.9.6 8.4.6-8.5.6 9.1.6-10.3.6 11.9.6-8.9.6 7.1.5-10.8.1 11.6.6-9.1.6 10.5.6-7.5.6 8 .6-10.2.6 9.9.6-7.8.6 8.2.6-6.9.6 7 .6-7.4.6 9.6.6-11.5.6 9.8.6-9.1.6 9.6.6-7.6.6 7.4.6-8.2.6 11.2.6-10.3.6 8 .6-7.6.6 7.8.6-6 .6 9.2.6-5.9.6 6.3.5-9.6.1 10 .6-11 .6 6 .6-12.1.6 6.5.6-12.6.6 3.1.6-11.6.1 8.1.5-9.5.6 3.4.6-12.8.6 1.8.6-15.1.6 5.5.2-9.8.4 13.8.6-3.4.6 17.4.6-1.7.6 15.6.6 0 .5 16.3.1-12.8.6 6.2.6-6.4.6 4 .6-10.3.6 6.5.6-7.4.6 6.2.6-9.5.6 7.3.6-12.1.6 8.4.6-13.1.3 7.6.3-9.7.6 5.9.6-10.2.6 1.6.6-10.7.6 6.1.2-8.8.4 5.8.6-13.1.6 2.2.6-10.6.6 1.3.2-10.9.4 12.4.6-3.1.6 9.3.6-3.8.6 11.8.6-5.2.1 8.5.5-4.8.6 14.1.6-6.6.6 12.6.6-2.2.6 8.9.5-4.4.1 7.1.6-3 .6 9.3.6-9.7.6 12.6.6-10.3.6 11.6.6-9 .6 12.1.1-9.4.5 8.9.6-4.6.6 5.1.6-4.5.6 7.9.6-5.8.6 9.5.6-9.8.1 9.7.5-10.9.6 8.6.6-8.7.6 12.1.6-8.9.6 5.3.6-8 .6 11.4.6-11 .6 9.2.6-8.1.6 7 .6-5.1.6 6.8.4-8.7.2 6.8.6-10.1.6 6.2.6-9.9.6 7.5.6-9.9.3 10 .3-12.3.6 8.5.6-10.2.6 6.6.6-10.2.3 7.1.3-7.9.6 10.9.6-5.6.6 9.1.6-8.6.6 6.4.6-4.6.6 5.9.6-4.4.6 8.6.6-10.6.2 11.2.4-10.3.6 11.4.6-10.4.6 9 .6-6.1.6 5.9.6-6.5.6 7.5.6-7.8.6 8.8.6-7.6.6 8.5.6-8.9.6 7.4.6-5.4.6 8.1.6-7.7.6 8.1.6-10.4.6 10.2.6-9.4.6 10.9.6-10 .6 10.4.6-9.4.6 10.1.6-7.7.6 6.9.6-8.5.6 8.2.6-8.4.6 11 .6-11.1.6 11.1.6-7.6.6 7.7.1-9.4.5 10.8.6-7.9.6 4.6.6-8.4.6 9.3.6-8.3.6 9.3.6-8.1.6 7.3.6-8 .6 10.4.6-10.3.6 9.5.6-8.5.6 8.2.6-9.2.6 9.7.6-10.7.6 7.9.6-8.1.6 10.8.6-7.7.6 6.7.6-6.2.6 5 .6-8.1.6 10.4.6-10.5.6 8.6.6-4.9.6 5.8.6-7.2.6 9 .6-8.2.6 8.2.6-9.5.6 7.8.6-8.2.6 7.3.6-6.8.6 7.4.6-4.6.6 6.1.6-8.2.6 8.5.6-7.9.6 9.4.6-11.3.6 8.1.6-4.5.6 8 .6-9.5.6 6.2.6-4.9.6 7.8.6-7.5.6 6.1.6-8.4.6 8.3.6-8.2.6 10.8.6-11.4.6 9.8.6-9.1.6 7.8.6-7.9.6 9.4.6-8.8.6 8.5.6-9 .6 7.9.6-7.6.4 11.3.2-8.3.6 4.8.6-9.4.6 8.1.6-7.9.6 9.8.6-6.9.6 6.6.6-7 .6 7.2.6-8.9.6 8.8.6-12 .6 7.9.6-6.1.6 5.8.6-7.7.6 7.3.6-4.7.6 4.5.6-8.1.6 8.4.6-6.4.6 6.9.6-8.2.6 7.8.6-9.7.6 9.4.6-7.4.6 9.6.6-8.6.6 5.2.6-8.3.6 8.3.6-9.3.6 11.1.3-9.1.3 7.2.6-5.2.6 8.7.6-9 .6 7.8.6-5.7.6 6 .6-8.1.6 8.7.6-6.1.6 9.5.6-8.2.6 8.8.6-7.1.6 6.7.6-7.5.6 11.8.6-9.6.5 7.7.1-8.7.6 8.3.6-5.5.6 6.9.6-10.5.6 9.7.6-7.2.6 7.9.6-9 .6 5.4.6-9.9.6 11.1.6-11 .6 7.1.6-7.9.6 8.7.6-5.6.6 7.1.6-11.6.6 7.7.6-6 .6 9.6.6-9.3.6 5.9.6-8.9.6 9 .6-10.3.6 11.6.6-11.9.6 10.5.6-7.9.6 7.5.6-9.6.6 8.3.6-8.7.6 7.4.6-6.5.6 8.6.6-9.6.6 5.5.6-8.9.6 9.9.6-9.3.6 8.1.6-6.1.6 5.6.6-9 .3 8.3.3-8.8.6 9.5.6-8.7.6 8.7.6-6 .6 6.8.6-4.4.6 7.3.6-7.2.6 8.2.6-6.6.6 6.2.6-6.1.6 9.6.6-7.3.3 6.1.3-9.5.6 9.6.6-7.8.6 8.8.6-9.1.6 4 .6-4.7.6 5.2.6-9.8.6 8.1.6-7 .6 7.9.6-8.2.5 3.5.1-6.7.6 6.2.6-6.9.6 6.3.6-7.6.6 9.5.6-9.8.3 6.4.3-7 .6 10.3.6-6.1.6 6.2.6-5.4.6 8.4.6-6 .6 8.7.6-6.7.2 9.1.4-9.7.6 6 .6-5.2.6 4.5.6-5.4.6 8.3.6-9.8.6 7.4.6-10.2.6 12 .6-11.5.6 7.8.6-6.3.6 7.3.6-7.3.6 6.4.6-6.5.6 5.2.6-8.3.6 9.5.6-8.4.6 7.7.6-10 .6 8.1.6-8.1.6 6.5.6-10.9.6 5.7.6-10.9.6 9.8.4-9.6.2 4.8.6-8.1.6 5.6.6-9.2.6 3.9.6-8.5.6 5.4.6-10 .1 9.2.5-5.5.6 10.7.6-6.8.6 8.4.6-3.1.6 7.3.6-3.6.4 11.1.2-11 .6 12.9.6-5.3.6 7.8.6-3.2.6 8.6.6-5.7.1 7 .5-5.6.6 8.4.6-8 .6 10.6.6-8.6.6 8.4.6-7.1.6 7.6.6-8 .6 7.5.6-5.4.6 6.8.6-8.1.6 4.3.6-10.2.6 7.3.6-7.9.6 4.1.6-9.2.3 6.9.3-7.6.6 5.5.6-7.5.6 5.7.6-9.8.6 5.7.3-7.5.3 8.3.6-7.9.6 13.8.6-6.8.6 8.9.6-6.8.6 7.4.6-6.1.6 13.3.6-9.1.6 11.9.6-8.8.5 12 .1-9.1.6 9.5.6-10.4.6 11 .6-9.1.6 5.8.6-7.2.6 8.7.6-7.7.6 9 .6-11.3.6 10.6.6-9 .6 9.1.6-7.8.6 8.1.6-7.8.6 8.4.6-10.6.6 7.5.6-5.8.6 7.2.6-8.8.6 8.9.6-7.3.6 7.9.6-9.5.6 7.5.1-8.9.5 9.4.6-8.7.6 6.4.6-7.4.6 5.6.6-5.5.6 8 .6-8.6.6 4.1.6-8.4.6 8.5.1-7.8.5 9.3.6-8.9.6 9 .6-8 .6 7.8.6-7.1.6 9.3.6-7.2.6 8.6.6-7.9.5 9.4.1-7.9.6 7.6.6-8.8.6 10.7.6-8 .6 8 .6-11.4.6 8.6.6-5.7.6 8.5.6-12.4.6 8.2.6-7.9.6 11 .6-9.1.6 8.4.6-8.3.6 8.4.6-9.3.6 7.7.6-6.4.6 7.1.6-9.9.6 8.1.6-5.4.6 4.2.6-5.2.6 9.4.6-11.3.5 11 .1-11.4.6 6.1.6-7.9.6 7.8.6-13.4.6 9.9.6-13.7.6 8.9.6-12 .6 9.4.6-11.2.4 4.5.2-6.2.6 2.6.6-7.9.6 4.9.6-10.3.6 3.2.6-8 .6 3.1.6-10.5.6 6 .6-13.5.3 6.9.3-3.9.6 8 .6-5.6.6 13.6.6-6.8.6 13.2.6-4.7.6 10.8.6-6.3.6 10.8.6-5.5.2 9.7.4-7.4.6 8 .6-4.5.6 9.5.6-7.2.6 7.8.6-4.2.6 9.6.1-7.5.5 8.7.6-8.9.6 11.3.6-9 .6 9.4.6-8 .5 12.6.1-10.5.6 4 .6-6.3.6 5.2.6-12.7.6 8.4.6-11.4.6 6 .6-8.8.5 4.9.1-12.2.6-1.3.6-17.2.6-.3.6-20.2.6-2.2.1-7.9.5 1.5.6-18.6.6 4 .6-16.7.3 4.8.3-6 .6 17.9.6 .6.6 18.1.6 2.9.6 14 .2-3.8.4 13.5.6-2.1.6 9.2.6-.6.6 10.9.6-3 .6 12.8.6-2.4.2 10.4.4-7.1.6 10.3.6-8.1.6 9.1.6-7.8.6 9.8.1-6.2.5 9.3.6-10.5.6 10.1.6-7.5.6 9.4.6-7.2.6 6.1.6-5.5.3 10.4.3-7.9.6 8.4.6-9.4.6 9.9.6-11.5.6 8.4.6-5.9.6 8.5.6-12.2.6 11.4.6-9.8.6 8.6.6-9.5.6 10.6.6-10.9.6 8.9.6-8.7.6 11.4.6-10.2.6 6.1.6-4.5.6 7.3.6-8.5.6 9.7.6-10.6.6 9.7.6-7.4.6 6.9.6-9.2.6 11 .6-11.7.6 8.9.6-7.3.6 10.3.6-8.6.6 4.5.6-5 .6 7.8.6-8.5.6 8.1.3-10.5.3 10.8.6-7.6.6 6.7.6-10.8.6 10.3.6-10.9.6 10.8.6-10.6.6 9.7.6-10.2.6 6.3.6-6.2.6 9 .6-9.6.6 7.2.6-9.8.6 10.3.6-10.3.6 9.2.6-8.6.6 5.7.6-5.5.6 4.7.6-7.3.6 8.1.5-6.7.1 6.8.6-7 .6 5.6.6-5.5.6 5.6.6-7 .6 8.1.6-9.4.6 8.7.6-9.5.6 6.9.6-8.9.6 8.6.6-7.4.6 8.4.6-11.2.6 11 .1-7.4.5 6.2.6-9.8.6 12.1.6-8.8.6 6.5.6-5.3.6 9 .6-7.5.6 9 .6-8.9.6 8.7.6-9.9.6 8.7.6-7.1.6 9.2.6-7.6.2 7.9.4-9 .6 11.7.6-9.2.6 6.4.6-6.5.6 10 .6-8.7.6 11.1.6-8.4.6 7.7.6-7.8.6 7.5.6-6.6.6 9.2.5-7.7.1 9.1.6-12.4.6 13.2.6-9.5.6 7 .6-10.3.6 9.1.6-4.6.6 5.1.6-8.8.6 10.8.6-8.6.6 6.4.6-9 .6 13.1.6-11.9.6 11.4.6-10.9.6 7.9.6-6.2.6 6.5.6-6.4.6 6.4.6-5.7.6 4.3.6-8.3.6 12.1.6-11.9.6 9.8.6-7.8.6 8.7.6-10.2.6 9.1.6-7.8.6 9.1.6-10.7.6 9.7.6-5.9.6 5.9.6-10 .6 9.1.6-7.7.6 7.5.6-5.8.6 8.2.6-7.3.6 6.6.6-9.1.6 8.4.6-9.4.6 11.3.6-9.3.6 9.1.6-11.2.6 10.7.6-9.6.6 9.4.6-10.2.6 11.1.6-8.7.6 8.7.6-10.7.6 9.6.6-10.3.6 9.9.6-8.2.6 9.6.6-9.7.6 7.9.6-8 .6 7.8.6-7.3.6 8.7.6-9.4.6 11.4.6-13 .6 9.8.6-9.3.6 10.8.6-8.9.1 6.5" stroke-width="3.5" stroke-opacity="0.5"/>
<path d="M68.3,1671.6l.5-5.2.5 5.2.5-5.1.5 5.7.5-6 .5 5.3.5-5.1.5 4.7.5-4 .5 4.6.5-4.7.5 5.7.5-5.7.5 5.6.5-7.1.5 6.3.5-5.7.5 7.1.5-6.7.5 4.9.5-4.5.5 5.8.5-5.7.5 4.2.5-4.5.5 4.4.5-5.9.5 6.1.5-4.9.5 5.7.5-6.5.5 6.2.5-4.1.5 5.9.5-7.5.5 6.7.5-6.3.5 4.6.5-4.3.5 4.7.5-5.4.5 4.6.5-5 .5 6.7.5-5 .5 5.3.5-6.6.5 6.8.5-6.2.5 6.2.5-6 .5 5.8.5-6.1.5 4.8.5-3.8.5 4.4.5-4.8.5 5 .5-5.3.5 6.2.5-5.6.5 4.9.5-5.3.5 6.4.5-7.1.5 6.4.5-6.8.5 5.8.5-4.3.5 3.5.5-4 .5 3.6.5-4.6.5 6.7.5-5.8.5 5.3.5-6.7.5 7.1.5-5.1.5 5 .5-5.3.5 4.3.5-3.9.5 4.8.5-6.6.5 5.5.5-4.1.5 4.8.5-4.2.5 4.2.5-5.9.5 6.1.5-4.5.5 3.9.5-4.2.5 5.3.5-6.5.5 6.1.5-4.5.5 4.1.5-4.8.5 4.7.5-3.7.5 4.4.5-6.2.5 5.5.5-5.9.5 7 .5-6.2.5 4.6.5-4.5.5 5.4.5-6.4.5 7.1.5-6 .5 4.7.5-4.3.5 4.3.5-4.9.5 4.3.5-4.1.5 5.9.5-5.9.5 5 .5-5.8.5 5.8.5-5.7.5 5.9.5-5.7.5 4.3.5-5.1.5 6.5.5-6.5.5 5.7.5-4.8.5 6.4.5-6.5.5 5.1.5-4.2.5 4.4.5-5.7.5 5.6.5-5.4.5 4.7.5-4.8.5 5.5.5-6.4.5 5.6.5-4.9.5 5.7.5-4.7.5 5.7.5-5 .5 5.2.5-5.2.5 5.9.5-6.8.5 5.2.5-5.1.5 6.1.5-7.3.5 6.5.5-6.2.5 6.3.5-7.1.5 6.8.5-5.8.5 6.5.5-6.3.5 4.9.5-5.3.5 5.8.5-5.8.5 6.5.5-6.9.5 5.8.5-3.7.5 6 .5-7.4.5 7.1.5-7.3.5 7 .5-6 .5 4.2.5-5.5.5 6.7.5-5.5.5 5.7.5-5.9.5 4.5.5-4.8.5 4.8.5-4.2.5 3.7.5-3.4.5 3.9.5-5.3.5 6.5.5-6.7.5 6.3.5-5.8.5 5.4.5-5.4.5 6.4.5-4.5.5 4.5.5-4.8.5 5.1.5-6 .5 4.2.5-4 .5 4 .5-5.5.5 6.3.5-5.8.5 6.5.5-5.8.5 5.9.5-6.4.5 4.7.5-5.8.5 6.3.5-5.8.5 5.8.5-6.5.5 6.1.5-3.8.5 3.9.5-4.3.5 6.3.5-6 .5 6.7.5-5.6.5 5.5.5-6.1.5 5.4.5-5.7.5 4.8.5-6 .5 6.6.5-6 .5 6.1.5-5.5.5 5.5.5-6.2.5 5.3.5-6.4.5 5.8.5-5.1.5 6.5.5-5.2.5 4.3.5-4.5.5 4.6.5-5.4.5 5.5.5-4.6.5 4.9.5-7 .5 6.4.5-5.4.5 5.1.5-6.3.5 6.4.5-5.7.5 5 .5-5.3.5 7.4.5-6.1.5 4.5.5-5.6.5 6.8.5-6.8.5 5.5.5-3.7.5 5.5.5-6 .5 6.3.5-6.5.5 6.3.5-5.6.5 5.7.5-6.4.5 4.5.5-3.5.5 4 .5-4.6.5 6.2.5-7.4.5 7.7.5-6.4.5 5.6.5-6.8.5 6.7.5-7.4.5 7.3.5-6.9.5 5.9.5-4.4.5 4.8.5-4.8.5 5.9.5-5.3.5 4.2.5-5.9.5 4.9.5-3.8.5 3.4.5-3.8.5 3.6.5-5.4.5 5.7.5-4.2.5 4.7.5-5.5.5 4.3.5-3.5.5 4.3.5-4.8.5 4.6.5-4.7.5 5.4.5-6.4.5 6.4.5-5.5.5 4.4.5-4.1.5 5 .5-6.3.5 7.6.5-5.8.5 5.3.5-6.4.5 7.1.5-7.3.5 6.4.5-5 .5 4.1.5-5.9.5 7.3.5-7.5.5 5.9.5-5.9.5 7.2.5-5.5.5 4.8.5-4.8.5 5.8.5-4.4.5 3.7.5-5.6.5 6 .5-5.2.5 5.4.5-6 .5 6 .5-5.8.5 4.6.5-3.7.5 4.4.5-4.9.5 6.1.5-6.6.5 4.5.5-5.7.5 6.1.5-4.9.5 5.7.5-5.9.5 5.6.5-4.7.5 4.4.5-5.5.2 7 .3-7.2.5 5.4.5-5.5.5 5.5.5-4.8.5 3.8.5-5.8.5 6.3.5-6.7.5 5.1.5-5.4.5 6 .5-5.9.5 4 .5-6.1.5 5.8.5-5.4.5 6.4.5-7.1.5 5.5.2-4.6.3 4.8.5-4.1.5 4.6.5-5 .5 4.4.5-5.7.5 5.3.5-3.8.5 3.8.5-4.9.5 5 .5-4.7.5 5 .5-6.1.5 7.1.5-5.6.5 4.2.5-3.8.5 4.2.5-5.3.5 5.5.5-5.2.5 5.1.5-5.9.5 6.8.5-6.8.5 6.6.5-6.8.5 6.4.5-5 .5 4.1.5-5.6.5 6.7.5-6.3.5 6.5.5-6.2.5 5.8.5-4.6.5 4.1.5-5.5.5 6.2.5-6.1.5 4.7.5-4.8.5 5.4.5-4.1.5 5.5.5-6.9.5 6.9.5-5.9.5 5.9.5-7 .5 5.4.5-5.9.5 6.8.5-5.2.5 4 .5-4 .5 5 .5-5 .5 4.1.5-3.7.5 4.4.5-4.9.5 5.7.5-5 .5 5.2.5-6.4.5 5.7.5-6.3.5 6.6.5-6.1.5 5.2.5-4.3.5 5.7.5-6 .5 4.4.5-4.7.5 5.4.5-4.8.5 4.3.5-5.7.5 7.2.5-6.3.5 6.1.5-6.4.5 4.8.5-5.1.5 4.6.5-4.7.5 5.9.5-5.1.5 4.8.5-4.7.5 5.2.5-6.9.5 7.2.5-5.2.5 4.9.5-6 .5 6.2.5-5.9.5 4.2.5-4.5.5 4.6.5-5.8.5 7.4.5-6.5.5 6.2.5-6.3.5 4.9.5-4.6.5 5.6.5-5.5.5 5.8.5-6 .5 5.3.5-4.9.5 6.1.5-5.9.5 4.6.5-4.9.5 6.3.5-7.2.5 6.7.5-5.5.5 5.1.5-6.2.5 5.3.5-5.2.5 4.8.5-5.7.5 7 .5-6.3.5 6.9.5-7 .5 5.7.5-5.3.5 4.9.5-5.3.5 5.9.5-5.6.5 6.6.5-5.9.5 4.3.5-5.7.5 5.7.5-6.2.5 7.4.5-5.8.5 4.9.5-6.9.5 7 .5-6.2.5 5.6.5-4.5.5 6 .5-4.8.5 5.2.5-5.7.5 4.7.5-6.3.5 6 .5-5.1.5 6.2.5-6.2.5 6.2.5-6.5.5 5.8.5-5.1.5 5.5.5-6 .5 5.5.5-6.2.5 6.7.5-4.5.5 4.1.5-4.3.5 3.3.5-5.6.5 6.6.5-6.6.5 6.4.5-5.7.5 5.7.5-5.3.5 5.7.5-6.3.5 5.8.5-5.2.5 4.8.5-4.8.5 6 .5-7.6.2 5.8.3-4.7.5 4.6.5-6.3.5 5.4.5-6.2.5 5.8.5-4.9.5 5.1.5-7.2.5 5 .5-6.2.5 4.9.5-5.9.5 6.2.5-6.4.5 4.8.2-5.4.3 5.2.5-6.2.5 6.2.5-6.5.5 4.8.5-3.9.5 4 .5-4.9.5 4.3.5-5.8.2 6.2.3-5.2.5 5.4.5-4.8.5 6 .5-6.3.5 6.9.5-5.3.5 5.6.5-5.3.5 7.2.2-5.7.3 4.2.5-5.4.5 7.2.5-5.7.5 4.8.5-3.7.5 4.7.5-5.6.5 6.7.5-5 .5 4.8.5-3.9.5 5 .5-4.5.5 4.3.5-4.8.5 5.2.5-3.9.5 3.8.5-5 .2 6.5.3-4.9.5 5.8.5-7.3.5 5.8.5-5.5.5 5.3.5-3.6.5 4.2.5-4.9.5 6.3.5-5.3.5 5.1.5-6.3.5 5.4.5-3.4.5 5.6.5-5.2.5 4 .5-4.2.5 5.1.5-4.6.5 3.3.5-5 .5 6.5.5-5.3.5 4.9.5-5.1.5 5.2.5-6.4.5 6.5.5-5.2.5 5.1.5-6.5.5 7 .5-5.6.5 6.4.5-5.7.5 4.6.5-6.3.5 7 .5-5.5.5 4.7.5-5.3.5 5.6.5-6 .5 6.7.5-6.7.5 5.1.5-4.4.5 5.1.5-4.5.5 5.2.5-4.9.5 5 .5-4.5.5 4.3.5-5.5.5 4.9.5-5 .5 6.6.2-7.4.3 7.3.5-6.2.5 5.9.5-5.7.5 6.4.5-6.3.5 4.5.5-5.4.5 5.9.5-5.9.5 7.6.5-5.8.5 4.6.5-5.6.5 7.2.5-6.3.5 4.9.5-4.8.5 6.7.5-6.1.5 5.7.5-6.8.5 6.5.5-5.3.5 5.5.5-5.2.5 5.6.5-5.7.5 5.7.5-6.4.5 4.9.5-5.9.5 7.4.5-5.4.5 4.3.5-6 .5 5.8.5-5.1.5 5.4.5-5.2.5 5 .5-4.4.5 4.5.5-6.5.5 6.1.5-5.3.5 5.3.5-5.4.5 5.4.5-4.1.5 4.2.5-5.3.5 6 .5-5.8.5 6.1.5-6.1.5 6 .5-4 .5 4.8.5-6.3.5 6 .5-6.3.5 5.9.5-6.2.5 6.3.5-6.1.5 6.9.5-7.7.5 6.8.5-6.6.5 5.9.5-5.6.5 6 .5-6.1.5 4.7.5-6.1.5 6.6.5-7.3.5 6.2.5-5.5.5 4.8.5-6.9.5 5.9.5-5.2.5 4.8.5-7.4.4 6.4.1-6.4.5 5.3.5-5.1.5 4.5.5-6.8.5 5.2.5-5.8.5 5.1.5-6.2.5 3.8.5-7.1.5 6.2.5-4.7.5 5.2.5-6.6.5 7.6.5-5.4.5 4.1.5-4.1.5 5.6.5-4.4.5 4.4.5-4 .5 2.9.5-6.2.5 5.4.5-5.9.5 3.9.5-5.5.5 3 .5-6.5.5 4.6.2-4.6.3 5.9.5-4.1.5 5.8.5-4 .5 6.4.5-4.9.5 6.2.5-3.6.5 5.5.5-3.8.5 6.1.3-4.8.2 5.1.5-7.6.5 4.5.5-6.7.5 3.3.5-6.3.5 4.3.5-6.9.5 5.1.4-6.6.1 4.3.5-8.1.5 4.3.5-7.1.5 4.7.5-8.3.5 4.1.5-5.8.5 3.8.5-4.1.5 8.1.5-3.6.5 6.6.5-2.4.5 6.5.5-3.3.5 8.5.5-4.1.5 7.9.2-5.1.3 4.2.5-6.4.5 3.8.5-5.8.5 3.1.5-5.1.5 4.8.5-7.9.3 5 .2-4.8.5 6.1.5-3.7.5 4.3.5-4.3.5 5.4.5-4.4.5 7.5.5-4.6.5 4.5.5-2.8.5 4.2.5-4.1.5 7 .4-5.7.1 6.1.5-7.2.5 4.7.5-6.4.5 5.1.5-6.4.5 2.7.5-4.3.5 3.2.5-6 .5 3.3.5-5.8.5 3.9.4-6 .1 3.8.5-10 .5 1.4.5-9.5.5 1.9.5-8.9.5-.1.5-10.1.5 1.9.5-8.8.5 .7.4-8.4.1 4.1.5-7.5.5 3.1.5-6.9.5 3.9.5-5 .5 2.1.5-5.5.5 3 .5-6.9.5 3.9.5-7.3.5 4.3.5-4.4.5 6 .5-7.1.5 5.7.5-5.9.5 5.5.5-6.8.5 5 .5-4.4.5 6 .1-6.6.4 2.5.5-10.8.5 .1.5-9.6.5 .7.5-9.4.5-1.3.5-8.9.5-.2.2-6.4.3 1.9.5-10.9.5 1.3.5-10.8.5 .6.5-10.7.5 .8.5-11.1.3 1.8.2-2.5.5 13.4.5-.4.5 12.6.5 2.1.5 12.5.5-.2.5 11.7.5 2 .5 11.9.5 1.9.5 8.8.5-2.4.5 8.4.5-2.3.5 7 .5-.7.5 6.9.5-1.8.5 8.8.5-1.4.5 8.2.5-2.2.5 7.7.5-1.5.5 7.7.5-5 .5 7.8.5-4.9.5 7.7.5-5.2.5 6.4.5-3.7.5 6.7.5-4 .5 6 .5-3.1.5 6.7.5-4.7.5 4.6.5-6.9.5 3.1.5-5.6.5 3.4.5-5.7.5 3.7.5-5.8.5 4.5.5-5.7.5 3 .5-5.2.5 3.2.5-9.4.5 .5.5-8.5.5 0 .5-9.5.5 2.7.5-11 .2 4.9.3-2.5.5 8.6.5-.6.5 8.8.5-.9.5 10.1.5-2.3.5 9.5.5-.8.3 9.1.2-4.9.5 8.2.5-1.8.5 7.9.5-.5.5 7 .5-.6.5 7.9.5-2.4.5 8.5.5-.5.4 6.7.1-4.3.5 5.8.5-5 .5 6.3.5-4.1.5 5.3.5-3.3.5 6.5.5-5.5.5 8.4.5-6 .5 6.1.5-2.7.4 6.1.1-7 .5 7.3.5-6.6.5 4.8.5-4.4.5 4.8.5-5.1.5 5.5.5-4.8.5 6 .5-6.1.5 7.1.5-5.8.5 6.3.5-5.3.5 5.4.5-5 .5 4.9.5-5.3.5 5.1.5-4.4.5 6.2.5-6.6.5 5.7.5-4.2.5 4.6.5-5.5.5 7 .5-5.4.5 5.9.5-5.8.5 5.1.5-5 .5 6.1.2-6.2.3 5.8.5-5.8.5 6.6.5-5 .5 4.3.5-4.1.5 5.3.5-6 .5 6 .5-6 .5 4.6.5-3.5.5 5 .5-4.8.5 3.6.5-5.1.5 6.6.5-6.2.5 6.1.5-7.3.5 6.2.5-5 .5 4.9.5-5.8.5 7.1.5-6.5.5 5.2.5-4.3.5 3.6.5-4.8.5 6.4.5-5.3.5 4.1.5-4.4.5 6.4.5-6.8.5 5 .5-5 .5 4.6.5-5.2.5 6.5.5-5.6.5 5.3.5-5.3.5 5.3.5-5.3.5 5.9.5-6.5.5 6.4.5-6.1.5 5.8.5-6.3.5 6.2.5-6.2.5 6.1.5-5.8.5 5.6.5-4.3.5 3.5.5-5.4.5 6.1.5-4.9.5 5.6.5-5.3.5 4 .5-5.3.5 5.8.5-5.6.5 4.5.5-4.8.5 5.2.5-4.2.5 5.1.5-5.9.5 5.9.5-4.2.5 4.6.5-5.1.5 5.4.5-5.7.5 6.1.5-5.8.5 6 .5-5.8.5 4.6.5-4.7.5 5.2.5-4.4.5 5.1.5-6.3.5 5.6.5-5.9.5 6.6.2-5.5.3 3.7.5-4.5.5 5.6.5-6.2.5 5 .5-6.1.5 6 .5-6.4.5 5.8.5-6 .5 4.8.5-5.9.5 6.6.5-5.9.5 4.6.5-4.4.5 3.1.5-4.9.2 6.5.3-6.2.5 6 .5-4.3.5 3.9.5-4.2.5 4.9.5-4.5.5 5.4.2-5.6.3 5.5.5-4.5.5 4.6.5-4.4.5 5.2.5-4.9.5 4.1.5-5.8.5 7 .5-7.2.5 6 .5-5.5.5 5.4.5-5.7.5 6.1.5-6 .5 5 .5-5.2.5 5.8.5-4.5.5 4.4.5-3.6.5 4.8.5-6.2.5 5.9.5-6 .5 4.6.5-3.7.5 4.5.5-6.6.5 6.6.5-5.6.5 6.9.5-5.8.5 4.2.5-3.4.5 3.3.5-3.8.5 3.9.5-5.4.5 7.2.5-6.3.5 4.6.5-3.9.5 6.1.5-7.1.5 5 .5-3.6.5 4 .5-5 .5 4.2.5-4.7.5 5.4.5-4.3.5 4.6.5-5.3.5 5.6.5-4.3.5 4.5.5-5.5.5 6.8.5-6 .5 5.8.5-6.1.5 5.2.5-5.6.5 6.1.5-5.6.5 4.8.5-4.7.5 5.3.5-5.6.2 4.9.3-5.1.5 4.8.5-3.5.5 5.5.5-5.2.5 4.7.5-5 .5 5.3.5-6 .5 6 .5-6.3.5 5.1.5-4.3.5 5 .5-5.3.5 4.5.5-4.5.5 6.2.5-4.7.5 3.7.5-3.4.5 5.2.5-6.4.5 4.3.5-5.1.5 6.3.5-6.6.5 5.7.5-5.5.5 6.5.5-5.6.5 5.7.5-5 .5 4.9.5-5.5.5 5.2.5-6.6.5 5.9.5-5.7.5 6.8.5-6.8.5 7.3.5-6.9.5 7.1.5-6 .5 4.2.5-4.5.5 5.2.5-5 .5 6 .5-7.1.5 5.7.5-3.7.5 4.9.5-6.6.5 5.6.5-4.9.5 6.4.5-5.7.5 4.1.5-4.3.5 5.7.5-6.3.5 5.5.5-4.6.5 5 .5-4.8.5 3.8.5-5.2.5 6.2.5-6.2.5 5.3.5-5.4.5 6.7.5-5.9.5 5.5.5-4.4.5 4 .5-3.9.5 5.2.5-5.8.5 6 .5-5.1.5 4.3.5-4 .5 5.2.5-5.2.5 5.2.5-6.9.5 6.7.5-5.3.5 3.8.5-4.2.5 4 .5-4.6.5 5 .5-4.5.5 6 .5-5.3.5 4 .5-4.4.5 4.3.5-4.5.5 5.2.5-5.7.5 6.5.5-6.5.5 5.4.5-4.3.5 4.7.5-4.9.5 6 .5-5 .5 4.8.5-6 .5 5.7.5-6.1.5 5.1.5-3.8.5 4.1.5-4.2.5 4.7.5-6.4.5 5.5.5-5.4.5 6.3.5-6.6.5 7.3.5-5.4.5 3.8.5-4.8.5 6.4.5-6 .5 5.1.5-4.6.5 4.8.5-4.5.5 5.3.5-6.4.5 6.5.5-6.7.5 6.7.5-5.6.5 6 .5-6.2.5 6.1.5-5.2.5 5.8.5-5.4.5 4.6.5-5.3.2 5.6.3-5.9.5 5.9.5-6.3.5 4.7.5-5.7.5 6.5.5-6.3.5 5.3.5-4.2.5 4.4.5-5.7.5 6 .5-6.1.5 3.9.5-5 .5 6.3.5-5.5.5 5.3.5-6.5.5 4.6.5-5.5.5 5.3.5-5 .5 6.3.5-6.2.5 6.4.5-6.6.5 7 .5-6.2.5 6 .5-6.6.5 4.8.5-5.9.5 4.9.5-4.9.5 5.2.5-4.5.5 3.8.5-5.1.2 5.9.3-5.9.5 3.5.5-4.1.5 4.2.5-6.1.5 4.8.5-6.7.5 4.6.2-4.8.3 4.2.5-5.3.5 3.5.5-6.2.5 5 .5-5.1.2 3.3.3-4.6.5 7.6.5-5 .5 5.8.5-4.1.5 5.5.5-3.8.5 4.4.3-3.2.2 4.1.5-4.7.5 5.1.5-5.7.5 4.3.5-5.5.5 4.1.5-5.6.5 5.2.5-4.1.5 5 .5-5.9.5 5.7.5-5.5.5 5.6.5-5.3.5 5.1.5-5.7.5 4.9.5-6.9.5 6 .5-6.1.5 6.4.5-5.9.5 7.2.5-5.8.5 6.7.5-5.2.5 3.6.5-4.1.5 4.6.5-4.1.5 4.1.5-4.3.5 6.9.5-5.4.5 4.3.5-4.8.5 7.2.5-6.5.5 5.3.5-3.8.5 5.8.5-5 .5 4.3.5-5.1.5 6.9.5-5.5.5 5.4.5-4.4.4 5.4.1-4.5.5 3.7.5-7.1.5 4.4.5-5.8.5 4.3.5-5.2.5 3.7.5-5 .5 3.5.2-4.8.3 2.9.5-6.3.5 4.8.5-6.3.5 3.9.5-7.9.5 4.4.3-5.2.2 5.3.5-2.8.5 4.8.5-4 .5 6.6.5-3.8.5 6.6.5-5 .2 5.7.3-4.7.5 8.1.5-4.9.5 7.8.5-4.8.5 6.6.3-4.5.2 4.4.5-3.8.5 4.9.5-5.9.5 6.7.5-5 .5 4.8.5-5.1.5 6.3.5-5.2.5 3.9.5-5.2.5 6.7.5-5.4.5 5.4.5-5.3.5 4.1.5-5.1.5 7.2.5-6.3.5 6.3.5-4.7.5 3.5.5-3.7.5 4.9.5-5.7.5 5 .5-4.9.5 5.9.5-5.1.5 5.3.5-5.5.5 5.8.5-4.1.5 4.8.5-4.4.4 3.9.1-3.9.5 4.5.5-6.7.5 4.7.5-6.7.5 3.9.5-4.7.5 4.8.5-7.1.5 3.7.5-4.4.5 3.3.5-6.6.5 4.9.4-6.4.1 5.5.5 0 .5 7.8.5-.6.5 9.9.5-2.2.5 8.6.5-.5.5 8 .5-5.6.5 5.3.5-6.6.5 6.3.5-6.4.5 3.5.5-6.4.5 4.8.5-5.8.5 4.4.5-6.4.5 4.6.5-5.7.5 6 .5-6.9.5 4.1.4-6.4.1 6.8.5-6.4.5 5.1.5-7 .5 5.4.5-4.8.5 4.2.5-6.1.5 5.4.5-6.9.5 5.4.5-5.8.5 5.6.5-5.7.5 4.4.5-5.8.5 3.5.5-4.2.5 5.1.5-6.2.5 4.9.5-6.4.5 4.5.1-4.5.4 3.6.5-4.7.5 4.8.5-4.2.5 4.9.5-5.5.5 6.1.5-5.6.5 5.6.5-6.4.5 4.7.5-3.6.5 3.4.5-4.9.5 6.1.5-6 .5 5.5.5-5.4.5 5.9.5-5.9.5 5.1.5-6.5.5 5.6.5-6.4.5 6.7.5-5.2.5 4.4.5-5.9.5 5.4.5-5.5.5 5.6.5-5 .5 4.2.5-3.8.5 4.4.5-5.9.5 5 .5-5 .5 5.9.5-5.8.5 5.6.5-5.3.5 4.5.5-5.2.5 6.4.5-6.5.5 4.9.5-4.4.5 4.4.5-5.6.1 5.9.4-5.3.5 6.1.5-4.9.5 6.3.5-5.9.5 5.9.5-5.7.5 6.8.5-4.5.5 4.1.5-4.3.5 5.3.5-5.5.5 6.5.5-5.9.5 6.1.5-3.5.5 5.7.5-5.8.5 5.4.5-4.4.5 5.5.5-3.9.5 4.5.5-5 .5 6.6.5-4.4.5 5 .5-4.5.5 5.2.5-4.3.5 5.1.5-3 .5 5.1.5-5.6.5 4.8.5-4.3.5 5.9.5-4.5.2 4.5.3-5.8.5 4.1.5-5.2.5 4.4.5-4.7.5 3.6.5-4.4.5 3.3.5-5 .5 4.4.5-7.4.5 4.7.5-6.3.5 4.3.2-4.5.3 4.5.5-5.8.5 2.6.5-4.9.5 3.3.5-6.2.5 4.7.5-7.4.5 4.5.5-6.1.5 3.2.2-5.2.3 7.5.5-3.8.5 7.9.5-3.6.5 6.9.5-.9.5 5.9.5-2.3.4 8.1.1-5.9.5 4.8.5-4.7.5 4 .5-6 .5 5.3.5-4.5.5 3.8.5-3.5.5 4.6.5-6.2.5 5.1.5-5.6.5 5.3.5-6.1.5 5.6.5-5.8.5 5.3.5-6.1.5 6.1.5-5.3.5 4.5.5-6.1.5 5.5.5-6 .5 6.5.5-5.4.5 5.4.5-5 .5 4.2.5-5.6.5 5 .5-5.8.5 6.7.5-5 .5 4 .5-6.7.5 5.5.5-5.3.5 5.5.5-5.4.5 4 .5-4.9.5 5.2.5-4.2.5 4.2.5-5.3.5 4.3.5-5.1.5 4.9.5-4.6.5 5.1.5-5.5.5 4.5.5-4.5.5 4.5.3-4.6.2 5 .5-6.3.5 5.6.5-3.9.5 5.8.5-5.7.5 4.5.5-5.3.5 4.2.5-3.8.5 4.9.5-4.3.5 3.3.5-4.3.5 6.2.5-5.1.5 4.3.5-5.1.5 4.8.5-4.2.5 5.5.5-6.2.5 6.6.5-5.4.5 4.7.5-5 .5 4.8.5-4.6.5 5.1.5-5.6.5 4.4.5-5.2.5 5.8.5-5.1.5 5.1.5-4.8.5 5.5.5-4.7.5 5.1.5-4.5.5 4.8.5-4.4.5 5.1.5-4.8.5 4.5.5-6.4.5 5.6.5-5.4.5 5.9.5-5.4.5 5.4.5-4.5.5 5 .5-4.5.5 3.6.5-4.5.2 4.4.3-3.6.5 3.5.5-5 .5 5 .5-4.9.5 5.5.5-5.3.5 4 .5-4.2.5 4.8.5-5.3.5 6 .5-6.2.5 6.3.5-5.3.5 5.3.5-5.1.5 4.9.5-5.9.5 4.5.5-4.5.5 5.7.5-5.9.5 4 .5-4.8.5 4.4.5-4.3.5 4.5.5-4.3.5 4.9.5-3.8.5 4 .5-4.7.5 5.1.5-4.6.5 3.5.5-5.5.5 5.2.5-5.1.5 4.7.5-4.3.5 5.1.5-5 .5 4.5.5-3.9.5 4.6.5-4.2.5 4.6.5-5.5.5 5.2.5-5.2.5 4 .5-4.9.5 5.9.5-5.6.5 4.7.5-5.5.5 4.7.5-4.5.5 4 .5-3.9.5 4.4.5-5.3.5 4.6.5-3.7.5 3.7.5-3.7.5 4.6.5-4.6.5 4.5.5-4.7.5 4.5.4-5.1.1 5.3.5-5.5.5 3.3.5-3.7.5 3.3.5-4.2.5 4.1.5-5.6.5 3.4.5-4 .5 3.9.2-4.9.3 4.3.5-4.7.5 4.5.5-5.3.5 3 .5-4.9.5 5.1.5-5.1.5 3.2.4-4.2.1 5 .5-4 .5 5.1.5-5.1.5 5.7.5-4.9.5 6.2.5-4.6.5 4.1.2-3.1.3 3.5.5-3.6.5 5.5.5-5.1.5 4.5.5-4.6.5 5.5.5-3.4.5 3.6.5-4.6.5 5.7.5-4.5.5 5.1.2-5.4.3 5.8.5-5.3.5 4.1.5-3.8.5 4.4.5-5 .5 4.7.5-6.1.5 4.4.5-4.8.5 6 .5-6 .5 5.2.5-4.7.5 4 .5-4.2.5 4.8.5-5.5.5 5.5.5-6.7.5 6 .5-5.6.5 4.2.5-4.9.5 5.2.5-4.6.5 3.8.5-4.3.5 4.6.5-5.8.5 5.9.5-6.3.5 4.7.5-5.1.5 4.4.5-4.1.5 4.7.5-5.2.5 5.3.5-5.1.5 4 .5-5 .5 5.5.5-5 .5 5 .5-5.3.5 4.9.5-5.8.1 5.3.4-4.2.5 3.5.5-4.9.5 4.3.5-3.8.5 2.6.5-4.8.5 3.9.5-4.8.5 5.6.5-6.4.5 4.4.5-4.4.5 3.7.5-5.4.5 5.4.5-4.2.5 3.5.4-4.7.1 4.4.5-4.2.5 6 .5-4.6.5 6.8.5-4.7.5 5.1.5-3.9.5 6.6.5-4.5.5 5.8.5-3.6.5 5.8.5-5.1.5 7 .5-5.1.4 5.3.1-3.8.5 4 .5-5.3.5 4.2.5-5 .5 4.4.5-5.8.5 2.9.5-5.4.2 4 .3-4.6.5 3.1.5-3.9.5 3 .5-4.3.5 2.1.5-5.1.5 5.1.2-5.3.3 4.7.5-3.9.5 6.2.5-5.1.5 5.6.5-2.8.5 5 .5-4.4.5 5.1.4-3.5.1 4.2.5-4.2.5 4.7.5-5.1.5 4.1.5-3.5.5 3.9.5-4.1.5 5.1.5-4.3.5 3.6.5-3.8.5 5.5.5-5 .5 3.8.5-3.5.5 3 .5-3.2.5 3.6.5-4.5.5 5 .5-5 .5 5.1.5-3.5.5 3.4.5-4.3.5 6 .5-5.9.5 5.9.5-4.7.5 3.9.5-5.1.5 4.3.5-3.4.5 3.6.2-4.5.3 5.5.5-5.5.5 6.1.5-5.3.5 5.6.5-5.1.5 6.1.5-5.5.5 5.7.5-3.9.5 4.8.5-5.3.5 5.9.5-4.4.5 4.4.5-3.6.5 3.2.5-3.6.5 4.5.5-3.5.5 4.2.5-4.4.5 4.5.5-4.1.5 5.1.5-5.3.5 6 .5-3.9.5 3.6.5-3.8.5 5.7.5-4.4.5 5.2.5-4.2.5 4.6.1-5.1.4 2.1.5-7.1.5 3 .5-7.9.5 2 .5-6.6.5 2 .5-6.2.5 1.2.5-8.4.5 .5.5-7.8.5-.5.5-9.1.5 1.4.5-8.1.2 2.7.3-1.3.5 10 .5 1.6.5 10.6.5 2.2.5 10.9.5 .2.5 10.8.1-2.6.4 2.2.5-5.1.5 3.2.5-6.9.5 3.3.5-5 .5 1.8.5-4.7.5 2.1.5-6.2.5 4.3.5-7 .5 4.1.5-5.8.5 2.3.2-5.2.3 2.4.5-6.3.5 1.5.5-7.3.5 .7.5-6.7.5 1.8.2-5.8.3 1.7.5-8.6.5 1.3.5-8 .5 .5.5-7.1.2 3.2.3-3.3.5 7.9.5-.7.5 7.6.5-1.4.5 7.5.5-2.3.2 5.5.3-1 .5 6.5.5-1.5.5 7.3.5-.8.5 7.6.5-2.3.5 8.4.2-3.1.3 4.6.5-2.9.5 4.5.5-2.8.5 6.4.5-4.6.5 5.1.5-3.1.5 6.2.5-3.9.2 5.6.3-3.9.5 4.5.5-4.2.5 4.9.5-3.7.5 4.9.5-3.9.5 5.8.5-3.4.5 4.9.5-4.8.5 5.3.5-4.8.5 5.7.5-4.4.5 3.2.5-2.9.5 4.4.5-5.5.5 4.8.5-4.2.5 4.7.5-4.3.5 4.1.5-4 .5 4.7.5-5 .2 4.7.3-5.9.5 3.1.5-6.3.5 2.9.5-5.1.5 3.5.5-7.3.2 4.8.3-4.6.5 3.3.5-5.2.5 2.6.5-5.4.5 3.3.2-6 .3 4.6.5-3.4.5 4.5.5-3.8.5 6.4.5-4.2.5 4.7.5-3.3.5 5.5.5-3.5.5 4.4.5-3.7.5 5.1.2-5.1.3 5.1.5-4.7.5 5.9.5-5.2.5 4.3.5-2.6.5 3.2.5-3.3.5 3.9.5-3.8.5 3.8.5-4.3.5 5 .5-5 .5 6 .5-4.1.5 4.1.5-3.6.5 3.1.5-3 .5 4.8.5-5.7.5 4.5.5-3.3.5 4.8.5-4.6.5 4.9.5-4.3.5 4.8.5-3.5.5 3.2.5-3.7.5 3.9.5-2.8.5 3.2.5-3.1.5 3.2.5-3.9.5 4.5.5-3.8.5 4.1.5-3.1.5 3.9.2-4.4.3 3.7.5-4.6.5 4.5.5-3.7.5 4 .5-4.6.5 4.4.5-2.7.5 3.5.5-4.6.5 5.6.5-5.3.5 4.7.5-3.1.5 3.1.5-3.5.5 4.4.5-5.5.5 4.4.5-3.3.5 3.9.5-4.1.5 4.5.5-5.6.5 5.2.5-5.1.5 4.4.5-3.7.5 4.2.5-4.4.5 4.6.5-4.4.5 3.8.5-3.3.5 4.8.5-4.6.5 4 .5-3.4.5 4.2.5-5.4.5 5.7.5-4.4.5 4 .5-4.3.5 4.9.5-4.2.5 3.4.5-3.6.5 3.7.5-3.4.5 3.9.5-4.9.5 4.5.5-4.8.5 5.1.5-4.2.5 4.2.5-3.7.5 3.2.5-4.4.5 5.1.5-5.6.5 5.5.5-5 .5 4.4.5-4.3.5 5.3.5-4.1.5 3.4.5-4 .5 3.7.5-2.9.5 2.8.5-3.7.5 5 .5-3.3.5 3.3.5-4.3.5 5.5.5-4.4.5 3.9.5-4.9.5 4.1.5-4 .5 4.7.5-4.8.5 4.2.2-4.2.3 4.5.5-4.4.5 5 .5-5.3.5 4.5.5-3.9.5 2.7.5-3.5.5 4.4.5-5.7.5 5 .5-4.6.5 3.8.5-3.5.5 3.5.5-4 .5 3.5.5-5.1.5 4.9.5-4.6.5 4.8.5-3.8.5 4.5.5-5.2.5 4.7.5-4.7.5 4 .5-5.3.5 3.8.5-4.4.5 5.1.5-4 .5 3.8.5-5.6.5 4.6.5-5.2.5 4.4.5-4.6.5 4.7.5-4.5.5 3.9.5-4.2.5 4.1.2-4.3.3 5.5.5-5.1.5 5.8.5-4 .5 4.3.5-5.1.5 5.6.5-4.1.5 5.4.5-3.9.5 4.7.5-4.7.5 5.4.5-4.9.5 5.3.5-2.8.5 4.1.5-4.1.5 4.1.5-2.1.5 4 .5-4.8.2 4.9.3-4.4.5 4 .5-3.6.5 4 .5-6.1.5 5.5.5-5.5.5 4.7.5-5.4.5 4.3.5-3.4.5 3.2.5-3.9.5 3 .5-3.2.5 2.8.5-4.5.5 5 .5-5.2.5 5.3.5-6.2.5 4.4.5-3.5.5 4.1.5-5.4.5 4.6.5-4.7.5 4.8.5-4.9.5 4.4.5-5.2.5 5 .5-6.3.5 4.3.5-3.4.5 4.2.5-6 .5 5.3.5-4.9.5 4.6.5-5.9.5 5.2.5-6.1.5 5.2.5-5.2.5 5.2.5-4.7.5 3.2.5-4.4.5 4.1.5-4.3.5 4.2.5-4.8.5 3.9.5-4.9.5 5.5.2-5.6.3 5.5.5-4 .5 4.7.5-4.6.5 5.1.5-4.9.5 5.3.5-4.4.5 5.3.5-4 .5 4.9.5-3.6.5 4.7.5-3.7.5 3.6.5-4.3.5 4.6.5-3.9.2 4.1.3-4.4.5 4.7.5-5.4.5 3.8.5-4.4.5 4.2.5-4 .5 4.2.5-5 .5 4.4.5-4.7.5 3.8.5-5.2.5 3.6.5-5.3.5 5.2.2-4.6.3 3 .5-3.9.5 3.3.5-4.6.5 2.6.5-4.8.5 4.4.5-4.7.2 2.9.3-2.3.5 4.3.5-3.7.5 5.8.5-3.9.5 6.6.5-3.6.5 4.5.5-3 .5 5.2.5-3.5.5 3.7.5-4.9.5 5.3.5-5.8.5 5.1.5-4.6.5 4.4.5-4.5.5 3.7.5-4.9.5 4.1.5-4 .5 4.4.5-5.2.5 4.6.5-4.9.5 3.7.5-3.6.5 3.6.5-4.1.5 3.9.5-4.3.5 3.9.5-4.2.5 3.7.5-4.5.5 3.8.5-6 .5 3.5.5-5.2.5 2.4.5-5.3.5 4 .5-6.4.5 3.1.5-5.5.2 4.4.3-6 .5 3.4.5-6.7.5 3.8.5-6.2.5 1.5.5-5.8.5 3.3.5-6.6.2 3.6.3-2.3.5 6 .5-2.4.5 5.6.5-1.2.5 5.2.5-2.5.5 5.8.5-2.4.2 4.9.3-2.7.5 6.6.5-2.7.5 6.7.5-3 .5 6.7.5-3.6.5 6.9.1-3.5.4 3.8.5-3.1.5 4 .5-2.9.5 4.7.5-3.5.5 4.9.5-4.1.5 4.2.5-3.7.5 5.1.5-4.9.5 6.1.1-4.4.4 2.7.5-6.1.5 3 .5-4.8.5 3.1.5-4.9.5 2.2.5-4.9.5 3.5.5-6.9.2 4.5.3-4.6.5 3.1.5-6.3.5 2.9.5-5.5.5 3 .5-4.4.3 3.3.2-3.4.5 4.1.5-2.3.5 5.3.5-2.6.5 5.6.5-2.3.5 5.7.2-4.9.3 6.1.5-3 .5 6.4.5-3.9.5 7.1.5-2.9.5 5.9.2-3.9.3 4 .5-4.9.5 5 .5-5.3.5 4.1.5-3.2.5 4.3.5-4.2.5 4.6.5-3.9.5 2.7.5-4.4.5 4.1.5-4.4.5 4.7.5-4.9.5 4.7.5-3.4.5 3.2.5-4.2.5 4.6.5-3.4.5 4.6.5-5.2.5 4.9.5-5 .5 5.3.5-5.2.5 5.4.5-5 .5 3.4.5-3.5.5 3 .1-3.8.4 4.9.5-5.3.5 3.2.5-4.5.5 4.4.5-4.9.5 3.1.5-5.1.5 4.6.5-4.9.5 4 .5-4.5.5 3.1.2-4.7.3 5.6.5-3.9.5 4.8.5-4.5.5 5.2.5-3.2.5 5.7.5-4.7.5 5 .5-3.8.5 5.4.5-4.1.5 4.5.1-4.2.4 4.8.5-5.2.5 3.9.5-3 .5 3.5.5-4.4.5 4.8.5-5.2.5 4 .5-4.1.5 3.6.5-4.4.5 5 .5-4.4.5 3.4.5-3.3.5 3 .5-4.1.5 4.9.5-4.2.5 3.2.5-4.3.5 4.8.5-4.6.5 4.1.5-4.6.5 5.1.5-4.7.5 3.9.5-4.3.5 5 .5-5.4.5 4.7.5-4.6.5 4.9.5-5.9.5 2.4.5-6.3.5 3 .5-5.7.5 4 .5-7.2.5 3.2.5-5.1.5 1.7.5-4.3.5 2 .5-5.9.5 2.3.5-5.8.5 2 .5-6.7.5 1.8.5-7.4.5 2.5.5-7.2.5 2.7.5-6.8.5 1.9.5-5.9.5 2.4.5-2.7.5 7.4.5-2.4.5 6.9.5-2.9.5 7.1.5-1.8.5 7 .5-2.5.5 6.5.5-3.2.5 6.9.5-1.6.5 5.5.5-3.3.5 5.6.5-3.3.5 6.9.5-4 .5 6.7.5-3.2.5 5.6.2-4.2.3 4.5.5-3.8.5 6.8.5-3.8.5 5.8.5-4.6.5 5 .5-2.4.2 4 .3-5.3.5 3.3.5-6.2.5 1.7.5-5.3.5 2.2.5-6.1.5 2.3.5-7.1.5 3.2.5-5.2.1 3.6.4-10.9.5-5.2.5-12.4.5-3.5.5-13.9.5-3.3.3-9.7.2 2.2.5-10.3.5-1.9.5-10 .5-2.9.4-8.8.1 5.1.5 3.9.5 12.3.5 2.4.5 12.6.5 3 .5 11.2.4 2.4.1 4.6.5-.5.5 8.6.5 .5.5 8.2.5 .2.5 8.2.5 0 .5 8.5.5-.5.2 7 .3-4.2.5 4.3.5-2.6.5 6 .5-3.4.5 3.8.5-3.6.2 5.8.3-4.5.5 5.7.5-3.2.5 4.5.5-4.1.5 4.5.5-3.9.5 5 .5-3.7.5 4.6.2-3 .3 4.3.5-5.8.5 4.9.5-3.7.5 3.6.5-4.9.5 4.7.5-3.5.5 4.4.5-4.9.5 4.6.5-4 .5 4.7.5-4.6.5 5.2.5-4.2.5 4.4.5-4.4.5 3.9.5-5 .5 3.7.5-4.3.5 5.7.5-5.3.5 5.5.5-4.6.5 3 .5-3.8.5 3.7.5-3.3.5 3.5.5-4.2.5 5.2.5-4.2.5 4 .5-3.9.5 4.7.5-5.1.5 4.2.5-3.3.5 3 .5-3.2.5 4.8.5-4.8.5 3.5.5-5.2.5 4.5.5-3 .2 4.2.3-4.8.5 4.5.5-5.7.5 5.3.5-5.7.5 4.9.5-5.4.5 4 .5-3.4.5 3.4.5-4.6.5 3.5.5-4.6.5 3.7.5-4 .5 4.3.5-5.3.5 3.6.5-4.1.5 4 .5-4.9.5 4.6.5-5.1.5 4.1.5-4.1.5 4.5.5-4.8.5 3.1.5-3.4.5 3.9.4-5.9.1 5.6.5-5.1.5 4.3.5-4 .5 3.1.5-4.6.5 4.1.5-4.5.5 5.4.5-5.5.5 4 .5-4.6.5 3.9.5-4.9.5 5.3.5-4.4.5 4.4.5-5.4.5 4.9.5-4.7.2 3.5.3-3.8.5 4.6.5-2.9.5 4.5.5-4.1.5 4.8.5-5.4.5 5.3.5-3.9.5 4.3.5-3.7.5 4.6.5-4.8.5 5.8.5-5.4.5 4.9.5-3.6.5 4.4.5-4.8.4 5.2.1-4.6.5 4.4.5-3.6.5 5.6.5-4.6.5 6 .5-4.1.5 3.5.5-3.9.5 4.9.5-4.3.5 5.6.5-4.3.5 5.4.5-4.8.5 5 .5-2.9.5 5.3.1-5.1.4 4.3.5-3.3.5 3.4.5-4.2.5 3.9.5-4.8.5 5.5.5-4.2.5 4.9.5-5.8.5 4.6.5-2.9.5 3.8.5-4 .5 4.3.5-4.3.5 4 .5-4.9.5 4.5.5-4.4.5 4.2.5-4.6.5 4.6.5-4.7.5 5.3.5-4.3.5 3.4.5-4.7.5 6.3.5-5.6.5 5 .5-4.7.5 4.3.5-4.8.5 5.5.5-5.1.5 4.8.5-4.7.5 5.1.5-5.2.5 3.8.5-3.8.5 4.2.5-3.5.5 3.5.5-4 .5 4.5.5-3.8.5 3.6.5-4.1.5 5 .5-4.9.5 3.8.5-4.3.5 3.8.5-3.9.5 4 .5-3.9.5 5 .5-4.9.5 5 .5-5 .5 5.4.5-5.6.5 5.5.5-5.1.5 4.8.5-4.2.5 4.2.5-5.7.5 5.6.5-4 .5 5 .5-5.5.5 4.1.5-3.6.5 4.1.5-4.1.5 4.5.5-4 .5 4.8.5-6.2.5 5.2.5-4.2.5 3.5.5-5.3.5 5.2.5-4.9.5 5 .5-5.4.5 5.3.5-5.7.5 5.7.5-4.5.5 3.8.2-3.2" stroke-width="5.2"/>
</g>
<g stroke="#000" fill="none" stroke-linecap="round">
<line x1="532.3" y1="170.5" x2="532.3" y2="1754.5" stroke-width="5.0" stroke-dasharray="6.00 14.76"/>
<line x1="1414.5" y1="183.5" x2="1414.5" y2="1754.5" stroke-width="5.0" stroke-dasharray="6.00 14.59"/>
<line x1="451.9" y1="172.6" x2="529.1" y2="266.1" stroke-width="7.6" stroke-dasharray="7.20 15.60"/>
<line x1="590.2" y1="186.3" x2="564.0" y2="409.8" stroke-width="7.6" stroke-dasharray="7.20 17.01"/>
<line x1="386.8" y1="363.4" x2="477.0" y2="435.3" stroke-width="7.6" stroke-dasharray="7.20 14.45"/>
<line x1="833.5" y1="311.6" x2="833.5" y2="483.2" stroke-width="7.6" stroke-dasharray="7.20 16.29"/>
<line x1="1070.8" y1="173.5" x2="1093.4" y2="517.2" stroke-width="7.6" stroke-dasharray="7.20 16.89"/>
<line x1="1157.3" y1="276.8" x2="1157.3" y2="382.2" stroke-width="7.6" stroke-dasharray="7.20 17.35"/>
<line x1="1392.6" y1="184.8" x2="1392.6" y2="436.2" stroke-width="7.6" stroke-dasharray="7.20 17.22"/>
<line x1="1498.5" y1="159.1" x2="1417.4" y2="493.3" stroke-width="7.6" stroke-dasharray="7.20 16.85"/>
<line x1="1016.4" y1="485.4" x2="1049.9" y2="525.1" stroke-width="7.6" stroke-dasharray="7.20 15.20"/>
<line x1="491.7" y1="832.4" x2="527.8" y2="871.0" stroke-width="7.6" stroke-dasharray="7.20 15.65"/>
<line x1="384.7" y1="994.0" x2="477.6" y2="1067.2" stroke-width="7.6" stroke-dasharray="7.20 15.01"/>
<line x1="592.3" y1="965.8" x2="567.3" y2="1010.3" stroke-width="7.6" stroke-dasharray="7.20 14.73"/>
<line x1="833.4" y1="844.8" x2="833.4" y2="1096.7" stroke-width="7.6" stroke-dasharray="7.20 17.27"/>
<line x1="1023.8" y1="1074.6" x2="1044.3" y2="1119.2" stroke-width="7.6" stroke-dasharray="7.20 13.79"/>
<line x1="1096.2" y1="850.4" x2="1096.2" y2="1123.7" stroke-width="7.6" stroke-dasharray="7.20 16.99"/>
<line x1="1158.7" y1="982.8" x2="1158.7" y2="1037.2" stroke-width="7.6" stroke-dasharray="7.20 16.40"/>
<line x1="1391.5" y1="839.8" x2="1391.5" y2="1061.2" stroke-width="7.6" stroke-dasharray="7.20 16.60"/>
<line x1="1502.5" y1="834.1" x2="1428.0" y2="1094.5" stroke-width="7.6" stroke-dasharray="7.20 16.77"/>
<line x1="475.1" y1="1452.5" x2="530.2" y2="1490.2" stroke-width="7.6" stroke-dasharray="7.20 22.53"/>
<line x1="618.4" y1="1522.3" x2="594.3" y2="1564.9" stroke-width="7.6" stroke-dasharray="7.20 13.68"/>
<line x1="859.2" y1="1400.0" x2="859.2" y2="1650.8" stroke-width="7.6" stroke-dasharray="7.20 17.16"/>
<line x1="1048.9" y1="1595.2" x2="1070.8" y2="1641.4" stroke-width="7.6" stroke-dasharray="7.20 14.72"/>
<line x1="1121.6" y1="1365.8" x2="1121.6" y2="1641.2" stroke-width="7.6" stroke-dasharray="7.20 17.18"/>
<line x1="1184.4" y1="1537.8" x2="1184.4" y2="1591.5" stroke-width="7.6" stroke-dasharray="7.20 16.05"/>
<line x1="1365.2" y1="1583.4" x2="1387.3" y2="1626.6" stroke-width="7.6" stroke-dasharray="7.20 13.46"/>
<line x1="1530.8" y1="1391.5" x2="1434.9" y2="1641.5" stroke-width="7.6" stroke-dasharray="7.20 16.48"/>
</g>
<g fill="#000">
<path d="M62.8 1781 V1770 Q62.8 1764.2 68.6 1764.2 H1625.9 Q1631.7 1764.2 1631.7 1770 V1781 Z"/>
<rect x="62.8" y="1775" width="7.4" height="39" rx="3"/>
<rect x="472.4" y="1775" width="7.4" height="34.8" rx="3"/>
<rect x="846.5" y="1775" width="7.4" height="34.8" rx="3"/>
<rect x="1260.5" y="1775" width="7" height="35.5" rx="3"/>
<rect x="1624.4" y="1775" width="7.3" height="32" rx="3"/>
</g>
<text transform="translate(288.43 133.10) scale(0.8546 1)" font-size="67.20">2919.7</text>
<text transform="translate(524.11 110.80) scale(0.8588 1)" font-size="67.20">2849.8</text>
<text transform="translate(216.71 344.30) scale(0.8518 1)" font-size="67.20">3027.2</text>
<text transform="translate(736.95 249.90) scale(0.8478 1)" font-size="67.20">2237.5</text>
<text transform="translate(946.34 110.80) scale(0.8652 1)" font-size="67.20">1637</text>
<text transform="translate(1124.95 213.00) scale(0.8627 1)" font-size="67.20">1494</text>
<text transform="translate(1326.29 115.10) scale(0.8637 1)" font-size="67.20">966</text>
<text transform="translate(1513.90 110.80) scale(0.8597 1)" font-size="67.20">912</text>
<text transform="translate(894.71 433.10) scale(0.8514 1)" font-size="67.20">1735.6</text>
<text transform="translate(347.93 807.00) scale(0.8546 1)" font-size="67.20">2919.7</text>
<text transform="translate(160.37 872.60) scale(0.8729 1)" font-size="67.20">2945.8,</text>
<text transform="translate(167.60 961.70) scale(0.8516 1)" font-size="67.20">Absent</text>
<text transform="translate(176.27 1049.20) scale(0.8079 1)" font-size="67.20">in ABS</text>
<text transform="translate(602.71 923.60) scale(0.8588 1)" font-size="67.20">2849.8</text>
<text transform="translate(789.92 759.40) scale(0.8573 1)" font-size="67.20">2238</text>
<text transform="translate(1026.99 759.30) scale(0.8553 1)" font-size="67.20">1637</text>
<text transform="translate(1327.37 759.30) scale(0.8692 1)" font-size="67.20">967</text>
<text transform="translate(1513.78 721.70) scale(0.8980 1)" font-size="67.20">911.2</text>
<text transform="translate(1156.95 919.40) scale(0.8430 1)" font-size="67.20">1494</text>
<text transform="translate(892.71 1001.50) scale(0.8503 1)" font-size="67.20">1735.2</text>
<text transform="translate(175.00 1353.10) scale(0.9123 1)" font-size="67.20">Minor shift</text>
<text transform="translate(253.91 1441.50) scale(0.8615 1)" font-size="67.20">2918</text>
<text transform="translate(624.74 1455.60) scale(0.8518 1)" font-size="67.20">2849.8</text>
<text transform="translate(785.75 1313.70) scale(0.8488 1)" font-size="67.20">2237.5</text>
<text transform="translate(1022.37 1313.60) scale(0.8589 1)" font-size="67.20">1637.7</text>
<text transform="translate(1425.18 1286.50) scale(0.9152 1)" font-size="67.20">Minor shift</text>
<text transform="translate(1495.91 1375.70) scale(0.8576 1)" font-size="67.20">910.7</text>
<text transform="translate(1134.98 1494.30) scale(0.8571 1)" font-size="67.20">1494</text>
<text transform="translate(919.01 1521.60) scale(0.8519 1)" font-size="67.20">1735.6</text>
<text transform="translate(1247.02 1572.10) scale(0.8545 1)" font-size="67.20">965.7</text>
<text transform="translate(40.60 1924.80) scale(0.8548 1)" font-size="87.60">4000</text>
<text transform="translate(415.31 1924.80) scale(0.8532 1)" font-size="87.60">3100</text>
<text transform="translate(767.05 1921.80) scale(0.8572 1)" font-size="87.60">2200</text>
<text transform="translate(1181.25 1921.80) scale(0.8593 1)" font-size="87.60">1300</text>
<text transform="translate(1535.19 1912.90) scale(0.8601 1)" font-size="87.60">400</text>
<text transform="translate(0 2076.50) scale(0.9000 1)" x="381.84 500.69 569.71 638.67 710.73 782.06 857.29 969.13 1041.40 1119.44" y="0" font-size="132.50" stroke="#fff" stroke-width="0.6" stroke-linejoin="round">Wavenumber</text>
<text transform="translate(1079.22 2076.75) scale(0.6323 1)" font-size="132.50" stroke="#fff" stroke-width="0.5" stroke-linejoin="round">(</text>
<text transform="translate(1114.12 2076.75) scale(0.9116 1)" font-size="99.44" stroke="#fff" stroke-width="0.5" stroke-linejoin="round">cm</text>
<text transform="translate(1234.42 2022.30) scale(0.9081 1)" font-size="63.04">-1</text>
<text transform="translate(1293.83 2076.75) scale(0.6323 1)" font-size="132.50" stroke="#fff" stroke-width="0.5" stroke-linejoin="round">)</text>
<text transform="translate(249.10 2243.20) scale(0.7179 1)" font-size="78.30">ABS</text>
<text transform="translate(830.00 2243.00) scale(0.7789 1)" font-size="78.30">ABS/PP/PE-g-MAH</text>
<text transform="translate(1376.03 2243.00) scale(0.8395 1)" font-size="78.30">pellets</text>
<text transform="translate(347.10 2419.40) scale(0.7972 1)" font-size="78.30">Aged</text>
<text transform="translate(508.00 2419.40) scale(0.7807 1)" font-size="78.30">ABS/PP/PE-g-MAH</text>
<text transform="translate(1055.41 2419.40) scale(0.8498 1)" font-size="78.30">(combination</text>
<text transform="translate(1452.86 2419.40) scale(0.8268 1)" font-size="78.30">27)</text>
<line x1="137" y1="2218.8" x2="224" y2="2218.8" stroke="#1E9BDC" stroke-width="12.5" stroke-linecap="round"/>
<line x1="651" y1="2220.8" x2="770.5" y2="2220.8" stroke="#8C6405" stroke-width="13" stroke-linecap="round"/>
<line x1="222.5" y1="2408" x2="312.2" y2="2408" stroke="#0AB450" stroke-width="12.5" stroke-linecap="round"/>
</svg>
</body></html>
